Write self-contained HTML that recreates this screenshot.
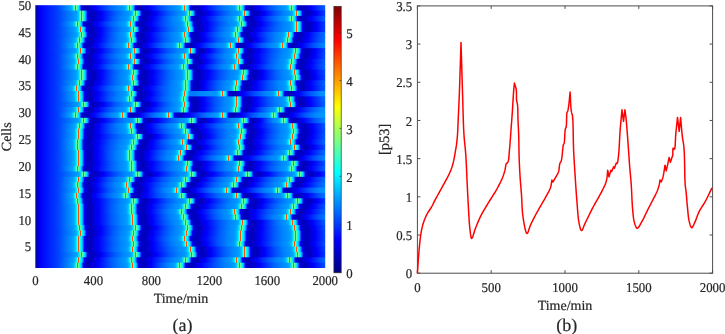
<!DOCTYPE html>
<html><head><meta charset="utf-8"><style>
html,body{margin:0;padding:0;background:#fff;width:725px;height:334px;overflow:hidden;}
svg{position:absolute;left:0;top:0;display:block;}
svg.b{filter:blur(0.3px);}
svg.h{filter:blur(0.25px);}
</style></head><body>
<svg class="h" width="725" height="334" viewBox="0 0 725 334"><defs><linearGradient id="g0"><stop offset="0.00000" stop-color="#00009b"/><stop offset="0.00345" stop-color="#0000ac"/><stop offset="0.01381" stop-color="#0000ef"/><stop offset="0.01726" stop-color="#0000fc"/><stop offset="0.03107" stop-color="#0010ff"/><stop offset="0.07594" stop-color="#003eff"/><stop offset="0.12081" stop-color="#00a4ff"/><stop offset="0.12427" stop-color="#00b4ff"/><stop offset="0.12772" stop-color="#00cdff"/><stop offset="0.13117" stop-color="#00f4ff"/><stop offset="0.13462" stop-color="#5cffa3"/><stop offset="0.13807" stop-color="#ff4e00"/><stop offset="0.14153" stop-color="#61ff9e"/><stop offset="0.14498" stop-color="#0afff5"/><stop offset="0.14843" stop-color="#00e7ff"/><stop offset="0.15188" stop-color="#00b0ff"/><stop offset="0.15533" stop-color="#0054ff"/><stop offset="0.15878" stop-color="#0001ff"/><stop offset="0.16224" stop-color="#0000da"/><stop offset="0.16569" stop-color="#0000ca"/><stop offset="0.17259" stop-color="#0000bf"/><stop offset="0.17950" stop-color="#0000bc"/><stop offset="0.20711" stop-color="#0000fc"/><stop offset="0.25544" stop-color="#005eff"/><stop offset="0.28650" stop-color="#008aff"/><stop offset="0.30031" stop-color="#0095ff"/><stop offset="0.30721" stop-color="#00a4ff"/><stop offset="0.31067" stop-color="#00b4ff"/><stop offset="0.31412" stop-color="#00cdff"/><stop offset="0.31757" stop-color="#00f4ff"/><stop offset="0.32102" stop-color="#5cffa3"/><stop offset="0.32447" stop-color="#ff4e00"/><stop offset="0.32793" stop-color="#61ff9e"/><stop offset="0.33138" stop-color="#0afff5"/><stop offset="0.33483" stop-color="#00e7ff"/><stop offset="0.33828" stop-color="#00b0ff"/><stop offset="0.34173" stop-color="#0054ff"/><stop offset="0.34518" stop-color="#0001ff"/><stop offset="0.34864" stop-color="#0000da"/><stop offset="0.35209" stop-color="#0000ca"/><stop offset="0.35899" stop-color="#0000bf"/><stop offset="0.36590" stop-color="#0000bc"/><stop offset="0.39351" stop-color="#0000fb"/><stop offset="0.40041" stop-color="#000bff"/><stop offset="0.44184" stop-color="#005aff"/><stop offset="0.47290" stop-color="#0086ff"/><stop offset="0.49016" stop-color="#0095ff"/><stop offset="0.49707" stop-color="#00a4ff"/><stop offset="0.50052" stop-color="#00b4ff"/><stop offset="0.50397" stop-color="#00cdff"/><stop offset="0.50742" stop-color="#00f4ff"/><stop offset="0.51087" stop-color="#5cffa3"/><stop offset="0.51433" stop-color="#ff4e00"/><stop offset="0.51778" stop-color="#61ff9e"/><stop offset="0.52123" stop-color="#0afff5"/><stop offset="0.52468" stop-color="#00e7ff"/><stop offset="0.52813" stop-color="#00b0ff"/><stop offset="0.53158" stop-color="#0054ff"/><stop offset="0.53504" stop-color="#0001ff"/><stop offset="0.53849" stop-color="#0000da"/><stop offset="0.54194" stop-color="#0000ca"/><stop offset="0.54884" stop-color="#0000bf"/><stop offset="0.55575" stop-color="#0000bc"/><stop offset="0.58336" stop-color="#0000fb"/><stop offset="0.59027" stop-color="#000bff"/><stop offset="0.63169" stop-color="#005aff"/><stop offset="0.66275" stop-color="#0086ff"/><stop offset="0.68001" stop-color="#0095ff"/><stop offset="0.68692" stop-color="#00a4ff"/><stop offset="0.69037" stop-color="#00b4ff"/><stop offset="0.69382" stop-color="#00cdff"/><stop offset="0.69727" stop-color="#00f4ff"/><stop offset="0.70072" stop-color="#5cffa3"/><stop offset="0.70418" stop-color="#ff4e00"/><stop offset="0.70763" stop-color="#61ff9e"/><stop offset="0.71108" stop-color="#0afff5"/><stop offset="0.71453" stop-color="#00e7ff"/><stop offset="0.71798" stop-color="#00b0ff"/><stop offset="0.72144" stop-color="#0054ff"/><stop offset="0.72489" stop-color="#0001ff"/><stop offset="0.72834" stop-color="#0000da"/><stop offset="0.73179" stop-color="#0000ca"/><stop offset="0.73870" stop-color="#0000bf"/><stop offset="0.74560" stop-color="#0000bc"/><stop offset="0.77321" stop-color="#0001ff"/><stop offset="0.81118" stop-color="#0053ff"/><stop offset="0.84225" stop-color="#0085ff"/><stop offset="0.85951" stop-color="#0095ff"/><stop offset="0.86641" stop-color="#00a4ff"/><stop offset="0.86987" stop-color="#00b4ff"/><stop offset="0.87332" stop-color="#00cdff"/><stop offset="0.87677" stop-color="#00f4ff"/><stop offset="0.88022" stop-color="#5cffa3"/><stop offset="0.88367" stop-color="#ff4e00"/><stop offset="0.88712" stop-color="#61ff9e"/><stop offset="0.89058" stop-color="#0afff5"/><stop offset="0.89403" stop-color="#00e7ff"/><stop offset="0.89748" stop-color="#00b0ff"/><stop offset="0.90093" stop-color="#0054ff"/><stop offset="0.90438" stop-color="#0001ff"/><stop offset="0.90784" stop-color="#0000da"/><stop offset="0.91129" stop-color="#0000ca"/><stop offset="0.91819" stop-color="#0000bf"/><stop offset="0.92509" stop-color="#0000bc"/><stop offset="0.95271" stop-color="#0000fe"/><stop offset="0.99413" stop-color="#0056ff"/><stop offset="1.00000" stop-color="#005fff"/></linearGradient><linearGradient id="g1"><stop offset="0.00000" stop-color="#00009b"/><stop offset="0.00345" stop-color="#0000ac"/><stop offset="0.01381" stop-color="#0000ef"/><stop offset="0.01726" stop-color="#0000fc"/><stop offset="0.03107" stop-color="#0010ff"/><stop offset="0.07939" stop-color="#0043ff"/><stop offset="0.13807" stop-color="#009cff"/><stop offset="0.14153" stop-color="#00a4ff"/><stop offset="0.14498" stop-color="#00b4ff"/><stop offset="0.14843" stop-color="#00cdff"/><stop offset="0.15188" stop-color="#00f4ff"/><stop offset="0.15533" stop-color="#5cffa3"/><stop offset="0.15878" stop-color="#ff4e00"/><stop offset="0.16224" stop-color="#61ff9e"/><stop offset="0.16569" stop-color="#0afff5"/><stop offset="0.16914" stop-color="#00e7ff"/><stop offset="0.17259" stop-color="#00b0ff"/><stop offset="0.17604" stop-color="#0054ff"/><stop offset="0.17950" stop-color="#0001ff"/><stop offset="0.18295" stop-color="#0000da"/><stop offset="0.18640" stop-color="#0000ca"/><stop offset="0.19330" stop-color="#0000bf"/><stop offset="0.20021" stop-color="#0000bc"/><stop offset="0.22782" stop-color="#0000fc"/><stop offset="0.27615" stop-color="#005eff"/><stop offset="0.30721" stop-color="#008aff"/><stop offset="0.32102" stop-color="#0095ff"/><stop offset="0.32793" stop-color="#00a4ff"/><stop offset="0.33138" stop-color="#00b4ff"/><stop offset="0.33483" stop-color="#00cdff"/><stop offset="0.33828" stop-color="#00f4ff"/><stop offset="0.34173" stop-color="#5cffa3"/><stop offset="0.34518" stop-color="#ff4e00"/><stop offset="0.34864" stop-color="#61ff9e"/><stop offset="0.35209" stop-color="#0afff5"/><stop offset="0.35554" stop-color="#00e7ff"/><stop offset="0.35899" stop-color="#00b0ff"/><stop offset="0.36244" stop-color="#0054ff"/><stop offset="0.36590" stop-color="#0001ff"/><stop offset="0.36935" stop-color="#0000da"/><stop offset="0.37280" stop-color="#0000ca"/><stop offset="0.37970" stop-color="#0000bf"/><stop offset="0.38661" stop-color="#0000bc"/><stop offset="0.41422" stop-color="#0000fc"/><stop offset="0.46255" stop-color="#005eff"/><stop offset="0.49361" stop-color="#008aff"/><stop offset="0.50742" stop-color="#0095ff"/><stop offset="0.51433" stop-color="#00a4ff"/><stop offset="0.51778" stop-color="#00b4ff"/><stop offset="0.52123" stop-color="#00cdff"/><stop offset="0.52468" stop-color="#00f4ff"/><stop offset="0.52813" stop-color="#5cffa3"/><stop offset="0.53158" stop-color="#ff4e00"/><stop offset="0.53504" stop-color="#61ff9e"/><stop offset="0.53849" stop-color="#0afff5"/><stop offset="0.54194" stop-color="#00e7ff"/><stop offset="0.54539" stop-color="#00b0ff"/><stop offset="0.54884" stop-color="#0054ff"/><stop offset="0.55230" stop-color="#0001ff"/><stop offset="0.55575" stop-color="#0000da"/><stop offset="0.55920" stop-color="#0000ca"/><stop offset="0.56610" stop-color="#0000bf"/><stop offset="0.57301" stop-color="#0000bc"/><stop offset="0.60062" stop-color="#0000fb"/><stop offset="0.60753" stop-color="#000bff"/><stop offset="0.64895" stop-color="#005aff"/><stop offset="0.68001" stop-color="#0086ff"/><stop offset="0.69727" stop-color="#0095ff"/><stop offset="0.70418" stop-color="#00a4ff"/><stop offset="0.70763" stop-color="#00b4ff"/><stop offset="0.71108" stop-color="#00cdff"/><stop offset="0.71453" stop-color="#00f4ff"/><stop offset="0.71798" stop-color="#5cffa3"/><stop offset="0.72144" stop-color="#ff4e00"/><stop offset="0.72489" stop-color="#61ff9e"/><stop offset="0.72834" stop-color="#0afff5"/><stop offset="0.73179" stop-color="#00e7ff"/><stop offset="0.73524" stop-color="#00b0ff"/><stop offset="0.73870" stop-color="#0054ff"/><stop offset="0.74215" stop-color="#0001ff"/><stop offset="0.74560" stop-color="#0000da"/><stop offset="0.74905" stop-color="#0000ca"/><stop offset="0.75595" stop-color="#0000bf"/><stop offset="0.76286" stop-color="#0000bc"/><stop offset="0.79047" stop-color="#0001ff"/><stop offset="0.82844" stop-color="#0053ff"/><stop offset="0.85951" stop-color="#0085ff"/><stop offset="0.87677" stop-color="#0095ff"/><stop offset="0.88367" stop-color="#00a4ff"/><stop offset="0.88712" stop-color="#00b4ff"/><stop offset="0.89058" stop-color="#00cdff"/><stop offset="0.89403" stop-color="#00f4ff"/><stop offset="0.89748" stop-color="#5cffa3"/><stop offset="0.90093" stop-color="#ff4e00"/><stop offset="0.90438" stop-color="#61ff9e"/><stop offset="0.90784" stop-color="#0afff5"/><stop offset="0.91129" stop-color="#00e7ff"/><stop offset="0.91474" stop-color="#00b0ff"/><stop offset="0.91819" stop-color="#0054ff"/><stop offset="0.92164" stop-color="#0001ff"/><stop offset="0.92509" stop-color="#0000da"/><stop offset="0.92855" stop-color="#0000ca"/><stop offset="0.93545" stop-color="#0000bf"/><stop offset="0.94235" stop-color="#0000bc"/><stop offset="0.96997" stop-color="#0000fe"/><stop offset="0.99758" stop-color="#003bff"/><stop offset="1.00000" stop-color="#003fff"/></linearGradient><linearGradient id="g2"><stop offset="0.00000" stop-color="#00009b"/><stop offset="0.00345" stop-color="#0000ac"/><stop offset="0.01381" stop-color="#0000ef"/><stop offset="0.01726" stop-color="#0000fc"/><stop offset="0.03107" stop-color="#0010ff"/><stop offset="0.07939" stop-color="#0043ff"/><stop offset="0.13807" stop-color="#009cff"/><stop offset="0.14153" stop-color="#00a4ff"/><stop offset="0.14498" stop-color="#00b4ff"/><stop offset="0.14843" stop-color="#00cdff"/><stop offset="0.15188" stop-color="#00f4ff"/><stop offset="0.15533" stop-color="#5cffa3"/><stop offset="0.15878" stop-color="#ff4e00"/><stop offset="0.16224" stop-color="#61ff9e"/><stop offset="0.16569" stop-color="#0afff5"/><stop offset="0.16914" stop-color="#00e7ff"/><stop offset="0.17259" stop-color="#00b0ff"/><stop offset="0.17604" stop-color="#0054ff"/><stop offset="0.17950" stop-color="#0001ff"/><stop offset="0.18295" stop-color="#0000da"/><stop offset="0.18640" stop-color="#0000ca"/><stop offset="0.19330" stop-color="#0000bf"/><stop offset="0.20021" stop-color="#0000bc"/><stop offset="0.22782" stop-color="#0001ff"/><stop offset="0.26579" stop-color="#0053ff"/><stop offset="0.29686" stop-color="#0085ff"/><stop offset="0.31412" stop-color="#0095ff"/><stop offset="0.32102" stop-color="#00a4ff"/><stop offset="0.32447" stop-color="#00b4ff"/><stop offset="0.32793" stop-color="#00cdff"/><stop offset="0.33138" stop-color="#00f4ff"/><stop offset="0.33483" stop-color="#5cffa3"/><stop offset="0.33828" stop-color="#ff4e00"/><stop offset="0.34173" stop-color="#61ff9e"/><stop offset="0.34518" stop-color="#0afff5"/><stop offset="0.34864" stop-color="#00e7ff"/><stop offset="0.35209" stop-color="#00b0ff"/><stop offset="0.35554" stop-color="#0054ff"/><stop offset="0.35899" stop-color="#0001ff"/><stop offset="0.36244" stop-color="#0000da"/><stop offset="0.36590" stop-color="#0000ca"/><stop offset="0.37280" stop-color="#0000bf"/><stop offset="0.37970" stop-color="#0000bc"/><stop offset="0.40732" stop-color="#0001ff"/><stop offset="0.44529" stop-color="#0053ff"/><stop offset="0.47635" stop-color="#0085ff"/><stop offset="0.49361" stop-color="#0095ff"/><stop offset="0.50052" stop-color="#00a4ff"/><stop offset="0.50397" stop-color="#00b4ff"/><stop offset="0.50742" stop-color="#00cdff"/><stop offset="0.51087" stop-color="#00f4ff"/><stop offset="0.51433" stop-color="#5cffa3"/><stop offset="0.51778" stop-color="#ff4e00"/><stop offset="0.52123" stop-color="#61ff9e"/><stop offset="0.52468" stop-color="#0afff5"/><stop offset="0.52813" stop-color="#00e7ff"/><stop offset="0.53158" stop-color="#00b0ff"/><stop offset="0.53504" stop-color="#0054ff"/><stop offset="0.53849" stop-color="#0001ff"/><stop offset="0.54194" stop-color="#0000da"/><stop offset="0.54539" stop-color="#0000ca"/><stop offset="0.55230" stop-color="#0000bf"/><stop offset="0.55920" stop-color="#0000bc"/><stop offset="0.58681" stop-color="#0000fc"/><stop offset="0.63514" stop-color="#005eff"/><stop offset="0.66621" stop-color="#008aff"/><stop offset="0.68001" stop-color="#0095ff"/><stop offset="0.68692" stop-color="#00a4ff"/><stop offset="0.69037" stop-color="#00b4ff"/><stop offset="0.69382" stop-color="#00cdff"/><stop offset="0.69727" stop-color="#00f4ff"/><stop offset="0.70072" stop-color="#5cffa3"/><stop offset="0.70418" stop-color="#ff4e00"/><stop offset="0.70763" stop-color="#61ff9e"/><stop offset="0.71108" stop-color="#0afff5"/><stop offset="0.71453" stop-color="#00e7ff"/><stop offset="0.71798" stop-color="#00b0ff"/><stop offset="0.72144" stop-color="#0054ff"/><stop offset="0.72489" stop-color="#0001ff"/><stop offset="0.72834" stop-color="#0000da"/><stop offset="0.73179" stop-color="#0000ca"/><stop offset="0.73870" stop-color="#0000bf"/><stop offset="0.74560" stop-color="#0000bc"/><stop offset="0.77321" stop-color="#0001ff"/><stop offset="0.81118" stop-color="#0053ff"/><stop offset="0.84225" stop-color="#0085ff"/><stop offset="0.85951" stop-color="#0095ff"/><stop offset="0.86641" stop-color="#00a4ff"/><stop offset="0.86987" stop-color="#00b4ff"/><stop offset="0.87332" stop-color="#00cdff"/><stop offset="0.87677" stop-color="#00f4ff"/><stop offset="0.88022" stop-color="#5cffa3"/><stop offset="0.88367" stop-color="#ff4e00"/><stop offset="0.88712" stop-color="#61ff9e"/><stop offset="0.89058" stop-color="#0afff5"/><stop offset="0.89403" stop-color="#00e7ff"/><stop offset="0.89748" stop-color="#00b0ff"/><stop offset="0.90093" stop-color="#0054ff"/><stop offset="0.90438" stop-color="#0001ff"/><stop offset="0.90784" stop-color="#0000da"/><stop offset="0.91129" stop-color="#0000ca"/><stop offset="0.91819" stop-color="#0000bf"/><stop offset="0.92509" stop-color="#0000bc"/><stop offset="0.95271" stop-color="#0000fe"/><stop offset="0.99413" stop-color="#0056ff"/><stop offset="1.00000" stop-color="#005fff"/></linearGradient><linearGradient id="g3"><stop offset="0.00000" stop-color="#00009b"/><stop offset="0.00345" stop-color="#0000ac"/><stop offset="0.01381" stop-color="#0000ef"/><stop offset="0.01726" stop-color="#0000fc"/><stop offset="0.03107" stop-color="#0010ff"/><stop offset="0.07594" stop-color="#003eff"/><stop offset="0.12772" stop-color="#00a4ff"/><stop offset="0.13117" stop-color="#00b4ff"/><stop offset="0.13462" stop-color="#00cdff"/><stop offset="0.13807" stop-color="#00f4ff"/><stop offset="0.14153" stop-color="#5cffa3"/><stop offset="0.14498" stop-color="#ff4e00"/><stop offset="0.14843" stop-color="#61ff9e"/><stop offset="0.15188" stop-color="#0afff5"/><stop offset="0.15533" stop-color="#00e7ff"/><stop offset="0.15878" stop-color="#00b0ff"/><stop offset="0.16224" stop-color="#0054ff"/><stop offset="0.16569" stop-color="#0001ff"/><stop offset="0.16914" stop-color="#0000da"/><stop offset="0.17259" stop-color="#0000ca"/><stop offset="0.17950" stop-color="#0000bf"/><stop offset="0.18640" stop-color="#0000bc"/><stop offset="0.21401" stop-color="#0000fe"/><stop offset="0.25544" stop-color="#0056ff"/><stop offset="0.28650" stop-color="#0085ff"/><stop offset="0.30376" stop-color="#0095ff"/><stop offset="0.31067" stop-color="#00a4ff"/><stop offset="0.31412" stop-color="#00b4ff"/><stop offset="0.31757" stop-color="#00cdff"/><stop offset="0.32102" stop-color="#00f4ff"/><stop offset="0.32447" stop-color="#5cffa3"/><stop offset="0.32793" stop-color="#ff4e00"/><stop offset="0.33138" stop-color="#61ff9e"/><stop offset="0.33483" stop-color="#0afff5"/><stop offset="0.33828" stop-color="#00e7ff"/><stop offset="0.34173" stop-color="#00b0ff"/><stop offset="0.34518" stop-color="#0054ff"/><stop offset="0.34864" stop-color="#0001ff"/><stop offset="0.35209" stop-color="#0000da"/><stop offset="0.35554" stop-color="#0000ca"/><stop offset="0.36244" stop-color="#0000bf"/><stop offset="0.36935" stop-color="#0000bc"/><stop offset="0.40041" stop-color="#0000ff"/><stop offset="0.44529" stop-color="#0054ff"/><stop offset="0.47981" stop-color="#0084ff"/><stop offset="0.50052" stop-color="#0095ff"/><stop offset="0.50742" stop-color="#00a4ff"/><stop offset="0.51087" stop-color="#00b4ff"/><stop offset="0.51433" stop-color="#00cdff"/><stop offset="0.51778" stop-color="#00f4ff"/><stop offset="0.52123" stop-color="#5cffa3"/><stop offset="0.52468" stop-color="#ff4e00"/><stop offset="0.52813" stop-color="#61ff9e"/><stop offset="0.53158" stop-color="#0afff5"/><stop offset="0.53504" stop-color="#00e7ff"/><stop offset="0.53849" stop-color="#00b0ff"/><stop offset="0.54194" stop-color="#0054ff"/><stop offset="0.54539" stop-color="#0001ff"/><stop offset="0.54884" stop-color="#0000da"/><stop offset="0.55230" stop-color="#0000ca"/><stop offset="0.55920" stop-color="#0000bf"/><stop offset="0.56610" stop-color="#0000bc"/><stop offset="0.59372" stop-color="#0000fc"/><stop offset="0.64204" stop-color="#005eff"/><stop offset="0.67311" stop-color="#008aff"/><stop offset="0.68692" stop-color="#0095ff"/><stop offset="0.69382" stop-color="#00a4ff"/><stop offset="0.69727" stop-color="#00b4ff"/><stop offset="0.70072" stop-color="#00cdff"/><stop offset="0.70418" stop-color="#00f4ff"/><stop offset="0.70763" stop-color="#5cffa3"/><stop offset="0.71108" stop-color="#ff4e00"/><stop offset="0.71453" stop-color="#61ff9e"/><stop offset="0.71798" stop-color="#0afff5"/><stop offset="0.72144" stop-color="#00e7ff"/><stop offset="0.72489" stop-color="#00b0ff"/><stop offset="0.72834" stop-color="#0054ff"/><stop offset="0.73179" stop-color="#0001ff"/><stop offset="0.73524" stop-color="#0000da"/><stop offset="0.73870" stop-color="#0000ca"/><stop offset="0.74560" stop-color="#0000bf"/><stop offset="0.75250" stop-color="#0000bc"/><stop offset="0.78012" stop-color="#0000fb"/><stop offset="0.78702" stop-color="#000bff"/><stop offset="0.82844" stop-color="#005aff"/><stop offset="0.85951" stop-color="#0086ff"/><stop offset="0.87677" stop-color="#0095ff"/><stop offset="0.88367" stop-color="#00a4ff"/><stop offset="0.88712" stop-color="#00b4ff"/><stop offset="0.89058" stop-color="#00cdff"/><stop offset="0.89403" stop-color="#00f4ff"/><stop offset="0.89748" stop-color="#5cffa3"/><stop offset="0.90093" stop-color="#ff4e00"/><stop offset="0.90438" stop-color="#61ff9e"/><stop offset="0.90784" stop-color="#0afff5"/><stop offset="0.91129" stop-color="#00e7ff"/><stop offset="0.91474" stop-color="#00b0ff"/><stop offset="0.91819" stop-color="#0054ff"/><stop offset="0.92164" stop-color="#0001ff"/><stop offset="0.92509" stop-color="#0000da"/><stop offset="0.92855" stop-color="#0000ca"/><stop offset="0.93545" stop-color="#0000bf"/><stop offset="0.94235" stop-color="#0000bc"/><stop offset="0.96997" stop-color="#0000fe"/><stop offset="0.99758" stop-color="#003bff"/><stop offset="1.00000" stop-color="#003fff"/></linearGradient><linearGradient id="g4"><stop offset="0.00000" stop-color="#00009b"/><stop offset="0.00345" stop-color="#0000ac"/><stop offset="0.01381" stop-color="#0000ef"/><stop offset="0.01726" stop-color="#0000fc"/><stop offset="0.03107" stop-color="#0010ff"/><stop offset="0.07939" stop-color="#0043ff"/><stop offset="0.13462" stop-color="#009cff"/><stop offset="0.13807" stop-color="#00a4ff"/><stop offset="0.14153" stop-color="#00b4ff"/><stop offset="0.14498" stop-color="#00cdff"/><stop offset="0.14843" stop-color="#00f4ff"/><stop offset="0.15188" stop-color="#5cffa3"/><stop offset="0.15533" stop-color="#ff4e00"/><stop offset="0.15878" stop-color="#61ff9e"/><stop offset="0.16224" stop-color="#0afff5"/><stop offset="0.16569" stop-color="#00e7ff"/><stop offset="0.16914" stop-color="#00b0ff"/><stop offset="0.17259" stop-color="#0054ff"/><stop offset="0.17604" stop-color="#0001ff"/><stop offset="0.17950" stop-color="#0000da"/><stop offset="0.18295" stop-color="#0000ca"/><stop offset="0.18985" stop-color="#0000bf"/><stop offset="0.19676" stop-color="#0000bc"/><stop offset="0.22437" stop-color="#0000fe"/><stop offset="0.26579" stop-color="#0056ff"/><stop offset="0.29686" stop-color="#0085ff"/><stop offset="0.31412" stop-color="#0095ff"/><stop offset="0.32102" stop-color="#00a4ff"/><stop offset="0.32447" stop-color="#00b4ff"/><stop offset="0.32793" stop-color="#00cdff"/><stop offset="0.33138" stop-color="#00f4ff"/><stop offset="0.33483" stop-color="#5cffa3"/><stop offset="0.33828" stop-color="#ff4e00"/><stop offset="0.34173" stop-color="#61ff9e"/><stop offset="0.34518" stop-color="#0afff5"/><stop offset="0.34864" stop-color="#00e7ff"/><stop offset="0.35209" stop-color="#00b0ff"/><stop offset="0.35554" stop-color="#0054ff"/><stop offset="0.35899" stop-color="#0001ff"/><stop offset="0.36244" stop-color="#0000da"/><stop offset="0.36590" stop-color="#0000ca"/><stop offset="0.37280" stop-color="#0000bf"/><stop offset="0.37970" stop-color="#0000bc"/><stop offset="0.40732" stop-color="#0000fb"/><stop offset="0.41422" stop-color="#000bff"/><stop offset="0.45564" stop-color="#005aff"/><stop offset="0.48671" stop-color="#0086ff"/><stop offset="0.50397" stop-color="#0095ff"/><stop offset="0.51087" stop-color="#00a4ff"/><stop offset="0.51433" stop-color="#00b4ff"/><stop offset="0.51778" stop-color="#00cdff"/><stop offset="0.52123" stop-color="#00f4ff"/><stop offset="0.52468" stop-color="#5cffa3"/><stop offset="0.52813" stop-color="#ff4e00"/><stop offset="0.53158" stop-color="#61ff9e"/><stop offset="0.53504" stop-color="#0afff5"/><stop offset="0.53849" stop-color="#00e7ff"/><stop offset="0.54194" stop-color="#00b0ff"/><stop offset="0.54539" stop-color="#0054ff"/><stop offset="0.54884" stop-color="#0001ff"/><stop offset="0.55230" stop-color="#0000da"/><stop offset="0.55575" stop-color="#0000ca"/><stop offset="0.56265" stop-color="#0000bf"/><stop offset="0.56955" stop-color="#0000bc"/><stop offset="0.59372" stop-color="#0000fe"/><stop offset="0.63169" stop-color="#0058ff"/><stop offset="0.65930" stop-color="#0087ff"/><stop offset="0.67311" stop-color="#0095ff"/><stop offset="0.68001" stop-color="#00a4ff"/><stop offset="0.68347" stop-color="#00b4ff"/><stop offset="0.68692" stop-color="#00cdff"/><stop offset="0.69037" stop-color="#00f4ff"/><stop offset="0.69382" stop-color="#5cffa3"/><stop offset="0.69727" stop-color="#ff4e00"/><stop offset="0.70072" stop-color="#61ff9e"/><stop offset="0.70418" stop-color="#0afff5"/><stop offset="0.70763" stop-color="#00e7ff"/><stop offset="0.71108" stop-color="#00b0ff"/><stop offset="0.71453" stop-color="#0054ff"/><stop offset="0.71798" stop-color="#0001ff"/><stop offset="0.72144" stop-color="#0000da"/><stop offset="0.72489" stop-color="#0000ca"/><stop offset="0.73179" stop-color="#0000bf"/><stop offset="0.73870" stop-color="#0000bc"/><stop offset="0.76976" stop-color="#0000fb"/><stop offset="0.78012" stop-color="#0011ff"/><stop offset="0.82499" stop-color="#005dff"/><stop offset="0.85951" stop-color="#0088ff"/><stop offset="0.87677" stop-color="#0095ff"/><stop offset="0.88367" stop-color="#00a4ff"/><stop offset="0.88712" stop-color="#00b4ff"/><stop offset="0.89058" stop-color="#00cdff"/><stop offset="0.89403" stop-color="#00f4ff"/><stop offset="0.89748" stop-color="#5cffa3"/><stop offset="0.90093" stop-color="#ff4e00"/><stop offset="0.90438" stop-color="#61ff9e"/><stop offset="0.90784" stop-color="#0afff5"/><stop offset="0.91129" stop-color="#00e7ff"/><stop offset="0.91474" stop-color="#00b0ff"/><stop offset="0.91819" stop-color="#0054ff"/><stop offset="0.92164" stop-color="#0001ff"/><stop offset="0.92509" stop-color="#0000da"/><stop offset="0.92855" stop-color="#0000ca"/><stop offset="0.93545" stop-color="#0000bf"/><stop offset="0.94235" stop-color="#0000bc"/><stop offset="0.96997" stop-color="#0000fe"/><stop offset="0.99758" stop-color="#003bff"/><stop offset="1.00000" stop-color="#003fff"/></linearGradient><linearGradient id="g5"><stop offset="0.00000" stop-color="#00009b"/><stop offset="0.00345" stop-color="#0000ac"/><stop offset="0.01381" stop-color="#0000ef"/><stop offset="0.01726" stop-color="#0000fc"/><stop offset="0.03107" stop-color="#0010ff"/><stop offset="0.07939" stop-color="#0043ff"/><stop offset="0.13807" stop-color="#009cff"/><stop offset="0.14153" stop-color="#00a4ff"/><stop offset="0.14498" stop-color="#00b4ff"/><stop offset="0.14843" stop-color="#00cdff"/><stop offset="0.15188" stop-color="#00f4ff"/><stop offset="0.15533" stop-color="#5cffa3"/><stop offset="0.15878" stop-color="#ff4e00"/><stop offset="0.16224" stop-color="#61ff9e"/><stop offset="0.16569" stop-color="#0afff5"/><stop offset="0.16914" stop-color="#00e7ff"/><stop offset="0.17259" stop-color="#00b0ff"/><stop offset="0.17604" stop-color="#0054ff"/><stop offset="0.17950" stop-color="#0001ff"/><stop offset="0.18295" stop-color="#0000da"/><stop offset="0.18640" stop-color="#0000ca"/><stop offset="0.19330" stop-color="#0000bf"/><stop offset="0.20021" stop-color="#0000bc"/><stop offset="0.22437" stop-color="#0000fe"/><stop offset="0.26234" stop-color="#0058ff"/><stop offset="0.28996" stop-color="#0087ff"/><stop offset="0.30376" stop-color="#0095ff"/><stop offset="0.31067" stop-color="#00a4ff"/><stop offset="0.31412" stop-color="#00b4ff"/><stop offset="0.31757" stop-color="#00cdff"/><stop offset="0.32102" stop-color="#00f4ff"/><stop offset="0.32447" stop-color="#5cffa3"/><stop offset="0.32793" stop-color="#ff4e00"/><stop offset="0.33138" stop-color="#61ff9e"/><stop offset="0.33483" stop-color="#0afff5"/><stop offset="0.33828" stop-color="#00e7ff"/><stop offset="0.34173" stop-color="#00b0ff"/><stop offset="0.34518" stop-color="#0054ff"/><stop offset="0.34864" stop-color="#0001ff"/><stop offset="0.35209" stop-color="#0000da"/><stop offset="0.35554" stop-color="#0000ca"/><stop offset="0.36244" stop-color="#0000bf"/><stop offset="0.36935" stop-color="#0000bc"/><stop offset="0.39696" stop-color="#0000fc"/><stop offset="0.44529" stop-color="#005eff"/><stop offset="0.47635" stop-color="#008aff"/><stop offset="0.49016" stop-color="#0095ff"/><stop offset="0.49707" stop-color="#00a4ff"/><stop offset="0.50052" stop-color="#00b4ff"/><stop offset="0.50397" stop-color="#00cdff"/><stop offset="0.50742" stop-color="#00f4ff"/><stop offset="0.51087" stop-color="#5cffa3"/><stop offset="0.51433" stop-color="#ff4e00"/><stop offset="0.51778" stop-color="#61ff9e"/><stop offset="0.52123" stop-color="#0afff5"/><stop offset="0.52468" stop-color="#00e7ff"/><stop offset="0.52813" stop-color="#00b0ff"/><stop offset="0.53158" stop-color="#0054ff"/><stop offset="0.53504" stop-color="#0001ff"/><stop offset="0.53849" stop-color="#0000da"/><stop offset="0.54194" stop-color="#0000ca"/><stop offset="0.54884" stop-color="#0000bf"/><stop offset="0.55575" stop-color="#0000bc"/><stop offset="0.57991" stop-color="#0000fa"/><stop offset="0.58336" stop-color="#0003ff"/><stop offset="0.61788" stop-color="#0050ff"/><stop offset="0.64550" stop-color="#007fff"/><stop offset="0.66621" stop-color="#0095ff"/><stop offset="0.67311" stop-color="#00a4ff"/><stop offset="0.67656" stop-color="#00b4ff"/><stop offset="0.68001" stop-color="#00cdff"/><stop offset="0.68347" stop-color="#00f4ff"/><stop offset="0.68692" stop-color="#5cffa3"/><stop offset="0.69037" stop-color="#ff4e00"/><stop offset="0.69382" stop-color="#61ff9e"/><stop offset="0.69727" stop-color="#0afff5"/><stop offset="0.70072" stop-color="#00e7ff"/><stop offset="0.70418" stop-color="#00b0ff"/><stop offset="0.70763" stop-color="#0054ff"/><stop offset="0.71108" stop-color="#0001ff"/><stop offset="0.71453" stop-color="#0000da"/><stop offset="0.71798" stop-color="#0000ca"/><stop offset="0.72489" stop-color="#0000bf"/><stop offset="0.73179" stop-color="#0000bc"/><stop offset="0.75941" stop-color="#0000fe"/><stop offset="0.80083" stop-color="#0056ff"/><stop offset="0.83190" stop-color="#0085ff"/><stop offset="0.84915" stop-color="#0095ff"/><stop offset="0.85606" stop-color="#00a4ff"/><stop offset="0.85951" stop-color="#00b4ff"/><stop offset="0.86296" stop-color="#00cdff"/><stop offset="0.86641" stop-color="#00f4ff"/><stop offset="0.86987" stop-color="#5cffa3"/><stop offset="0.87332" stop-color="#ff4e00"/><stop offset="0.87677" stop-color="#61ff9e"/><stop offset="0.88022" stop-color="#0afff5"/><stop offset="0.88367" stop-color="#00e7ff"/><stop offset="0.88712" stop-color="#00b0ff"/><stop offset="0.89058" stop-color="#0054ff"/><stop offset="0.89403" stop-color="#0001ff"/><stop offset="0.89748" stop-color="#0000da"/><stop offset="0.90093" stop-color="#0000ca"/><stop offset="0.90784" stop-color="#0000bf"/><stop offset="0.91474" stop-color="#0000bc"/><stop offset="0.94235" stop-color="#0000fe"/><stop offset="0.98378" stop-color="#0056ff"/><stop offset="1.00000" stop-color="#0070ff"/></linearGradient><linearGradient id="g6"><stop offset="0.00000" stop-color="#00009b"/><stop offset="0.00345" stop-color="#0000ac"/><stop offset="0.01381" stop-color="#0000ef"/><stop offset="0.01726" stop-color="#0000fc"/><stop offset="0.03107" stop-color="#0010ff"/><stop offset="0.07939" stop-color="#0044ff"/><stop offset="0.13117" stop-color="#009cff"/><stop offset="0.13462" stop-color="#00a4ff"/><stop offset="0.13807" stop-color="#00b4ff"/><stop offset="0.14153" stop-color="#00cdff"/><stop offset="0.14498" stop-color="#00f4ff"/><stop offset="0.14843" stop-color="#5cffa3"/><stop offset="0.15188" stop-color="#ff4e00"/><stop offset="0.15533" stop-color="#61ff9e"/><stop offset="0.15878" stop-color="#0afff5"/><stop offset="0.16224" stop-color="#00e7ff"/><stop offset="0.16569" stop-color="#00b0ff"/><stop offset="0.16914" stop-color="#0054ff"/><stop offset="0.17259" stop-color="#0001ff"/><stop offset="0.17604" stop-color="#0000da"/><stop offset="0.17950" stop-color="#0000ca"/><stop offset="0.18640" stop-color="#0000bf"/><stop offset="0.19330" stop-color="#0000bc"/><stop offset="0.22092" stop-color="#0001ff"/><stop offset="0.25889" stop-color="#0053ff"/><stop offset="0.28996" stop-color="#0085ff"/><stop offset="0.30721" stop-color="#0095ff"/><stop offset="0.31412" stop-color="#00a4ff"/><stop offset="0.31757" stop-color="#00b4ff"/><stop offset="0.32102" stop-color="#00cdff"/><stop offset="0.32447" stop-color="#00f4ff"/><stop offset="0.32793" stop-color="#5cffa3"/><stop offset="0.33138" stop-color="#ff4e00"/><stop offset="0.33483" stop-color="#61ff9e"/><stop offset="0.33828" stop-color="#0afff5"/><stop offset="0.34173" stop-color="#00e7ff"/><stop offset="0.34518" stop-color="#00b0ff"/><stop offset="0.34864" stop-color="#0054ff"/><stop offset="0.35209" stop-color="#0001ff"/><stop offset="0.35554" stop-color="#0000da"/><stop offset="0.35899" stop-color="#0000ca"/><stop offset="0.36590" stop-color="#0000bf"/><stop offset="0.37280" stop-color="#0000bc"/><stop offset="0.40041" stop-color="#0000fc"/><stop offset="0.44874" stop-color="#005eff"/><stop offset="0.47981" stop-color="#008aff"/><stop offset="0.49361" stop-color="#0095ff"/><stop offset="0.50052" stop-color="#00a4ff"/><stop offset="0.50397" stop-color="#00b4ff"/><stop offset="0.50742" stop-color="#00cdff"/><stop offset="0.51087" stop-color="#00f4ff"/><stop offset="0.51433" stop-color="#5cffa3"/><stop offset="0.51778" stop-color="#ff4e00"/><stop offset="0.52123" stop-color="#61ff9e"/><stop offset="0.52468" stop-color="#0afff5"/><stop offset="0.52813" stop-color="#00e7ff"/><stop offset="0.53158" stop-color="#00b0ff"/><stop offset="0.53504" stop-color="#0054ff"/><stop offset="0.53849" stop-color="#0001ff"/><stop offset="0.54194" stop-color="#0000da"/><stop offset="0.54539" stop-color="#0000ca"/><stop offset="0.55230" stop-color="#0000bf"/><stop offset="0.55920" stop-color="#0000bc"/><stop offset="0.58681" stop-color="#0000fe"/><stop offset="0.62824" stop-color="#0056ff"/><stop offset="0.65930" stop-color="#0085ff"/><stop offset="0.67656" stop-color="#0095ff"/><stop offset="0.68347" stop-color="#00a4ff"/><stop offset="0.68692" stop-color="#00b4ff"/><stop offset="0.69037" stop-color="#00cdff"/><stop offset="0.69382" stop-color="#00f4ff"/><stop offset="0.69727" stop-color="#5cffa3"/><stop offset="0.70072" stop-color="#ff4e00"/><stop offset="0.70418" stop-color="#61ff9e"/><stop offset="0.70763" stop-color="#0afff5"/><stop offset="0.71108" stop-color="#00e7ff"/><stop offset="0.71453" stop-color="#00b0ff"/><stop offset="0.71798" stop-color="#0054ff"/><stop offset="0.72144" stop-color="#0001ff"/><stop offset="0.72489" stop-color="#0000da"/><stop offset="0.72834" stop-color="#0000ca"/><stop offset="0.73524" stop-color="#0000bf"/><stop offset="0.74215" stop-color="#0000bc"/><stop offset="0.76631" stop-color="#0000fe"/><stop offset="0.80428" stop-color="#0058ff"/><stop offset="0.83190" stop-color="#0087ff"/><stop offset="0.84570" stop-color="#0095ff"/><stop offset="0.85261" stop-color="#00a4ff"/><stop offset="0.85606" stop-color="#00b4ff"/><stop offset="0.85951" stop-color="#00cdff"/><stop offset="0.86296" stop-color="#00f4ff"/><stop offset="0.86641" stop-color="#5cffa3"/><stop offset="0.86987" stop-color="#ff4e00"/><stop offset="0.87332" stop-color="#61ff9e"/><stop offset="0.87677" stop-color="#0afff5"/><stop offset="0.88022" stop-color="#00e7ff"/><stop offset="0.88367" stop-color="#00b0ff"/><stop offset="0.88712" stop-color="#0054ff"/><stop offset="0.89058" stop-color="#0001ff"/><stop offset="0.89403" stop-color="#0000da"/><stop offset="0.89748" stop-color="#0000ca"/><stop offset="0.90438" stop-color="#0000bf"/><stop offset="0.91129" stop-color="#0000bc"/><stop offset="0.93890" stop-color="#0000fe"/><stop offset="0.98032" stop-color="#0056ff"/><stop offset="1.00000" stop-color="#0076ff"/></linearGradient><linearGradient id="g7"><stop offset="0.00000" stop-color="#00009b"/><stop offset="0.00345" stop-color="#0000ac"/><stop offset="0.01381" stop-color="#0000ef"/><stop offset="0.01726" stop-color="#0000fc"/><stop offset="0.03107" stop-color="#0010ff"/><stop offset="0.07594" stop-color="#003eff"/><stop offset="0.12772" stop-color="#00a4ff"/><stop offset="0.13117" stop-color="#00b4ff"/><stop offset="0.13462" stop-color="#00cdff"/><stop offset="0.13807" stop-color="#00f4ff"/><stop offset="0.14153" stop-color="#5cffa3"/><stop offset="0.14498" stop-color="#ff4e00"/><stop offset="0.14843" stop-color="#61ff9e"/><stop offset="0.15188" stop-color="#0afff5"/><stop offset="0.15533" stop-color="#00e7ff"/><stop offset="0.15878" stop-color="#00b0ff"/><stop offset="0.16224" stop-color="#0054ff"/><stop offset="0.16569" stop-color="#0001ff"/><stop offset="0.16914" stop-color="#0000da"/><stop offset="0.17259" stop-color="#0000ca"/><stop offset="0.17950" stop-color="#0000bf"/><stop offset="0.18640" stop-color="#0000bc"/><stop offset="0.21056" stop-color="#0000fa"/><stop offset="0.21401" stop-color="#0003ff"/><stop offset="0.24853" stop-color="#0050ff"/><stop offset="0.27615" stop-color="#007fff"/><stop offset="0.29686" stop-color="#0095ff"/><stop offset="0.30376" stop-color="#00a4ff"/><stop offset="0.30721" stop-color="#00b4ff"/><stop offset="0.31067" stop-color="#00cdff"/><stop offset="0.31412" stop-color="#00f4ff"/><stop offset="0.31757" stop-color="#5cffa3"/><stop offset="0.32102" stop-color="#ff4e00"/><stop offset="0.32447" stop-color="#61ff9e"/><stop offset="0.32793" stop-color="#0afff5"/><stop offset="0.33138" stop-color="#00e7ff"/><stop offset="0.33483" stop-color="#00b0ff"/><stop offset="0.33828" stop-color="#0054ff"/><stop offset="0.34173" stop-color="#0001ff"/><stop offset="0.34518" stop-color="#0000da"/><stop offset="0.34864" stop-color="#0000ca"/><stop offset="0.35554" stop-color="#0000bf"/><stop offset="0.36244" stop-color="#0000bc"/><stop offset="0.38661" stop-color="#0000fa"/><stop offset="0.39006" stop-color="#0003ff"/><stop offset="0.42458" stop-color="#0050ff"/><stop offset="0.45219" stop-color="#007fff"/><stop offset="0.47290" stop-color="#0095ff"/><stop offset="0.47981" stop-color="#00a4ff"/><stop offset="0.48326" stop-color="#00b4ff"/><stop offset="0.48671" stop-color="#00cdff"/><stop offset="0.49016" stop-color="#00f4ff"/><stop offset="0.49361" stop-color="#5cffa3"/><stop offset="0.49707" stop-color="#ff4e00"/><stop offset="0.50052" stop-color="#61ff9e"/><stop offset="0.50397" stop-color="#0afff5"/><stop offset="0.50742" stop-color="#00e7ff"/><stop offset="0.51087" stop-color="#00b0ff"/><stop offset="0.51433" stop-color="#0054ff"/><stop offset="0.51778" stop-color="#0001ff"/><stop offset="0.52123" stop-color="#0000da"/><stop offset="0.52468" stop-color="#0000ca"/><stop offset="0.53158" stop-color="#0000bf"/><stop offset="0.53849" stop-color="#0000bc"/><stop offset="0.56265" stop-color="#0000fa"/><stop offset="0.56610" stop-color="#0003ff"/><stop offset="0.60062" stop-color="#0050ff"/><stop offset="0.62824" stop-color="#007fff"/><stop offset="0.64895" stop-color="#0095ff"/><stop offset="0.65585" stop-color="#00a4ff"/><stop offset="0.65930" stop-color="#00b4ff"/><stop offset="0.66275" stop-color="#00cdff"/><stop offset="0.66621" stop-color="#00f4ff"/><stop offset="0.66966" stop-color="#5cffa3"/><stop offset="0.67311" stop-color="#ff4e00"/><stop offset="0.67656" stop-color="#61ff9e"/><stop offset="0.68001" stop-color="#0afff5"/><stop offset="0.68347" stop-color="#00e7ff"/><stop offset="0.68692" stop-color="#00b0ff"/><stop offset="0.69037" stop-color="#0054ff"/><stop offset="0.69382" stop-color="#0001ff"/><stop offset="0.69727" stop-color="#0000da"/><stop offset="0.70072" stop-color="#0000ca"/><stop offset="0.70763" stop-color="#0000bf"/><stop offset="0.71453" stop-color="#0000bc"/><stop offset="0.74215" stop-color="#0001ff"/><stop offset="0.78012" stop-color="#0053ff"/><stop offset="0.81118" stop-color="#0085ff"/><stop offset="0.82844" stop-color="#0095ff"/><stop offset="0.83535" stop-color="#00a4ff"/><stop offset="0.83880" stop-color="#00b4ff"/><stop offset="0.84225" stop-color="#00cdff"/><stop offset="0.84570" stop-color="#00f4ff"/><stop offset="0.84915" stop-color="#5cffa3"/><stop offset="0.85261" stop-color="#ff4e00"/><stop offset="0.85606" stop-color="#61ff9e"/><stop offset="0.85951" stop-color="#0afff5"/><stop offset="0.86296" stop-color="#00e7ff"/><stop offset="0.86641" stop-color="#00b0ff"/><stop offset="0.86987" stop-color="#0054ff"/><stop offset="0.87332" stop-color="#0001ff"/><stop offset="0.87677" stop-color="#0000da"/><stop offset="0.88022" stop-color="#0000ca"/><stop offset="0.88712" stop-color="#0000bf"/><stop offset="0.89403" stop-color="#0000bc"/><stop offset="0.92164" stop-color="#0000fe"/><stop offset="0.96307" stop-color="#0056ff"/><stop offset="0.99413" stop-color="#0085ff"/><stop offset="1.00000" stop-color="#008cff"/></linearGradient><linearGradient id="g8"><stop offset="0.00000" stop-color="#00009b"/><stop offset="0.00345" stop-color="#0000ac"/><stop offset="0.01381" stop-color="#0000ef"/><stop offset="0.01726" stop-color="#0000fc"/><stop offset="0.03107" stop-color="#0010ff"/><stop offset="0.07939" stop-color="#0043ff"/><stop offset="0.13462" stop-color="#009cff"/><stop offset="0.13807" stop-color="#00a4ff"/><stop offset="0.14153" stop-color="#00b4ff"/><stop offset="0.14498" stop-color="#00cdff"/><stop offset="0.14843" stop-color="#00f4ff"/><stop offset="0.15188" stop-color="#5cffa3"/><stop offset="0.15533" stop-color="#ff4e00"/><stop offset="0.15878" stop-color="#61ff9e"/><stop offset="0.16224" stop-color="#0afff5"/><stop offset="0.16569" stop-color="#00e7ff"/><stop offset="0.16914" stop-color="#00b0ff"/><stop offset="0.17259" stop-color="#0054ff"/><stop offset="0.17604" stop-color="#0001ff"/><stop offset="0.17950" stop-color="#0000da"/><stop offset="0.18295" stop-color="#0000ca"/><stop offset="0.18985" stop-color="#0000bf"/><stop offset="0.19676" stop-color="#0000bc"/><stop offset="0.22437" stop-color="#0000fc"/><stop offset="0.27270" stop-color="#005eff"/><stop offset="0.30376" stop-color="#008aff"/><stop offset="0.31757" stop-color="#0095ff"/><stop offset="0.32447" stop-color="#00a4ff"/><stop offset="0.32793" stop-color="#00b4ff"/><stop offset="0.33138" stop-color="#00cdff"/><stop offset="0.33483" stop-color="#00f4ff"/><stop offset="0.33828" stop-color="#5cffa3"/><stop offset="0.34173" stop-color="#ff4e00"/><stop offset="0.34518" stop-color="#61ff9e"/><stop offset="0.34864" stop-color="#0afff5"/><stop offset="0.35209" stop-color="#00e7ff"/><stop offset="0.35554" stop-color="#00b0ff"/><stop offset="0.35899" stop-color="#0054ff"/><stop offset="0.36244" stop-color="#0001ff"/><stop offset="0.36590" stop-color="#0000da"/><stop offset="0.36935" stop-color="#0000ca"/><stop offset="0.37625" stop-color="#0000bf"/><stop offset="0.38315" stop-color="#0000bc"/><stop offset="0.41422" stop-color="#0001ff"/><stop offset="0.45564" stop-color="#0051ff"/><stop offset="0.49016" stop-color="#0083ff"/><stop offset="0.51087" stop-color="#0095ff"/><stop offset="0.51778" stop-color="#00a4ff"/><stop offset="0.52123" stop-color="#00b4ff"/><stop offset="0.52468" stop-color="#00cdff"/><stop offset="0.52813" stop-color="#00f4ff"/><stop offset="0.53158" stop-color="#5cffa3"/><stop offset="0.53504" stop-color="#ff4e00"/><stop offset="0.53849" stop-color="#61ff9e"/><stop offset="0.54194" stop-color="#0afff5"/><stop offset="0.54539" stop-color="#00e7ff"/><stop offset="0.54884" stop-color="#00b0ff"/><stop offset="0.55230" stop-color="#0054ff"/><stop offset="0.55575" stop-color="#0001ff"/><stop offset="0.55920" stop-color="#0000da"/><stop offset="0.56265" stop-color="#0000ca"/><stop offset="0.56955" stop-color="#0000bf"/><stop offset="0.57646" stop-color="#0000bc"/><stop offset="0.60062" stop-color="#0001ff"/><stop offset="0.63169" stop-color="#004eff"/><stop offset="0.65930" stop-color="#0082ff"/><stop offset="0.68001" stop-color="#009cff"/><stop offset="0.68347" stop-color="#00a4ff"/><stop offset="0.68692" stop-color="#00b4ff"/><stop offset="0.69037" stop-color="#00cdff"/><stop offset="0.69382" stop-color="#00f4ff"/><stop offset="0.69727" stop-color="#5cffa3"/><stop offset="0.70072" stop-color="#ff4e00"/><stop offset="0.70418" stop-color="#61ff9e"/><stop offset="0.70763" stop-color="#0afff5"/><stop offset="0.71108" stop-color="#00e7ff"/><stop offset="0.71453" stop-color="#00b0ff"/><stop offset="0.71798" stop-color="#0054ff"/><stop offset="0.72144" stop-color="#0001ff"/><stop offset="0.72489" stop-color="#0000da"/><stop offset="0.72834" stop-color="#0000ca"/><stop offset="0.73524" stop-color="#0000bf"/><stop offset="0.74215" stop-color="#0000bc"/><stop offset="0.77321" stop-color="#0000ff"/><stop offset="0.81809" stop-color="#0054ff"/><stop offset="0.85261" stop-color="#0084ff"/><stop offset="0.87332" stop-color="#0095ff"/><stop offset="0.88022" stop-color="#00a4ff"/><stop offset="0.88367" stop-color="#00b4ff"/><stop offset="0.88712" stop-color="#00cdff"/><stop offset="0.89058" stop-color="#00f4ff"/><stop offset="0.89403" stop-color="#5cffa3"/><stop offset="0.89748" stop-color="#ff4e00"/><stop offset="0.90093" stop-color="#61ff9e"/><stop offset="0.90438" stop-color="#0afff5"/><stop offset="0.90784" stop-color="#00e7ff"/><stop offset="0.91129" stop-color="#00b0ff"/><stop offset="0.91474" stop-color="#0054ff"/><stop offset="0.91819" stop-color="#0001ff"/><stop offset="0.92164" stop-color="#0000da"/><stop offset="0.92509" stop-color="#0000ca"/><stop offset="0.93200" stop-color="#0000bf"/><stop offset="0.93890" stop-color="#0000bc"/><stop offset="0.96652" stop-color="#0000fe"/><stop offset="0.99758" stop-color="#0042ff"/><stop offset="1.00000" stop-color="#0046ff"/></linearGradient><linearGradient id="g9"><stop offset="0.00000" stop-color="#00009b"/><stop offset="0.00345" stop-color="#0000ac"/><stop offset="0.01381" stop-color="#0000ef"/><stop offset="0.01726" stop-color="#0000fc"/><stop offset="0.03107" stop-color="#0010ff"/><stop offset="0.07594" stop-color="#003eff"/><stop offset="0.12772" stop-color="#00a4ff"/><stop offset="0.13117" stop-color="#00b4ff"/><stop offset="0.13462" stop-color="#00cdff"/><stop offset="0.13807" stop-color="#00f4ff"/><stop offset="0.14153" stop-color="#5cffa3"/><stop offset="0.14498" stop-color="#ff4e00"/><stop offset="0.14843" stop-color="#61ff9e"/><stop offset="0.15188" stop-color="#0afff5"/><stop offset="0.15533" stop-color="#00e7ff"/><stop offset="0.15878" stop-color="#00b0ff"/><stop offset="0.16224" stop-color="#0054ff"/><stop offset="0.16569" stop-color="#0001ff"/><stop offset="0.16914" stop-color="#0000da"/><stop offset="0.17259" stop-color="#0000ca"/><stop offset="0.17950" stop-color="#0000bf"/><stop offset="0.18640" stop-color="#0000bc"/><stop offset="0.21401" stop-color="#0000fe"/><stop offset="0.25544" stop-color="#0056ff"/><stop offset="0.28650" stop-color="#0085ff"/><stop offset="0.30376" stop-color="#0095ff"/><stop offset="0.31067" stop-color="#00a4ff"/><stop offset="0.31412" stop-color="#00b4ff"/><stop offset="0.31757" stop-color="#00cdff"/><stop offset="0.32102" stop-color="#00f4ff"/><stop offset="0.32447" stop-color="#5cffa3"/><stop offset="0.32793" stop-color="#ff4e00"/><stop offset="0.33138" stop-color="#61ff9e"/><stop offset="0.33483" stop-color="#0afff5"/><stop offset="0.33828" stop-color="#00e7ff"/><stop offset="0.34173" stop-color="#00b0ff"/><stop offset="0.34518" stop-color="#0054ff"/><stop offset="0.34864" stop-color="#0001ff"/><stop offset="0.35209" stop-color="#0000da"/><stop offset="0.35554" stop-color="#0000ca"/><stop offset="0.36244" stop-color="#0000bf"/><stop offset="0.36935" stop-color="#0000bc"/><stop offset="0.39696" stop-color="#0000fc"/><stop offset="0.44529" stop-color="#005eff"/><stop offset="0.47635" stop-color="#008aff"/><stop offset="0.49016" stop-color="#0095ff"/><stop offset="0.49707" stop-color="#00a4ff"/><stop offset="0.50052" stop-color="#00b4ff"/><stop offset="0.50397" stop-color="#00cdff"/><stop offset="0.50742" stop-color="#00f4ff"/><stop offset="0.51087" stop-color="#5cffa3"/><stop offset="0.51433" stop-color="#ff4e00"/><stop offset="0.51778" stop-color="#61ff9e"/><stop offset="0.52123" stop-color="#0afff5"/><stop offset="0.52468" stop-color="#00e7ff"/><stop offset="0.52813" stop-color="#00b0ff"/><stop offset="0.53158" stop-color="#0054ff"/><stop offset="0.53504" stop-color="#0001ff"/><stop offset="0.53849" stop-color="#0000da"/><stop offset="0.54194" stop-color="#0000ca"/><stop offset="0.54884" stop-color="#0000bf"/><stop offset="0.55575" stop-color="#0000bc"/><stop offset="0.58336" stop-color="#0001ff"/><stop offset="0.62133" stop-color="#0053ff"/><stop offset="0.65240" stop-color="#0085ff"/><stop offset="0.66966" stop-color="#0095ff"/><stop offset="0.67656" stop-color="#00a4ff"/><stop offset="0.68001" stop-color="#00b4ff"/><stop offset="0.68347" stop-color="#00cdff"/><stop offset="0.68692" stop-color="#00f4ff"/><stop offset="0.69037" stop-color="#5cffa3"/><stop offset="0.69382" stop-color="#ff4e00"/><stop offset="0.69727" stop-color="#61ff9e"/><stop offset="0.70072" stop-color="#0afff5"/><stop offset="0.70418" stop-color="#00e7ff"/><stop offset="0.70763" stop-color="#00b0ff"/><stop offset="0.71108" stop-color="#0054ff"/><stop offset="0.71453" stop-color="#0001ff"/><stop offset="0.71798" stop-color="#0000da"/><stop offset="0.72144" stop-color="#0000ca"/><stop offset="0.72834" stop-color="#0000bf"/><stop offset="0.73524" stop-color="#0000bc"/><stop offset="0.76631" stop-color="#0000fd"/><stop offset="0.81809" stop-color="#005bff"/><stop offset="0.85261" stop-color="#0088ff"/><stop offset="0.86987" stop-color="#0095ff"/><stop offset="0.87677" stop-color="#00a4ff"/><stop offset="0.88022" stop-color="#00b4ff"/><stop offset="0.88367" stop-color="#00cdff"/><stop offset="0.88712" stop-color="#00f4ff"/><stop offset="0.89058" stop-color="#5cffa3"/><stop offset="0.89403" stop-color="#ff4e00"/><stop offset="0.89748" stop-color="#61ff9e"/><stop offset="0.90093" stop-color="#0afff5"/><stop offset="0.90438" stop-color="#00e7ff"/><stop offset="0.90784" stop-color="#00b0ff"/><stop offset="0.91129" stop-color="#0054ff"/><stop offset="0.91474" stop-color="#0001ff"/><stop offset="0.91819" stop-color="#0000da"/><stop offset="0.92164" stop-color="#0000ca"/><stop offset="0.92855" stop-color="#0000bf"/><stop offset="0.93545" stop-color="#0000bc"/><stop offset="0.96307" stop-color="#0000fe"/><stop offset="0.99758" stop-color="#0049ff"/><stop offset="1.00000" stop-color="#004dff"/></linearGradient><linearGradient id="g10"><stop offset="0.00000" stop-color="#00009b"/><stop offset="0.00345" stop-color="#0000ac"/><stop offset="0.01381" stop-color="#0000ef"/><stop offset="0.01726" stop-color="#0000fc"/><stop offset="0.03107" stop-color="#0010ff"/><stop offset="0.07939" stop-color="#0044ff"/><stop offset="0.12772" stop-color="#009cff"/><stop offset="0.13117" stop-color="#00a4ff"/><stop offset="0.13462" stop-color="#00b4ff"/><stop offset="0.13807" stop-color="#00cdff"/><stop offset="0.14153" stop-color="#00f4ff"/><stop offset="0.14498" stop-color="#5cffa3"/><stop offset="0.14843" stop-color="#ff4e00"/><stop offset="0.15188" stop-color="#61ff9e"/><stop offset="0.15533" stop-color="#0afff5"/><stop offset="0.15878" stop-color="#00e7ff"/><stop offset="0.16224" stop-color="#00b0ff"/><stop offset="0.16569" stop-color="#0054ff"/><stop offset="0.16914" stop-color="#0001ff"/><stop offset="0.17259" stop-color="#0000da"/><stop offset="0.17604" stop-color="#0000ca"/><stop offset="0.18295" stop-color="#0000bf"/><stop offset="0.18985" stop-color="#0000bc"/><stop offset="0.22092" stop-color="#0001ff"/><stop offset="0.26234" stop-color="#0051ff"/><stop offset="0.29686" stop-color="#0083ff"/><stop offset="0.31757" stop-color="#0095ff"/><stop offset="0.32447" stop-color="#00a4ff"/><stop offset="0.32793" stop-color="#00b4ff"/><stop offset="0.33138" stop-color="#00cdff"/><stop offset="0.33483" stop-color="#00f4ff"/><stop offset="0.33828" stop-color="#5cffa3"/><stop offset="0.34173" stop-color="#ff4e00"/><stop offset="0.34518" stop-color="#61ff9e"/><stop offset="0.34864" stop-color="#0afff5"/><stop offset="0.35209" stop-color="#00e7ff"/><stop offset="0.35554" stop-color="#00b0ff"/><stop offset="0.35899" stop-color="#0054ff"/><stop offset="0.36244" stop-color="#0001ff"/><stop offset="0.36590" stop-color="#0000da"/><stop offset="0.36935" stop-color="#0000ca"/><stop offset="0.37625" stop-color="#0000bf"/><stop offset="0.38315" stop-color="#0000bc"/><stop offset="0.41077" stop-color="#0000fe"/><stop offset="0.45219" stop-color="#0056ff"/><stop offset="0.48326" stop-color="#0085ff"/><stop offset="0.50052" stop-color="#0095ff"/><stop offset="0.50742" stop-color="#00a4ff"/><stop offset="0.51087" stop-color="#00b4ff"/><stop offset="0.51433" stop-color="#00cdff"/><stop offset="0.51778" stop-color="#00f4ff"/><stop offset="0.52123" stop-color="#5cffa3"/><stop offset="0.52468" stop-color="#ff4e00"/><stop offset="0.52813" stop-color="#61ff9e"/><stop offset="0.53158" stop-color="#0afff5"/><stop offset="0.53504" stop-color="#00e7ff"/><stop offset="0.53849" stop-color="#00b0ff"/><stop offset="0.54194" stop-color="#0054ff"/><stop offset="0.54539" stop-color="#0001ff"/><stop offset="0.54884" stop-color="#0000da"/><stop offset="0.55230" stop-color="#0000ca"/><stop offset="0.55920" stop-color="#0000bf"/><stop offset="0.56610" stop-color="#0000bc"/><stop offset="0.59027" stop-color="#0000fa"/><stop offset="0.59372" stop-color="#0003ff"/><stop offset="0.62824" stop-color="#0050ff"/><stop offset="0.65585" stop-color="#007fff"/><stop offset="0.67656" stop-color="#0095ff"/><stop offset="0.68347" stop-color="#00a4ff"/><stop offset="0.68692" stop-color="#00b4ff"/><stop offset="0.69037" stop-color="#00cdff"/><stop offset="0.69382" stop-color="#00f4ff"/><stop offset="0.69727" stop-color="#5cffa3"/><stop offset="0.70072" stop-color="#ff4e00"/><stop offset="0.70418" stop-color="#61ff9e"/><stop offset="0.70763" stop-color="#0afff5"/><stop offset="0.71108" stop-color="#00e7ff"/><stop offset="0.71453" stop-color="#00b0ff"/><stop offset="0.71798" stop-color="#0054ff"/><stop offset="0.72144" stop-color="#0001ff"/><stop offset="0.72489" stop-color="#0000da"/><stop offset="0.72834" stop-color="#0000ca"/><stop offset="0.73524" stop-color="#0000bf"/><stop offset="0.74215" stop-color="#0000bc"/><stop offset="0.76976" stop-color="#0000fe"/><stop offset="0.81118" stop-color="#0056ff"/><stop offset="0.84225" stop-color="#0085ff"/><stop offset="0.85951" stop-color="#0095ff"/><stop offset="0.86641" stop-color="#00a4ff"/><stop offset="0.86987" stop-color="#00b4ff"/><stop offset="0.87332" stop-color="#00cdff"/><stop offset="0.87677" stop-color="#00f4ff"/><stop offset="0.88022" stop-color="#5cffa3"/><stop offset="0.88367" stop-color="#ff4e00"/><stop offset="0.88712" stop-color="#61ff9e"/><stop offset="0.89058" stop-color="#0afff5"/><stop offset="0.89403" stop-color="#00e7ff"/><stop offset="0.89748" stop-color="#00b0ff"/><stop offset="0.90093" stop-color="#0054ff"/><stop offset="0.90438" stop-color="#0001ff"/><stop offset="0.90784" stop-color="#0000da"/><stop offset="0.91129" stop-color="#0000ca"/><stop offset="0.91819" stop-color="#0000bf"/><stop offset="0.92509" stop-color="#0000bc"/><stop offset="0.95271" stop-color="#0000fe"/><stop offset="0.99413" stop-color="#0056ff"/><stop offset="1.00000" stop-color="#005fff"/></linearGradient><linearGradient id="g11"><stop offset="0.00000" stop-color="#00009b"/><stop offset="0.00345" stop-color="#0000ac"/><stop offset="0.01381" stop-color="#0000ef"/><stop offset="0.01726" stop-color="#0000fc"/><stop offset="0.03107" stop-color="#0010ff"/><stop offset="0.07594" stop-color="#003eff"/><stop offset="0.12772" stop-color="#00a4ff"/><stop offset="0.13117" stop-color="#00b4ff"/><stop offset="0.13462" stop-color="#00cdff"/><stop offset="0.13807" stop-color="#00f4ff"/><stop offset="0.14153" stop-color="#5cffa3"/><stop offset="0.14498" stop-color="#ff4e00"/><stop offset="0.14843" stop-color="#61ff9e"/><stop offset="0.15188" stop-color="#0afff5"/><stop offset="0.15533" stop-color="#00e7ff"/><stop offset="0.15878" stop-color="#00b0ff"/><stop offset="0.16224" stop-color="#0054ff"/><stop offset="0.16569" stop-color="#0001ff"/><stop offset="0.16914" stop-color="#0000da"/><stop offset="0.17259" stop-color="#0000ca"/><stop offset="0.17950" stop-color="#0000bf"/><stop offset="0.18640" stop-color="#0000bc"/><stop offset="0.21056" stop-color="#0000fa"/><stop offset="0.21401" stop-color="#0003ff"/><stop offset="0.24853" stop-color="#0050ff"/><stop offset="0.27615" stop-color="#007fff"/><stop offset="0.29686" stop-color="#0095ff"/><stop offset="0.30376" stop-color="#00a4ff"/><stop offset="0.30721" stop-color="#00b4ff"/><stop offset="0.31067" stop-color="#00cdff"/><stop offset="0.31412" stop-color="#00f4ff"/><stop offset="0.31757" stop-color="#5cffa3"/><stop offset="0.32102" stop-color="#ff4e00"/><stop offset="0.32447" stop-color="#61ff9e"/><stop offset="0.32793" stop-color="#0afff5"/><stop offset="0.33138" stop-color="#00e7ff"/><stop offset="0.33483" stop-color="#00b0ff"/><stop offset="0.33828" stop-color="#0054ff"/><stop offset="0.34173" stop-color="#0001ff"/><stop offset="0.34518" stop-color="#0000da"/><stop offset="0.34864" stop-color="#0000ca"/><stop offset="0.35554" stop-color="#0000bf"/><stop offset="0.36244" stop-color="#0000bc"/><stop offset="0.39006" stop-color="#0000fb"/><stop offset="0.39696" stop-color="#000bff"/><stop offset="0.43838" stop-color="#005aff"/><stop offset="0.46945" stop-color="#0086ff"/><stop offset="0.48671" stop-color="#0095ff"/><stop offset="0.49361" stop-color="#00a4ff"/><stop offset="0.49707" stop-color="#00b4ff"/><stop offset="0.50052" stop-color="#00cdff"/><stop offset="0.50397" stop-color="#00f4ff"/><stop offset="0.50742" stop-color="#5cffa3"/><stop offset="0.51087" stop-color="#ff4e00"/><stop offset="0.51433" stop-color="#61ff9e"/><stop offset="0.51778" stop-color="#0afff5"/><stop offset="0.52123" stop-color="#00e7ff"/><stop offset="0.52468" stop-color="#00b0ff"/><stop offset="0.52813" stop-color="#0054ff"/><stop offset="0.53158" stop-color="#0001ff"/><stop offset="0.53504" stop-color="#0000da"/><stop offset="0.53849" stop-color="#0000ca"/><stop offset="0.54539" stop-color="#0000bf"/><stop offset="0.55230" stop-color="#0000bc"/><stop offset="0.57646" stop-color="#0000fa"/><stop offset="0.57991" stop-color="#0003ff"/><stop offset="0.61443" stop-color="#0050ff"/><stop offset="0.64204" stop-color="#007fff"/><stop offset="0.66275" stop-color="#0095ff"/><stop offset="0.66966" stop-color="#00a4ff"/><stop offset="0.67311" stop-color="#00b4ff"/><stop offset="0.67656" stop-color="#00cdff"/><stop offset="0.68001" stop-color="#00f4ff"/><stop offset="0.68347" stop-color="#5cffa3"/><stop offset="0.68692" stop-color="#ff4e00"/><stop offset="0.69037" stop-color="#61ff9e"/><stop offset="0.69382" stop-color="#0afff5"/><stop offset="0.69727" stop-color="#00e7ff"/><stop offset="0.70072" stop-color="#00b0ff"/><stop offset="0.70418" stop-color="#0054ff"/><stop offset="0.70763" stop-color="#0001ff"/><stop offset="0.71108" stop-color="#0000da"/><stop offset="0.71453" stop-color="#0000ca"/><stop offset="0.72144" stop-color="#0000bf"/><stop offset="0.72834" stop-color="#0000bc"/><stop offset="0.75941" stop-color="#0001ff"/><stop offset="0.80083" stop-color="#0051ff"/><stop offset="0.83535" stop-color="#0083ff"/><stop offset="0.85606" stop-color="#0095ff"/><stop offset="0.86296" stop-color="#00a4ff"/><stop offset="0.86641" stop-color="#00b4ff"/><stop offset="0.86987" stop-color="#00cdff"/><stop offset="0.87332" stop-color="#00f4ff"/><stop offset="0.87677" stop-color="#5cffa3"/><stop offset="0.88022" stop-color="#ff4e00"/><stop offset="0.88367" stop-color="#61ff9e"/><stop offset="0.88712" stop-color="#0afff5"/><stop offset="0.89058" stop-color="#00e7ff"/><stop offset="0.89403" stop-color="#00b0ff"/><stop offset="0.89748" stop-color="#0054ff"/><stop offset="0.90093" stop-color="#0001ff"/><stop offset="0.90438" stop-color="#0000da"/><stop offset="0.90784" stop-color="#0000ca"/><stop offset="0.91474" stop-color="#0000bf"/><stop offset="0.92164" stop-color="#0000bc"/><stop offset="0.94926" stop-color="#0000fe"/><stop offset="0.99068" stop-color="#0056ff"/><stop offset="1.00000" stop-color="#0065ff"/></linearGradient><linearGradient id="g12"><stop offset="0.00000" stop-color="#00009b"/><stop offset="0.00345" stop-color="#0000ac"/><stop offset="0.01381" stop-color="#0000ef"/><stop offset="0.01726" stop-color="#0000fc"/><stop offset="0.03107" stop-color="#0010ff"/><stop offset="0.07939" stop-color="#0043ff"/><stop offset="0.13807" stop-color="#009cff"/><stop offset="0.14153" stop-color="#00a4ff"/><stop offset="0.14498" stop-color="#00b4ff"/><stop offset="0.14843" stop-color="#00cdff"/><stop offset="0.15188" stop-color="#00f4ff"/><stop offset="0.15533" stop-color="#5cffa3"/><stop offset="0.15878" stop-color="#ff4e00"/><stop offset="0.16224" stop-color="#61ff9e"/><stop offset="0.16569" stop-color="#0afff5"/><stop offset="0.16914" stop-color="#00e7ff"/><stop offset="0.17259" stop-color="#00b0ff"/><stop offset="0.17604" stop-color="#0054ff"/><stop offset="0.17950" stop-color="#0001ff"/><stop offset="0.18295" stop-color="#0000da"/><stop offset="0.18640" stop-color="#0000ca"/><stop offset="0.19330" stop-color="#0000bf"/><stop offset="0.20021" stop-color="#0000bc"/><stop offset="0.22782" stop-color="#0001ff"/><stop offset="0.26579" stop-color="#0053ff"/><stop offset="0.29686" stop-color="#0085ff"/><stop offset="0.31412" stop-color="#0095ff"/><stop offset="0.32102" stop-color="#00a4ff"/><stop offset="0.32447" stop-color="#00b4ff"/><stop offset="0.32793" stop-color="#00cdff"/><stop offset="0.33138" stop-color="#00f4ff"/><stop offset="0.33483" stop-color="#5cffa3"/><stop offset="0.33828" stop-color="#ff4e00"/><stop offset="0.34173" stop-color="#61ff9e"/><stop offset="0.34518" stop-color="#0afff5"/><stop offset="0.34864" stop-color="#00e7ff"/><stop offset="0.35209" stop-color="#00b0ff"/><stop offset="0.35554" stop-color="#0054ff"/><stop offset="0.35899" stop-color="#0001ff"/><stop offset="0.36244" stop-color="#0000da"/><stop offset="0.36590" stop-color="#0000ca"/><stop offset="0.37280" stop-color="#0000bf"/><stop offset="0.37970" stop-color="#0000bc"/><stop offset="0.40732" stop-color="#0000fc"/><stop offset="0.45564" stop-color="#005eff"/><stop offset="0.48671" stop-color="#008aff"/><stop offset="0.50052" stop-color="#0095ff"/><stop offset="0.50742" stop-color="#00a4ff"/><stop offset="0.51087" stop-color="#00b4ff"/><stop offset="0.51433" stop-color="#00cdff"/><stop offset="0.51778" stop-color="#00f4ff"/><stop offset="0.52123" stop-color="#5cffa3"/><stop offset="0.52468" stop-color="#ff4e00"/><stop offset="0.52813" stop-color="#61ff9e"/><stop offset="0.53158" stop-color="#0afff5"/><stop offset="0.53504" stop-color="#00e7ff"/><stop offset="0.53849" stop-color="#00b0ff"/><stop offset="0.54194" stop-color="#0054ff"/><stop offset="0.54539" stop-color="#0001ff"/><stop offset="0.54884" stop-color="#0000da"/><stop offset="0.55230" stop-color="#0000ca"/><stop offset="0.55920" stop-color="#0000bf"/><stop offset="0.56610" stop-color="#0000bc"/><stop offset="0.59717" stop-color="#0001ff"/><stop offset="0.63859" stop-color="#0051ff"/><stop offset="0.67311" stop-color="#0083ff"/><stop offset="0.69382" stop-color="#0095ff"/><stop offset="0.70072" stop-color="#00a4ff"/><stop offset="0.70418" stop-color="#00b4ff"/><stop offset="0.70763" stop-color="#00cdff"/><stop offset="0.71108" stop-color="#00f4ff"/><stop offset="0.71453" stop-color="#5cffa3"/><stop offset="0.71798" stop-color="#ff4e00"/><stop offset="0.72144" stop-color="#61ff9e"/><stop offset="0.72489" stop-color="#0afff5"/><stop offset="0.72834" stop-color="#00e7ff"/><stop offset="0.73179" stop-color="#00b0ff"/><stop offset="0.73524" stop-color="#0054ff"/><stop offset="0.73870" stop-color="#0001ff"/><stop offset="0.74215" stop-color="#0000da"/><stop offset="0.74560" stop-color="#0000ca"/><stop offset="0.75250" stop-color="#0000bf"/><stop offset="0.75941" stop-color="#0000bc"/><stop offset="0.78357" stop-color="#0000fa"/><stop offset="0.78702" stop-color="#0003ff"/><stop offset="0.82154" stop-color="#0050ff"/><stop offset="0.84915" stop-color="#007fff"/><stop offset="0.86987" stop-color="#0095ff"/><stop offset="0.87677" stop-color="#00a4ff"/><stop offset="0.88022" stop-color="#00b4ff"/><stop offset="0.88367" stop-color="#00cdff"/><stop offset="0.88712" stop-color="#00f4ff"/><stop offset="0.89058" stop-color="#5cffa3"/><stop offset="0.89403" stop-color="#ff4e00"/><stop offset="0.89748" stop-color="#61ff9e"/><stop offset="0.90093" stop-color="#0afff5"/><stop offset="0.90438" stop-color="#00e7ff"/><stop offset="0.90784" stop-color="#00b0ff"/><stop offset="0.91129" stop-color="#0054ff"/><stop offset="0.91474" stop-color="#0001ff"/><stop offset="0.91819" stop-color="#0000da"/><stop offset="0.92164" stop-color="#0000ca"/><stop offset="0.92855" stop-color="#0000bf"/><stop offset="0.93545" stop-color="#0000bc"/><stop offset="0.96307" stop-color="#0000fe"/><stop offset="0.99758" stop-color="#0049ff"/><stop offset="1.00000" stop-color="#004dff"/></linearGradient><linearGradient id="g13"><stop offset="0.00000" stop-color="#00009b"/><stop offset="0.00345" stop-color="#0000ac"/><stop offset="0.01381" stop-color="#0000ef"/><stop offset="0.01726" stop-color="#0000fc"/><stop offset="0.03107" stop-color="#0010ff"/><stop offset="0.07939" stop-color="#0043ff"/><stop offset="0.13807" stop-color="#009cff"/><stop offset="0.14153" stop-color="#00a4ff"/><stop offset="0.14498" stop-color="#00b4ff"/><stop offset="0.14843" stop-color="#00cdff"/><stop offset="0.15188" stop-color="#00f4ff"/><stop offset="0.15533" stop-color="#5cffa3"/><stop offset="0.15878" stop-color="#ff4e00"/><stop offset="0.16224" stop-color="#61ff9e"/><stop offset="0.16569" stop-color="#0afff5"/><stop offset="0.16914" stop-color="#00e7ff"/><stop offset="0.17259" stop-color="#00b0ff"/><stop offset="0.17604" stop-color="#0054ff"/><stop offset="0.17950" stop-color="#0001ff"/><stop offset="0.18295" stop-color="#0000da"/><stop offset="0.18640" stop-color="#0000ca"/><stop offset="0.19330" stop-color="#0000bf"/><stop offset="0.20021" stop-color="#0000bc"/><stop offset="0.22437" stop-color="#0000fa"/><stop offset="0.22782" stop-color="#0003ff"/><stop offset="0.26234" stop-color="#0050ff"/><stop offset="0.28996" stop-color="#007fff"/><stop offset="0.31067" stop-color="#0095ff"/><stop offset="0.31757" stop-color="#00a4ff"/><stop offset="0.32102" stop-color="#00b4ff"/><stop offset="0.32447" stop-color="#00cdff"/><stop offset="0.32793" stop-color="#00f4ff"/><stop offset="0.33138" stop-color="#5cffa3"/><stop offset="0.33483" stop-color="#ff4e00"/><stop offset="0.33828" stop-color="#61ff9e"/><stop offset="0.34173" stop-color="#0afff5"/><stop offset="0.34518" stop-color="#00e7ff"/><stop offset="0.34864" stop-color="#00b0ff"/><stop offset="0.35209" stop-color="#0054ff"/><stop offset="0.35554" stop-color="#0001ff"/><stop offset="0.35899" stop-color="#0000da"/><stop offset="0.36244" stop-color="#0000ca"/><stop offset="0.36935" stop-color="#0000bf"/><stop offset="0.37625" stop-color="#0000bc"/><stop offset="0.40387" stop-color="#0000fb"/><stop offset="0.41077" stop-color="#000bff"/><stop offset="0.45219" stop-color="#005aff"/><stop offset="0.48326" stop-color="#0086ff"/><stop offset="0.50052" stop-color="#0095ff"/><stop offset="0.50742" stop-color="#00a4ff"/><stop offset="0.51087" stop-color="#00b4ff"/><stop offset="0.51433" stop-color="#00cdff"/><stop offset="0.51778" stop-color="#00f4ff"/><stop offset="0.52123" stop-color="#5cffa3"/><stop offset="0.52468" stop-color="#ff4e00"/><stop offset="0.52813" stop-color="#61ff9e"/><stop offset="0.53158" stop-color="#0afff5"/><stop offset="0.53504" stop-color="#00e7ff"/><stop offset="0.53849" stop-color="#00b0ff"/><stop offset="0.54194" stop-color="#0054ff"/><stop offset="0.54539" stop-color="#0001ff"/><stop offset="0.54884" stop-color="#0000da"/><stop offset="0.55230" stop-color="#0000ca"/><stop offset="0.55920" stop-color="#0000bf"/><stop offset="0.56610" stop-color="#0000bc"/><stop offset="0.59372" stop-color="#0000fb"/><stop offset="0.60062" stop-color="#000bff"/><stop offset="0.64204" stop-color="#005aff"/><stop offset="0.67311" stop-color="#0086ff"/><stop offset="0.69037" stop-color="#0095ff"/><stop offset="0.69727" stop-color="#00a4ff"/><stop offset="0.70072" stop-color="#00b4ff"/><stop offset="0.70418" stop-color="#00cdff"/><stop offset="0.70763" stop-color="#00f4ff"/><stop offset="0.71108" stop-color="#5cffa3"/><stop offset="0.71453" stop-color="#ff4e00"/><stop offset="0.71798" stop-color="#61ff9e"/><stop offset="0.72144" stop-color="#0afff5"/><stop offset="0.72489" stop-color="#00e7ff"/><stop offset="0.72834" stop-color="#00b0ff"/><stop offset="0.73179" stop-color="#0054ff"/><stop offset="0.73524" stop-color="#0001ff"/><stop offset="0.73870" stop-color="#0000da"/><stop offset="0.74215" stop-color="#0000ca"/><stop offset="0.74905" stop-color="#0000bf"/><stop offset="0.75595" stop-color="#0000bc"/><stop offset="0.78357" stop-color="#0000fe"/><stop offset="0.82499" stop-color="#0056ff"/><stop offset="0.85606" stop-color="#0085ff"/><stop offset="0.87332" stop-color="#0095ff"/><stop offset="0.88022" stop-color="#00a4ff"/><stop offset="0.88367" stop-color="#00b4ff"/><stop offset="0.88712" stop-color="#00cdff"/><stop offset="0.89058" stop-color="#00f4ff"/><stop offset="0.89403" stop-color="#5cffa3"/><stop offset="0.89748" stop-color="#ff4e00"/><stop offset="0.90093" stop-color="#61ff9e"/><stop offset="0.90438" stop-color="#0afff5"/><stop offset="0.90784" stop-color="#00e7ff"/><stop offset="0.91129" stop-color="#00b0ff"/><stop offset="0.91474" stop-color="#0054ff"/><stop offset="0.91819" stop-color="#0001ff"/><stop offset="0.92164" stop-color="#0000da"/><stop offset="0.92509" stop-color="#0000ca"/><stop offset="0.93200" stop-color="#0000bf"/><stop offset="0.93890" stop-color="#0000bc"/><stop offset="0.96652" stop-color="#0000fe"/><stop offset="0.99758" stop-color="#0042ff"/><stop offset="1.00000" stop-color="#0046ff"/></linearGradient><linearGradient id="g14"><stop offset="0.00000" stop-color="#00009b"/><stop offset="0.00345" stop-color="#0000ac"/><stop offset="0.01381" stop-color="#0000ef"/><stop offset="0.01726" stop-color="#0000fc"/><stop offset="0.03107" stop-color="#0010ff"/><stop offset="0.07939" stop-color="#0044ff"/><stop offset="0.13117" stop-color="#009cff"/><stop offset="0.13462" stop-color="#00a4ff"/><stop offset="0.13807" stop-color="#00b4ff"/><stop offset="0.14153" stop-color="#00cdff"/><stop offset="0.14498" stop-color="#00f4ff"/><stop offset="0.14843" stop-color="#5cffa3"/><stop offset="0.15188" stop-color="#ff4e00"/><stop offset="0.15533" stop-color="#61ff9e"/><stop offset="0.15878" stop-color="#0afff5"/><stop offset="0.16224" stop-color="#00e7ff"/><stop offset="0.16569" stop-color="#00b0ff"/><stop offset="0.16914" stop-color="#0054ff"/><stop offset="0.17259" stop-color="#0001ff"/><stop offset="0.17604" stop-color="#0000da"/><stop offset="0.17950" stop-color="#0000ca"/><stop offset="0.18640" stop-color="#0000bf"/><stop offset="0.19330" stop-color="#0000bc"/><stop offset="0.22092" stop-color="#0000fc"/><stop offset="0.26924" stop-color="#005eff"/><stop offset="0.30031" stop-color="#008aff"/><stop offset="0.31412" stop-color="#0095ff"/><stop offset="0.32102" stop-color="#00a4ff"/><stop offset="0.32447" stop-color="#00b4ff"/><stop offset="0.32793" stop-color="#00cdff"/><stop offset="0.33138" stop-color="#00f4ff"/><stop offset="0.33483" stop-color="#5cffa3"/><stop offset="0.33828" stop-color="#ff4e00"/><stop offset="0.34173" stop-color="#61ff9e"/><stop offset="0.34518" stop-color="#0afff5"/><stop offset="0.34864" stop-color="#00e7ff"/><stop offset="0.35209" stop-color="#00b0ff"/><stop offset="0.35554" stop-color="#0054ff"/><stop offset="0.35899" stop-color="#0001ff"/><stop offset="0.36244" stop-color="#0000da"/><stop offset="0.36590" stop-color="#0000ca"/><stop offset="0.37280" stop-color="#0000bf"/><stop offset="0.37970" stop-color="#0000bc"/><stop offset="0.40732" stop-color="#0001ff"/><stop offset="0.44529" stop-color="#0053ff"/><stop offset="0.47635" stop-color="#0085ff"/><stop offset="0.49361" stop-color="#0095ff"/><stop offset="0.50052" stop-color="#00a4ff"/><stop offset="0.50397" stop-color="#00b4ff"/><stop offset="0.50742" stop-color="#00cdff"/><stop offset="0.51087" stop-color="#00f4ff"/><stop offset="0.51433" stop-color="#5cffa3"/><stop offset="0.51778" stop-color="#ff4e00"/><stop offset="0.52123" stop-color="#61ff9e"/><stop offset="0.52468" stop-color="#0afff5"/><stop offset="0.52813" stop-color="#00e7ff"/><stop offset="0.53158" stop-color="#00b0ff"/><stop offset="0.53504" stop-color="#0054ff"/><stop offset="0.53849" stop-color="#0001ff"/><stop offset="0.54194" stop-color="#0000da"/><stop offset="0.54539" stop-color="#0000ca"/><stop offset="0.55230" stop-color="#0000bf"/><stop offset="0.55920" stop-color="#0000bc"/><stop offset="0.58336" stop-color="#0000fa"/><stop offset="0.58681" stop-color="#0003ff"/><stop offset="0.62133" stop-color="#0050ff"/><stop offset="0.64895" stop-color="#007fff"/><stop offset="0.66966" stop-color="#0095ff"/><stop offset="0.67656" stop-color="#00a4ff"/><stop offset="0.68001" stop-color="#00b4ff"/><stop offset="0.68347" stop-color="#00cdff"/><stop offset="0.68692" stop-color="#00f4ff"/><stop offset="0.69037" stop-color="#5cffa3"/><stop offset="0.69382" stop-color="#ff4e00"/><stop offset="0.69727" stop-color="#61ff9e"/><stop offset="0.70072" stop-color="#0afff5"/><stop offset="0.70418" stop-color="#00e7ff"/><stop offset="0.70763" stop-color="#00b0ff"/><stop offset="0.71108" stop-color="#0054ff"/><stop offset="0.71453" stop-color="#0001ff"/><stop offset="0.71798" stop-color="#0000da"/><stop offset="0.72144" stop-color="#0000ca"/><stop offset="0.72834" stop-color="#0000bf"/><stop offset="0.73524" stop-color="#0000bc"/><stop offset="0.76286" stop-color="#0000fc"/><stop offset="0.81118" stop-color="#005eff"/><stop offset="0.84225" stop-color="#008aff"/><stop offset="0.85606" stop-color="#0095ff"/><stop offset="0.86296" stop-color="#00a4ff"/><stop offset="0.86641" stop-color="#00b4ff"/><stop offset="0.86987" stop-color="#00cdff"/><stop offset="0.87332" stop-color="#00f4ff"/><stop offset="0.87677" stop-color="#5cffa3"/><stop offset="0.88022" stop-color="#ff4e00"/><stop offset="0.88367" stop-color="#61ff9e"/><stop offset="0.88712" stop-color="#0afff5"/><stop offset="0.89058" stop-color="#00e7ff"/><stop offset="0.89403" stop-color="#00b0ff"/><stop offset="0.89748" stop-color="#0054ff"/><stop offset="0.90093" stop-color="#0001ff"/><stop offset="0.90438" stop-color="#0000da"/><stop offset="0.90784" stop-color="#0000ca"/><stop offset="0.91474" stop-color="#0000bf"/><stop offset="0.92164" stop-color="#0000bc"/><stop offset="0.94926" stop-color="#0000fe"/><stop offset="0.99068" stop-color="#0056ff"/><stop offset="1.00000" stop-color="#0065ff"/></linearGradient><linearGradient id="g15"><stop offset="0.00000" stop-color="#00009b"/><stop offset="0.00345" stop-color="#0000ac"/><stop offset="0.01381" stop-color="#0000ef"/><stop offset="0.01726" stop-color="#0000fc"/><stop offset="0.03107" stop-color="#0010ff"/><stop offset="0.07594" stop-color="#003eff"/><stop offset="0.12427" stop-color="#00a4ff"/><stop offset="0.12772" stop-color="#00b4ff"/><stop offset="0.13117" stop-color="#00cdff"/><stop offset="0.13462" stop-color="#00f4ff"/><stop offset="0.13807" stop-color="#5cffa3"/><stop offset="0.14153" stop-color="#ff4e00"/><stop offset="0.14498" stop-color="#61ff9e"/><stop offset="0.14843" stop-color="#0afff5"/><stop offset="0.15188" stop-color="#00e7ff"/><stop offset="0.15533" stop-color="#00b0ff"/><stop offset="0.15878" stop-color="#0054ff"/><stop offset="0.16224" stop-color="#0001ff"/><stop offset="0.16569" stop-color="#0000da"/><stop offset="0.16914" stop-color="#0000ca"/><stop offset="0.17604" stop-color="#0000bf"/><stop offset="0.18295" stop-color="#0000bc"/><stop offset="0.21056" stop-color="#0001ff"/><stop offset="0.24853" stop-color="#0053ff"/><stop offset="0.27960" stop-color="#0085ff"/><stop offset="0.29686" stop-color="#0095ff"/><stop offset="0.30376" stop-color="#00a4ff"/><stop offset="0.30721" stop-color="#00b4ff"/><stop offset="0.31067" stop-color="#00cdff"/><stop offset="0.31412" stop-color="#00f4ff"/><stop offset="0.31757" stop-color="#5cffa3"/><stop offset="0.32102" stop-color="#ff4e00"/><stop offset="0.32447" stop-color="#61ff9e"/><stop offset="0.32793" stop-color="#0afff5"/><stop offset="0.33138" stop-color="#00e7ff"/><stop offset="0.33483" stop-color="#00b0ff"/><stop offset="0.33828" stop-color="#0054ff"/><stop offset="0.34173" stop-color="#0001ff"/><stop offset="0.34518" stop-color="#0000da"/><stop offset="0.34864" stop-color="#0000ca"/><stop offset="0.35554" stop-color="#0000bf"/><stop offset="0.36244" stop-color="#0000bc"/><stop offset="0.39351" stop-color="#0000ff"/><stop offset="0.43838" stop-color="#0054ff"/><stop offset="0.47290" stop-color="#0084ff"/><stop offset="0.49361" stop-color="#0095ff"/><stop offset="0.50052" stop-color="#00a4ff"/><stop offset="0.50397" stop-color="#00b4ff"/><stop offset="0.50742" stop-color="#00cdff"/><stop offset="0.51087" stop-color="#00f4ff"/><stop offset="0.51433" stop-color="#5cffa3"/><stop offset="0.51778" stop-color="#ff4e00"/><stop offset="0.52123" stop-color="#61ff9e"/><stop offset="0.52468" stop-color="#0afff5"/><stop offset="0.52813" stop-color="#00e7ff"/><stop offset="0.53158" stop-color="#00b0ff"/><stop offset="0.53504" stop-color="#0054ff"/><stop offset="0.53849" stop-color="#0001ff"/><stop offset="0.54194" stop-color="#0000da"/><stop offset="0.54539" stop-color="#0000ca"/><stop offset="0.55230" stop-color="#0000bf"/><stop offset="0.55920" stop-color="#0000bc"/><stop offset="0.58336" stop-color="#0000fc"/><stop offset="0.59372" stop-color="#0016ff"/><stop offset="0.62824" stop-color="#0061ff"/><stop offset="0.65240" stop-color="#0088ff"/><stop offset="0.66621" stop-color="#0095ff"/><stop offset="0.67311" stop-color="#00a4ff"/><stop offset="0.67656" stop-color="#00b4ff"/><stop offset="0.68001" stop-color="#00cdff"/><stop offset="0.68347" stop-color="#00f4ff"/><stop offset="0.68692" stop-color="#5cffa3"/><stop offset="0.69037" stop-color="#ff4e00"/><stop offset="0.69382" stop-color="#61ff9e"/><stop offset="0.69727" stop-color="#0afff5"/><stop offset="0.70072" stop-color="#00e7ff"/><stop offset="0.70418" stop-color="#00b0ff"/><stop offset="0.70763" stop-color="#0054ff"/><stop offset="0.71108" stop-color="#0001ff"/><stop offset="0.71453" stop-color="#0000da"/><stop offset="0.71798" stop-color="#0000ca"/><stop offset="0.72489" stop-color="#0000bf"/><stop offset="0.73179" stop-color="#0000bc"/><stop offset="0.76286" stop-color="#0001ff"/><stop offset="0.80428" stop-color="#0051ff"/><stop offset="0.83880" stop-color="#0083ff"/><stop offset="0.85951" stop-color="#0095ff"/><stop offset="0.86641" stop-color="#00a4ff"/><stop offset="0.86987" stop-color="#00b4ff"/><stop offset="0.87332" stop-color="#00cdff"/><stop offset="0.87677" stop-color="#00f4ff"/><stop offset="0.88022" stop-color="#5cffa3"/><stop offset="0.88367" stop-color="#ff4e00"/><stop offset="0.88712" stop-color="#61ff9e"/><stop offset="0.89058" stop-color="#0afff5"/><stop offset="0.89403" stop-color="#00e7ff"/><stop offset="0.89748" stop-color="#00b0ff"/><stop offset="0.90093" stop-color="#0054ff"/><stop offset="0.90438" stop-color="#0001ff"/><stop offset="0.90784" stop-color="#0000da"/><stop offset="0.91129" stop-color="#0000ca"/><stop offset="0.91819" stop-color="#0000bf"/><stop offset="0.92509" stop-color="#0000bc"/><stop offset="0.95271" stop-color="#0000fe"/><stop offset="0.99413" stop-color="#0056ff"/><stop offset="1.00000" stop-color="#005fff"/></linearGradient><linearGradient id="g16"><stop offset="0.00000" stop-color="#00009b"/><stop offset="0.00345" stop-color="#0000ac"/><stop offset="0.01381" stop-color="#0000ef"/><stop offset="0.01726" stop-color="#0000fc"/><stop offset="0.03107" stop-color="#0010ff"/><stop offset="0.07939" stop-color="#0044ff"/><stop offset="0.12772" stop-color="#009cff"/><stop offset="0.13117" stop-color="#00a4ff"/><stop offset="0.13462" stop-color="#00b4ff"/><stop offset="0.13807" stop-color="#00cdff"/><stop offset="0.14153" stop-color="#00f4ff"/><stop offset="0.14498" stop-color="#5cffa3"/><stop offset="0.14843" stop-color="#ff4e00"/><stop offset="0.15188" stop-color="#61ff9e"/><stop offset="0.15533" stop-color="#0afff5"/><stop offset="0.15878" stop-color="#00e7ff"/><stop offset="0.16224" stop-color="#00b0ff"/><stop offset="0.16569" stop-color="#0054ff"/><stop offset="0.16914" stop-color="#0001ff"/><stop offset="0.17259" stop-color="#0000da"/><stop offset="0.17604" stop-color="#0000ca"/><stop offset="0.18295" stop-color="#0000bf"/><stop offset="0.18985" stop-color="#0000bc"/><stop offset="0.21747" stop-color="#0000fe"/><stop offset="0.25889" stop-color="#0056ff"/><stop offset="0.28996" stop-color="#0085ff"/><stop offset="0.30721" stop-color="#0095ff"/><stop offset="0.31412" stop-color="#00a4ff"/><stop offset="0.31757" stop-color="#00b4ff"/><stop offset="0.32102" stop-color="#00cdff"/><stop offset="0.32447" stop-color="#00f4ff"/><stop offset="0.32793" stop-color="#5cffa3"/><stop offset="0.33138" stop-color="#ff4e00"/><stop offset="0.33483" stop-color="#61ff9e"/><stop offset="0.33828" stop-color="#0afff5"/><stop offset="0.34173" stop-color="#00e7ff"/><stop offset="0.34518" stop-color="#00b0ff"/><stop offset="0.34864" stop-color="#0054ff"/><stop offset="0.35209" stop-color="#0001ff"/><stop offset="0.35554" stop-color="#0000da"/><stop offset="0.35899" stop-color="#0000ca"/><stop offset="0.36590" stop-color="#0000bf"/><stop offset="0.37280" stop-color="#0000bc"/><stop offset="0.40041" stop-color="#0000fe"/><stop offset="0.44184" stop-color="#0056ff"/><stop offset="0.47290" stop-color="#0085ff"/><stop offset="0.49016" stop-color="#0095ff"/><stop offset="0.49707" stop-color="#00a4ff"/><stop offset="0.50052" stop-color="#00b4ff"/><stop offset="0.50397" stop-color="#00cdff"/><stop offset="0.50742" stop-color="#00f4ff"/><stop offset="0.51087" stop-color="#5cffa3"/><stop offset="0.51433" stop-color="#ff4e00"/><stop offset="0.51778" stop-color="#61ff9e"/><stop offset="0.52123" stop-color="#0afff5"/><stop offset="0.52468" stop-color="#00e7ff"/><stop offset="0.53158" stop-color="#007aff"/><stop offset="0.55230" stop-color="#0079ff"/><stop offset="0.55920" stop-color="#0083ff"/><stop offset="0.62133" stop-color="#0095ff"/><stop offset="0.62824" stop-color="#00a4ff"/><stop offset="0.63169" stop-color="#00b4ff"/><stop offset="0.63514" stop-color="#00cdff"/><stop offset="0.63859" stop-color="#00f4ff"/><stop offset="0.64204" stop-color="#5cffa3"/><stop offset="0.64550" stop-color="#ff4e00"/><stop offset="0.64895" stop-color="#61ff9e"/><stop offset="0.65240" stop-color="#0afff5"/><stop offset="0.65585" stop-color="#00e7ff"/><stop offset="0.65930" stop-color="#00b0ff"/><stop offset="0.66275" stop-color="#0054ff"/><stop offset="0.66621" stop-color="#0001ff"/><stop offset="0.66966" stop-color="#0000da"/><stop offset="0.67311" stop-color="#0000ca"/><stop offset="0.68001" stop-color="#0000bf"/><stop offset="0.68692" stop-color="#0000bc"/><stop offset="0.71798" stop-color="#0001ff"/><stop offset="0.75941" stop-color="#0051ff"/><stop offset="0.79392" stop-color="#0083ff"/><stop offset="0.81464" stop-color="#0095ff"/><stop offset="0.82154" stop-color="#00a4ff"/><stop offset="0.82499" stop-color="#00b4ff"/><stop offset="0.82844" stop-color="#00cdff"/><stop offset="0.83190" stop-color="#00f4ff"/><stop offset="0.83535" stop-color="#5cffa3"/><stop offset="0.83880" stop-color="#ff4e00"/><stop offset="0.84225" stop-color="#61ff9e"/><stop offset="0.84570" stop-color="#0afff5"/><stop offset="0.84915" stop-color="#00e7ff"/><stop offset="0.85261" stop-color="#00b0ff"/><stop offset="0.85606" stop-color="#0054ff"/><stop offset="0.85951" stop-color="#0001ff"/><stop offset="0.86296" stop-color="#0000da"/><stop offset="0.86641" stop-color="#0000ca"/><stop offset="0.87332" stop-color="#0000bf"/><stop offset="0.88022" stop-color="#0000bc"/><stop offset="0.90784" stop-color="#0000fe"/><stop offset="0.94926" stop-color="#0056ff"/><stop offset="0.98032" stop-color="#0085ff"/><stop offset="0.99758" stop-color="#0094ff"/><stop offset="1.00000" stop-color="#0094ff"/></linearGradient><linearGradient id="g17"><stop offset="0.00000" stop-color="#00009b"/><stop offset="0.00345" stop-color="#0000ac"/><stop offset="0.01381" stop-color="#0000ef"/><stop offset="0.01726" stop-color="#0000fc"/><stop offset="0.03107" stop-color="#0010ff"/><stop offset="0.07939" stop-color="#0044ff"/><stop offset="0.12772" stop-color="#009cff"/><stop offset="0.13117" stop-color="#00a4ff"/><stop offset="0.13462" stop-color="#00b4ff"/><stop offset="0.13807" stop-color="#00cdff"/><stop offset="0.14153" stop-color="#00f4ff"/><stop offset="0.14498" stop-color="#5cffa3"/><stop offset="0.14843" stop-color="#ff4e00"/><stop offset="0.15188" stop-color="#61ff9e"/><stop offset="0.15533" stop-color="#0afff5"/><stop offset="0.15878" stop-color="#00e7ff"/><stop offset="0.16224" stop-color="#00b0ff"/><stop offset="0.16569" stop-color="#0054ff"/><stop offset="0.16914" stop-color="#0001ff"/><stop offset="0.17259" stop-color="#0000da"/><stop offset="0.17604" stop-color="#0000ca"/><stop offset="0.18295" stop-color="#0000bf"/><stop offset="0.18985" stop-color="#0000bc"/><stop offset="0.21401" stop-color="#0000fa"/><stop offset="0.21747" stop-color="#0003ff"/><stop offset="0.25198" stop-color="#0050ff"/><stop offset="0.27960" stop-color="#007fff"/><stop offset="0.30031" stop-color="#0095ff"/><stop offset="0.30721" stop-color="#00a4ff"/><stop offset="0.31067" stop-color="#00b4ff"/><stop offset="0.31412" stop-color="#00cdff"/><stop offset="0.31757" stop-color="#00f4ff"/><stop offset="0.32102" stop-color="#5cffa3"/><stop offset="0.32447" stop-color="#ff4e00"/><stop offset="0.32793" stop-color="#61ff9e"/><stop offset="0.33138" stop-color="#0afff5"/><stop offset="0.33483" stop-color="#00e7ff"/><stop offset="0.33828" stop-color="#00b0ff"/><stop offset="0.34173" stop-color="#0054ff"/><stop offset="0.34518" stop-color="#0001ff"/><stop offset="0.34864" stop-color="#0000da"/><stop offset="0.35209" stop-color="#0000ca"/><stop offset="0.35899" stop-color="#0000bf"/><stop offset="0.36590" stop-color="#0000bc"/><stop offset="0.39351" stop-color="#0000fc"/><stop offset="0.44184" stop-color="#005eff"/><stop offset="0.47290" stop-color="#008aff"/><stop offset="0.48671" stop-color="#0095ff"/><stop offset="0.49361" stop-color="#00a4ff"/><stop offset="0.49707" stop-color="#00b4ff"/><stop offset="0.50052" stop-color="#00cdff"/><stop offset="0.50397" stop-color="#00f4ff"/><stop offset="0.50742" stop-color="#5cffa3"/><stop offset="0.51087" stop-color="#ff4e00"/><stop offset="0.51433" stop-color="#61ff9e"/><stop offset="0.51778" stop-color="#0afff5"/><stop offset="0.52123" stop-color="#00e7ff"/><stop offset="0.52468" stop-color="#00b0ff"/><stop offset="0.52813" stop-color="#0054ff"/><stop offset="0.53158" stop-color="#0001ff"/><stop offset="0.53504" stop-color="#0000da"/><stop offset="0.53849" stop-color="#0000ca"/><stop offset="0.54539" stop-color="#0000bf"/><stop offset="0.55230" stop-color="#0000bc"/><stop offset="0.57991" stop-color="#0000fe"/><stop offset="0.62133" stop-color="#0056ff"/><stop offset="0.65240" stop-color="#0085ff"/><stop offset="0.66966" stop-color="#0095ff"/><stop offset="0.67656" stop-color="#00a4ff"/><stop offset="0.68001" stop-color="#00b4ff"/><stop offset="0.68347" stop-color="#00cdff"/><stop offset="0.68692" stop-color="#00f4ff"/><stop offset="0.69037" stop-color="#5cffa3"/><stop offset="0.69382" stop-color="#ff4e00"/><stop offset="0.69727" stop-color="#61ff9e"/><stop offset="0.70072" stop-color="#0afff5"/><stop offset="0.70418" stop-color="#00e7ff"/><stop offset="0.70763" stop-color="#00b0ff"/><stop offset="0.71108" stop-color="#0054ff"/><stop offset="0.71453" stop-color="#0001ff"/><stop offset="0.71798" stop-color="#0000da"/><stop offset="0.72144" stop-color="#0000ca"/><stop offset="0.72834" stop-color="#0000bf"/><stop offset="0.73524" stop-color="#0000bc"/><stop offset="0.76286" stop-color="#0000fe"/><stop offset="0.80428" stop-color="#0056ff"/><stop offset="0.83535" stop-color="#0085ff"/><stop offset="0.85261" stop-color="#0095ff"/><stop offset="0.85951" stop-color="#00a4ff"/><stop offset="0.86296" stop-color="#00b4ff"/><stop offset="0.86641" stop-color="#00cdff"/><stop offset="0.86987" stop-color="#00f4ff"/><stop offset="0.87332" stop-color="#5cffa3"/><stop offset="0.87677" stop-color="#ff4e00"/><stop offset="0.88022" stop-color="#61ff9e"/><stop offset="0.88367" stop-color="#0afff5"/><stop offset="0.88712" stop-color="#00e7ff"/><stop offset="0.89058" stop-color="#00b0ff"/><stop offset="0.89403" stop-color="#0054ff"/><stop offset="0.89748" stop-color="#0001ff"/><stop offset="0.90093" stop-color="#0000da"/><stop offset="0.90438" stop-color="#0000ca"/><stop offset="0.91129" stop-color="#0000bf"/><stop offset="0.91819" stop-color="#0000bc"/><stop offset="0.94581" stop-color="#0000fe"/><stop offset="0.98723" stop-color="#0056ff"/><stop offset="1.00000" stop-color="#006bff"/></linearGradient><linearGradient id="g18"><stop offset="0.00000" stop-color="#00009b"/><stop offset="0.00345" stop-color="#0000ac"/><stop offset="0.01381" stop-color="#0000ef"/><stop offset="0.01726" stop-color="#0000fc"/><stop offset="0.03107" stop-color="#0010ff"/><stop offset="0.08630" stop-color="#004bff"/><stop offset="0.14498" stop-color="#009cff"/><stop offset="0.14843" stop-color="#00a4ff"/><stop offset="0.15188" stop-color="#00b4ff"/><stop offset="0.15533" stop-color="#00cdff"/><stop offset="0.15878" stop-color="#00f4ff"/><stop offset="0.16224" stop-color="#5cffa3"/><stop offset="0.16569" stop-color="#ff4e00"/><stop offset="0.16914" stop-color="#61ff9e"/><stop offset="0.17259" stop-color="#0afff5"/><stop offset="0.17604" stop-color="#00e7ff"/><stop offset="0.17950" stop-color="#00b0ff"/><stop offset="0.18295" stop-color="#0054ff"/><stop offset="0.18640" stop-color="#0001ff"/><stop offset="0.18985" stop-color="#0000da"/><stop offset="0.19330" stop-color="#0000ca"/><stop offset="0.20021" stop-color="#0000bf"/><stop offset="0.20711" stop-color="#0000bc"/><stop offset="0.23473" stop-color="#0001ff"/><stop offset="0.27270" stop-color="#0053ff"/><stop offset="0.30376" stop-color="#0085ff"/><stop offset="0.32102" stop-color="#0095ff"/><stop offset="0.32793" stop-color="#00a4ff"/><stop offset="0.33138" stop-color="#00b4ff"/><stop offset="0.33483" stop-color="#00cdff"/><stop offset="0.33828" stop-color="#00f4ff"/><stop offset="0.34173" stop-color="#5cffa3"/><stop offset="0.34518" stop-color="#ff4e00"/><stop offset="0.34864" stop-color="#61ff9e"/><stop offset="0.35209" stop-color="#0afff5"/><stop offset="0.35554" stop-color="#00e7ff"/><stop offset="0.35899" stop-color="#00b0ff"/><stop offset="0.36244" stop-color="#0054ff"/><stop offset="0.36590" stop-color="#0001ff"/><stop offset="0.36935" stop-color="#0000da"/><stop offset="0.37280" stop-color="#0000ca"/><stop offset="0.37970" stop-color="#0000bf"/><stop offset="0.38661" stop-color="#0000bc"/><stop offset="0.41077" stop-color="#0000fe"/><stop offset="0.44874" stop-color="#0058ff"/><stop offset="0.47635" stop-color="#0087ff"/><stop offset="0.49016" stop-color="#0095ff"/><stop offset="0.49707" stop-color="#00a4ff"/><stop offset="0.50052" stop-color="#00b4ff"/><stop offset="0.50397" stop-color="#00cdff"/><stop offset="0.50742" stop-color="#00f4ff"/><stop offset="0.51087" stop-color="#5cffa3"/><stop offset="0.51433" stop-color="#ff4e00"/><stop offset="0.51778" stop-color="#61ff9e"/><stop offset="0.52123" stop-color="#0afff5"/><stop offset="0.52468" stop-color="#00e7ff"/><stop offset="0.52813" stop-color="#00b0ff"/><stop offset="0.53158" stop-color="#0054ff"/><stop offset="0.53504" stop-color="#0001ff"/><stop offset="0.53849" stop-color="#0000da"/><stop offset="0.54194" stop-color="#0000ca"/><stop offset="0.54884" stop-color="#0000bf"/><stop offset="0.55575" stop-color="#0000bc"/><stop offset="0.58336" stop-color="#0001ff"/><stop offset="0.62133" stop-color="#0053ff"/><stop offset="0.65240" stop-color="#0085ff"/><stop offset="0.66966" stop-color="#0095ff"/><stop offset="0.67656" stop-color="#00a4ff"/><stop offset="0.68001" stop-color="#00b4ff"/><stop offset="0.68347" stop-color="#00cdff"/><stop offset="0.68692" stop-color="#00f4ff"/><stop offset="0.69037" stop-color="#5cffa3"/><stop offset="0.69382" stop-color="#ff4e00"/><stop offset="0.69727" stop-color="#61ff9e"/><stop offset="0.70072" stop-color="#0afff5"/><stop offset="0.70418" stop-color="#00e7ff"/><stop offset="0.70763" stop-color="#00b0ff"/><stop offset="0.71108" stop-color="#0054ff"/><stop offset="0.71453" stop-color="#0001ff"/><stop offset="0.71798" stop-color="#0000da"/><stop offset="0.72144" stop-color="#0000ca"/><stop offset="0.72834" stop-color="#0000bf"/><stop offset="0.73524" stop-color="#0000bc"/><stop offset="0.76286" stop-color="#0000fc"/><stop offset="0.81118" stop-color="#005eff"/><stop offset="0.84225" stop-color="#008aff"/><stop offset="0.85606" stop-color="#0095ff"/><stop offset="0.86296" stop-color="#00a4ff"/><stop offset="0.86641" stop-color="#00b4ff"/><stop offset="0.86987" stop-color="#00cdff"/><stop offset="0.87332" stop-color="#00f4ff"/><stop offset="0.87677" stop-color="#5cffa3"/><stop offset="0.88022" stop-color="#ff4e00"/><stop offset="0.88367" stop-color="#61ff9e"/><stop offset="0.88712" stop-color="#0afff5"/><stop offset="0.89058" stop-color="#00e7ff"/><stop offset="0.89403" stop-color="#00b0ff"/><stop offset="0.89748" stop-color="#0054ff"/><stop offset="0.90093" stop-color="#0001ff"/><stop offset="0.90438" stop-color="#0000da"/><stop offset="0.90784" stop-color="#0000ca"/><stop offset="0.91474" stop-color="#0000bf"/><stop offset="0.92164" stop-color="#0000bc"/><stop offset="0.94926" stop-color="#0000fe"/><stop offset="0.99068" stop-color="#0056ff"/><stop offset="1.00000" stop-color="#0065ff"/></linearGradient><linearGradient id="g19"><stop offset="0.00000" stop-color="#00009b"/><stop offset="0.00345" stop-color="#0000ac"/><stop offset="0.01381" stop-color="#0000ef"/><stop offset="0.01726" stop-color="#0000fc"/><stop offset="0.03107" stop-color="#0010ff"/><stop offset="0.07939" stop-color="#0044ff"/><stop offset="0.12772" stop-color="#009cff"/><stop offset="0.13117" stop-color="#00a4ff"/><stop offset="0.13462" stop-color="#00b4ff"/><stop offset="0.13807" stop-color="#00cdff"/><stop offset="0.14153" stop-color="#00f4ff"/><stop offset="0.14498" stop-color="#5cffa3"/><stop offset="0.14843" stop-color="#ff4e00"/><stop offset="0.15188" stop-color="#61ff9e"/><stop offset="0.15533" stop-color="#0afff5"/><stop offset="0.15878" stop-color="#00e7ff"/><stop offset="0.16224" stop-color="#00b0ff"/><stop offset="0.16569" stop-color="#0054ff"/><stop offset="0.16914" stop-color="#0001ff"/><stop offset="0.17259" stop-color="#0000da"/><stop offset="0.17604" stop-color="#0000ca"/><stop offset="0.18295" stop-color="#0000bf"/><stop offset="0.18985" stop-color="#0000bc"/><stop offset="0.21747" stop-color="#0001ff"/><stop offset="0.25544" stop-color="#0053ff"/><stop offset="0.28650" stop-color="#0085ff"/><stop offset="0.30376" stop-color="#0095ff"/><stop offset="0.31067" stop-color="#00a4ff"/><stop offset="0.31412" stop-color="#00b4ff"/><stop offset="0.31757" stop-color="#00cdff"/><stop offset="0.32102" stop-color="#00f4ff"/><stop offset="0.32447" stop-color="#5cffa3"/><stop offset="0.32793" stop-color="#ff4e00"/><stop offset="0.33138" stop-color="#61ff9e"/><stop offset="0.33483" stop-color="#0afff5"/><stop offset="0.33828" stop-color="#00e7ff"/><stop offset="0.34173" stop-color="#00b0ff"/><stop offset="0.34518" stop-color="#0054ff"/><stop offset="0.34864" stop-color="#0001ff"/><stop offset="0.35209" stop-color="#0000da"/><stop offset="0.35554" stop-color="#0000ca"/><stop offset="0.36244" stop-color="#0000bf"/><stop offset="0.36935" stop-color="#0000bc"/><stop offset="0.39696" stop-color="#0000fe"/><stop offset="0.43838" stop-color="#0056ff"/><stop offset="0.46945" stop-color="#0085ff"/><stop offset="0.48671" stop-color="#0095ff"/><stop offset="0.49361" stop-color="#00a4ff"/><stop offset="0.49707" stop-color="#00b4ff"/><stop offset="0.50052" stop-color="#00cdff"/><stop offset="0.50397" stop-color="#00f4ff"/><stop offset="0.50742" stop-color="#5cffa3"/><stop offset="0.51087" stop-color="#ff4e00"/><stop offset="0.51433" stop-color="#61ff9e"/><stop offset="0.51778" stop-color="#0afff5"/><stop offset="0.52123" stop-color="#00e7ff"/><stop offset="0.52468" stop-color="#00b0ff"/><stop offset="0.52813" stop-color="#0054ff"/><stop offset="0.53158" stop-color="#0001ff"/><stop offset="0.53504" stop-color="#0000da"/><stop offset="0.53849" stop-color="#0000ca"/><stop offset="0.54539" stop-color="#0000bf"/><stop offset="0.55230" stop-color="#0000bc"/><stop offset="0.57991" stop-color="#0001ff"/><stop offset="0.61788" stop-color="#0053ff"/><stop offset="0.64895" stop-color="#0085ff"/><stop offset="0.66621" stop-color="#0095ff"/><stop offset="0.67311" stop-color="#00a4ff"/><stop offset="0.67656" stop-color="#00b4ff"/><stop offset="0.68001" stop-color="#00cdff"/><stop offset="0.68347" stop-color="#00f4ff"/><stop offset="0.68692" stop-color="#5cffa3"/><stop offset="0.69037" stop-color="#ff4e00"/><stop offset="0.69382" stop-color="#61ff9e"/><stop offset="0.69727" stop-color="#0afff5"/><stop offset="0.70072" stop-color="#00e7ff"/><stop offset="0.70418" stop-color="#00b0ff"/><stop offset="0.70763" stop-color="#0054ff"/><stop offset="0.71108" stop-color="#0001ff"/><stop offset="0.71453" stop-color="#0000da"/><stop offset="0.71798" stop-color="#0000ca"/><stop offset="0.72489" stop-color="#0000bf"/><stop offset="0.73179" stop-color="#0000bc"/><stop offset="0.75250" stop-color="#0000ff"/><stop offset="0.78012" stop-color="#004fff"/><stop offset="0.80428" stop-color="#0083ff"/><stop offset="0.82154" stop-color="#009cff"/><stop offset="0.82499" stop-color="#00a4ff"/><stop offset="0.82844" stop-color="#00b4ff"/><stop offset="0.83190" stop-color="#00cdff"/><stop offset="0.83535" stop-color="#00f4ff"/><stop offset="0.83880" stop-color="#5cffa3"/><stop offset="0.84225" stop-color="#ff4e00"/><stop offset="0.84570" stop-color="#61ff9e"/><stop offset="0.84915" stop-color="#0afff5"/><stop offset="0.85261" stop-color="#00e7ff"/><stop offset="0.85606" stop-color="#00b0ff"/><stop offset="0.85951" stop-color="#0054ff"/><stop offset="0.86296" stop-color="#0001ff"/><stop offset="0.86641" stop-color="#0000da"/><stop offset="0.86987" stop-color="#0000ca"/><stop offset="0.87677" stop-color="#0000bf"/><stop offset="0.88367" stop-color="#0000bc"/><stop offset="0.91129" stop-color="#0000fe"/><stop offset="0.95271" stop-color="#0056ff"/><stop offset="0.98378" stop-color="#0085ff"/><stop offset="1.00000" stop-color="#0094ff"/></linearGradient><linearGradient id="g20"><stop offset="0.00000" stop-color="#00009b"/><stop offset="0.00345" stop-color="#0000ac"/><stop offset="0.01381" stop-color="#0000ef"/><stop offset="0.01726" stop-color="#0000fc"/><stop offset="0.03107" stop-color="#0010ff"/><stop offset="0.07594" stop-color="#003eff"/><stop offset="0.12081" stop-color="#00a4ff"/><stop offset="0.12427" stop-color="#00b4ff"/><stop offset="0.12772" stop-color="#00cdff"/><stop offset="0.13117" stop-color="#00f4ff"/><stop offset="0.13462" stop-color="#5cffa3"/><stop offset="0.13807" stop-color="#ff4e00"/><stop offset="0.14153" stop-color="#61ff9e"/><stop offset="0.14498" stop-color="#0afff5"/><stop offset="0.14843" stop-color="#00e7ff"/><stop offset="0.15188" stop-color="#00b0ff"/><stop offset="0.15533" stop-color="#0054ff"/><stop offset="0.15878" stop-color="#0001ff"/><stop offset="0.16224" stop-color="#0000da"/><stop offset="0.16569" stop-color="#0000ca"/><stop offset="0.17259" stop-color="#0000bf"/><stop offset="0.17950" stop-color="#0000bc"/><stop offset="0.20021" stop-color="#0000f8"/><stop offset="0.20366" stop-color="#0003ff"/><stop offset="0.23473" stop-color="#0052ff"/><stop offset="0.25889" stop-color="#0081ff"/><stop offset="0.27960" stop-color="#009cff"/><stop offset="0.28305" stop-color="#00a4ff"/><stop offset="0.28650" stop-color="#00b4ff"/><stop offset="0.28996" stop-color="#00cdff"/><stop offset="0.29341" stop-color="#00f4ff"/><stop offset="0.29686" stop-color="#5cffa3"/><stop offset="0.30031" stop-color="#ff4e00"/><stop offset="0.30376" stop-color="#61ff9e"/><stop offset="0.30721" stop-color="#0afff5"/><stop offset="0.31067" stop-color="#00e7ff"/><stop offset="0.31412" stop-color="#00b0ff"/><stop offset="0.31757" stop-color="#0054ff"/><stop offset="0.32102" stop-color="#0001ff"/><stop offset="0.32447" stop-color="#0000da"/><stop offset="0.32793" stop-color="#0000ca"/><stop offset="0.33483" stop-color="#0000bf"/><stop offset="0.34173" stop-color="#0000bc"/><stop offset="0.36244" stop-color="#0000fb"/><stop offset="0.36935" stop-color="#0010ff"/><stop offset="0.40041" stop-color="#005eff"/><stop offset="0.42458" stop-color="#008aff"/><stop offset="0.43838" stop-color="#009cff"/><stop offset="0.44184" stop-color="#00a4ff"/><stop offset="0.44529" stop-color="#00b4ff"/><stop offset="0.44874" stop-color="#00cdff"/><stop offset="0.45219" stop-color="#00f4ff"/><stop offset="0.45564" stop-color="#5cffa3"/><stop offset="0.45910" stop-color="#ff4e00"/><stop offset="0.46255" stop-color="#61ff9e"/><stop offset="0.46600" stop-color="#0afff5"/><stop offset="0.46945" stop-color="#00e7ff"/><stop offset="0.47290" stop-color="#00b0ff"/><stop offset="0.47635" stop-color="#0054ff"/><stop offset="0.47981" stop-color="#0001ff"/><stop offset="0.48326" stop-color="#0000da"/><stop offset="0.48671" stop-color="#0000ca"/><stop offset="0.49361" stop-color="#0000bf"/><stop offset="0.50052" stop-color="#0000bc"/><stop offset="0.52813" stop-color="#0000fc"/><stop offset="0.57646" stop-color="#005eff"/><stop offset="0.60753" stop-color="#008aff"/><stop offset="0.62133" stop-color="#0095ff"/><stop offset="0.62824" stop-color="#00a4ff"/><stop offset="0.63169" stop-color="#00b4ff"/><stop offset="0.63514" stop-color="#00cdff"/><stop offset="0.63859" stop-color="#00f4ff"/><stop offset="0.64204" stop-color="#5cffa3"/><stop offset="0.64550" stop-color="#ff4e00"/><stop offset="0.64895" stop-color="#61ff9e"/><stop offset="0.65240" stop-color="#0afff5"/><stop offset="0.65585" stop-color="#00e7ff"/><stop offset="0.65930" stop-color="#00b0ff"/><stop offset="0.66275" stop-color="#0054ff"/><stop offset="0.66621" stop-color="#0001ff"/><stop offset="0.66966" stop-color="#0000da"/><stop offset="0.67311" stop-color="#0000ca"/><stop offset="0.68001" stop-color="#0000bf"/><stop offset="0.68692" stop-color="#0000bc"/><stop offset="0.71108" stop-color="#0000fa"/><stop offset="0.71453" stop-color="#0003ff"/><stop offset="0.74905" stop-color="#0050ff"/><stop offset="0.77667" stop-color="#007fff"/><stop offset="0.79738" stop-color="#0095ff"/><stop offset="0.80428" stop-color="#00a4ff"/><stop offset="0.80773" stop-color="#00b4ff"/><stop offset="0.81118" stop-color="#00cdff"/><stop offset="0.81464" stop-color="#00f4ff"/><stop offset="0.81809" stop-color="#5cffa3"/><stop offset="0.82154" stop-color="#ff4e00"/><stop offset="0.82499" stop-color="#61ff9e"/><stop offset="0.82844" stop-color="#0afff5"/><stop offset="0.83190" stop-color="#00e7ff"/><stop offset="0.83535" stop-color="#00b0ff"/><stop offset="0.83880" stop-color="#0054ff"/><stop offset="0.84225" stop-color="#0001ff"/><stop offset="0.84570" stop-color="#0000da"/><stop offset="0.84915" stop-color="#0000ca"/><stop offset="0.85606" stop-color="#0000bf"/><stop offset="0.86296" stop-color="#0000bc"/><stop offset="0.89058" stop-color="#0000fe"/><stop offset="0.93200" stop-color="#0056ff"/><stop offset="0.96307" stop-color="#0085ff"/><stop offset="0.98032" stop-color="#0094ff"/><stop offset="1.00000" stop-color="#0094ff"/></linearGradient><linearGradient id="g21"><stop offset="0.00000" stop-color="#00009b"/><stop offset="0.00345" stop-color="#0000ac"/><stop offset="0.01381" stop-color="#0000ef"/><stop offset="0.01726" stop-color="#0000fc"/><stop offset="0.03107" stop-color="#0010ff"/><stop offset="0.08630" stop-color="#004bff"/><stop offset="0.14498" stop-color="#009cff"/><stop offset="0.14843" stop-color="#00a4ff"/><stop offset="0.15188" stop-color="#00b4ff"/><stop offset="0.15533" stop-color="#00cdff"/><stop offset="0.15878" stop-color="#00f4ff"/><stop offset="0.16224" stop-color="#5cffa3"/><stop offset="0.16569" stop-color="#ff4e00"/><stop offset="0.16914" stop-color="#61ff9e"/><stop offset="0.17259" stop-color="#0afff5"/><stop offset="0.17604" stop-color="#00e7ff"/><stop offset="0.17950" stop-color="#00b0ff"/><stop offset="0.18295" stop-color="#0054ff"/><stop offset="0.18640" stop-color="#0001ff"/><stop offset="0.18985" stop-color="#0000da"/><stop offset="0.19330" stop-color="#0000ca"/><stop offset="0.20021" stop-color="#0000bf"/><stop offset="0.20711" stop-color="#0000bc"/><stop offset="0.23473" stop-color="#0000fc"/><stop offset="0.28305" stop-color="#005eff"/><stop offset="0.31412" stop-color="#008aff"/><stop offset="0.32793" stop-color="#0095ff"/><stop offset="0.33483" stop-color="#00a4ff"/><stop offset="0.33828" stop-color="#00b4ff"/><stop offset="0.34173" stop-color="#00cdff"/><stop offset="0.34518" stop-color="#00f4ff"/><stop offset="0.34864" stop-color="#5cffa3"/><stop offset="0.35209" stop-color="#ff4e00"/><stop offset="0.35554" stop-color="#61ff9e"/><stop offset="0.35899" stop-color="#0afff5"/><stop offset="0.36244" stop-color="#00e7ff"/><stop offset="0.36590" stop-color="#00b0ff"/><stop offset="0.36935" stop-color="#0054ff"/><stop offset="0.37280" stop-color="#0001ff"/><stop offset="0.37625" stop-color="#0000da"/><stop offset="0.37970" stop-color="#0000ca"/><stop offset="0.38661" stop-color="#0000bf"/><stop offset="0.39351" stop-color="#0000bc"/><stop offset="0.42113" stop-color="#0000fc"/><stop offset="0.46945" stop-color="#005eff"/><stop offset="0.50052" stop-color="#008aff"/><stop offset="0.51433" stop-color="#0095ff"/><stop offset="0.52123" stop-color="#00a4ff"/><stop offset="0.52468" stop-color="#00b4ff"/><stop offset="0.52813" stop-color="#00cdff"/><stop offset="0.53158" stop-color="#00f4ff"/><stop offset="0.53504" stop-color="#5cffa3"/><stop offset="0.53849" stop-color="#ff4e00"/><stop offset="0.54194" stop-color="#61ff9e"/><stop offset="0.54539" stop-color="#0afff5"/><stop offset="0.54884" stop-color="#00e7ff"/><stop offset="0.55230" stop-color="#00b0ff"/><stop offset="0.55575" stop-color="#0054ff"/><stop offset="0.55920" stop-color="#0001ff"/><stop offset="0.56265" stop-color="#0000da"/><stop offset="0.56610" stop-color="#0000ca"/><stop offset="0.57301" stop-color="#0000bf"/><stop offset="0.57991" stop-color="#0000bc"/><stop offset="0.60753" stop-color="#0001ff"/><stop offset="0.64550" stop-color="#0053ff"/><stop offset="0.67656" stop-color="#0085ff"/><stop offset="0.69382" stop-color="#0095ff"/><stop offset="0.70072" stop-color="#00a4ff"/><stop offset="0.70418" stop-color="#00b4ff"/><stop offset="0.70763" stop-color="#00cdff"/><stop offset="0.71108" stop-color="#00f4ff"/><stop offset="0.71453" stop-color="#5cffa3"/><stop offset="0.71798" stop-color="#ff4e00"/><stop offset="0.72144" stop-color="#61ff9e"/><stop offset="0.72489" stop-color="#0afff5"/><stop offset="0.72834" stop-color="#00e7ff"/><stop offset="0.73179" stop-color="#00b0ff"/><stop offset="0.73524" stop-color="#0054ff"/><stop offset="0.73870" stop-color="#0001ff"/><stop offset="0.74215" stop-color="#0000da"/><stop offset="0.74560" stop-color="#0000ca"/><stop offset="0.75250" stop-color="#0000bf"/><stop offset="0.75941" stop-color="#0000bc"/><stop offset="0.77667" stop-color="#0000ff"/><stop offset="0.80083" stop-color="#0052ff"/><stop offset="0.81809" stop-color="#007fff"/><stop offset="0.83535" stop-color="#009cff"/><stop offset="0.83880" stop-color="#00a4ff"/><stop offset="0.84225" stop-color="#00b4ff"/><stop offset="0.84570" stop-color="#00cdff"/><stop offset="0.84915" stop-color="#00f4ff"/><stop offset="0.85261" stop-color="#5cffa3"/><stop offset="0.85606" stop-color="#ff4e00"/><stop offset="0.85951" stop-color="#61ff9e"/><stop offset="0.86296" stop-color="#0afff5"/><stop offset="0.86641" stop-color="#00e7ff"/><stop offset="0.86987" stop-color="#00b0ff"/><stop offset="0.87332" stop-color="#0054ff"/><stop offset="0.87677" stop-color="#0001ff"/><stop offset="0.88022" stop-color="#0000da"/><stop offset="0.88367" stop-color="#0000ca"/><stop offset="0.89058" stop-color="#0000bf"/><stop offset="0.89748" stop-color="#0000bc"/><stop offset="0.92509" stop-color="#0000fe"/><stop offset="0.96652" stop-color="#0056ff"/><stop offset="0.99758" stop-color="#0085ff"/><stop offset="1.00000" stop-color="#0088ff"/></linearGradient><linearGradient id="g22"><stop offset="0.00000" stop-color="#00009b"/><stop offset="0.00345" stop-color="#0000ac"/><stop offset="0.01381" stop-color="#0000ef"/><stop offset="0.01726" stop-color="#0000fc"/><stop offset="0.03107" stop-color="#0010ff"/><stop offset="0.07939" stop-color="#0044ff"/><stop offset="0.13117" stop-color="#009cff"/><stop offset="0.13462" stop-color="#00a4ff"/><stop offset="0.13807" stop-color="#00b4ff"/><stop offset="0.14153" stop-color="#00cdff"/><stop offset="0.14498" stop-color="#00f4ff"/><stop offset="0.14843" stop-color="#5cffa3"/><stop offset="0.15188" stop-color="#ff4e00"/><stop offset="0.15533" stop-color="#61ff9e"/><stop offset="0.15878" stop-color="#0afff5"/><stop offset="0.16224" stop-color="#00e7ff"/><stop offset="0.16569" stop-color="#00b0ff"/><stop offset="0.16914" stop-color="#0054ff"/><stop offset="0.17259" stop-color="#0001ff"/><stop offset="0.17604" stop-color="#0000da"/><stop offset="0.17950" stop-color="#0000ca"/><stop offset="0.18640" stop-color="#0000bf"/><stop offset="0.19330" stop-color="#0000bc"/><stop offset="0.21747" stop-color="#0000fa"/><stop offset="0.22092" stop-color="#0003ff"/><stop offset="0.25544" stop-color="#0050ff"/><stop offset="0.28305" stop-color="#007fff"/><stop offset="0.30376" stop-color="#0095ff"/><stop offset="0.31067" stop-color="#00a4ff"/><stop offset="0.31412" stop-color="#00b4ff"/><stop offset="0.31757" stop-color="#00cdff"/><stop offset="0.32102" stop-color="#00f4ff"/><stop offset="0.32447" stop-color="#5cffa3"/><stop offset="0.32793" stop-color="#ff4e00"/><stop offset="0.33138" stop-color="#61ff9e"/><stop offset="0.33483" stop-color="#0afff5"/><stop offset="0.33828" stop-color="#00e7ff"/><stop offset="0.34173" stop-color="#00b0ff"/><stop offset="0.34518" stop-color="#0054ff"/><stop offset="0.34864" stop-color="#0001ff"/><stop offset="0.35209" stop-color="#0000da"/><stop offset="0.35554" stop-color="#0000ca"/><stop offset="0.36244" stop-color="#0000bf"/><stop offset="0.36935" stop-color="#0000bc"/><stop offset="0.39351" stop-color="#0000fa"/><stop offset="0.39696" stop-color="#0003ff"/><stop offset="0.43148" stop-color="#0050ff"/><stop offset="0.45910" stop-color="#007fff"/><stop offset="0.47981" stop-color="#0095ff"/><stop offset="0.48671" stop-color="#00a4ff"/><stop offset="0.49016" stop-color="#00b4ff"/><stop offset="0.49361" stop-color="#00cdff"/><stop offset="0.49707" stop-color="#00f4ff"/><stop offset="0.50052" stop-color="#5cffa3"/><stop offset="0.50397" stop-color="#ff4e00"/><stop offset="0.50742" stop-color="#61ff9e"/><stop offset="0.51087" stop-color="#0afff5"/><stop offset="0.51433" stop-color="#00e7ff"/><stop offset="0.51778" stop-color="#00b0ff"/><stop offset="0.52123" stop-color="#0054ff"/><stop offset="0.52468" stop-color="#0001ff"/><stop offset="0.52813" stop-color="#0000da"/><stop offset="0.53158" stop-color="#0000ca"/><stop offset="0.53849" stop-color="#0000bf"/><stop offset="0.54539" stop-color="#0000bc"/><stop offset="0.57646" stop-color="#0000ff"/><stop offset="0.62133" stop-color="#0054ff"/><stop offset="0.65585" stop-color="#0084ff"/><stop offset="0.67656" stop-color="#0095ff"/><stop offset="0.68347" stop-color="#00a4ff"/><stop offset="0.68692" stop-color="#00b4ff"/><stop offset="0.69037" stop-color="#00cdff"/><stop offset="0.69382" stop-color="#00f4ff"/><stop offset="0.69727" stop-color="#5cffa3"/><stop offset="0.70072" stop-color="#ff4e00"/><stop offset="0.70418" stop-color="#61ff9e"/><stop offset="0.70763" stop-color="#0afff5"/><stop offset="0.71108" stop-color="#00e7ff"/><stop offset="0.71453" stop-color="#00b0ff"/><stop offset="0.71798" stop-color="#0054ff"/><stop offset="0.72144" stop-color="#0001ff"/><stop offset="0.72489" stop-color="#0000da"/><stop offset="0.72834" stop-color="#0000ca"/><stop offset="0.73524" stop-color="#0000bf"/><stop offset="0.74215" stop-color="#0000bc"/><stop offset="0.76976" stop-color="#0000fc"/><stop offset="0.81809" stop-color="#005eff"/><stop offset="0.84915" stop-color="#008aff"/><stop offset="0.86296" stop-color="#0095ff"/><stop offset="0.86987" stop-color="#00a4ff"/><stop offset="0.87332" stop-color="#00b4ff"/><stop offset="0.87677" stop-color="#00cdff"/><stop offset="0.88022" stop-color="#00f4ff"/><stop offset="0.88367" stop-color="#5cffa3"/><stop offset="0.88712" stop-color="#ff4e00"/><stop offset="0.89058" stop-color="#61ff9e"/><stop offset="0.89403" stop-color="#0afff5"/><stop offset="0.89748" stop-color="#00e7ff"/><stop offset="0.90093" stop-color="#00b0ff"/><stop offset="0.90438" stop-color="#0054ff"/><stop offset="0.90784" stop-color="#0001ff"/><stop offset="0.91129" stop-color="#0000da"/><stop offset="0.91474" stop-color="#0000ca"/><stop offset="0.92164" stop-color="#0000bf"/><stop offset="0.92855" stop-color="#0000bc"/><stop offset="0.95616" stop-color="#0000fe"/><stop offset="0.99758" stop-color="#0056ff"/><stop offset="1.00000" stop-color="#0059ff"/></linearGradient><linearGradient id="g23"><stop offset="0.00000" stop-color="#00009b"/><stop offset="0.00345" stop-color="#0000ac"/><stop offset="0.01381" stop-color="#0000ef"/><stop offset="0.01726" stop-color="#0000fc"/><stop offset="0.03107" stop-color="#0010ff"/><stop offset="0.07939" stop-color="#0044ff"/><stop offset="0.12772" stop-color="#009cff"/><stop offset="0.13117" stop-color="#00a4ff"/><stop offset="0.13462" stop-color="#00b4ff"/><stop offset="0.13807" stop-color="#00cdff"/><stop offset="0.14153" stop-color="#00f4ff"/><stop offset="0.14498" stop-color="#5cffa3"/><stop offset="0.14843" stop-color="#ff4e00"/><stop offset="0.15188" stop-color="#61ff9e"/><stop offset="0.15533" stop-color="#0afff5"/><stop offset="0.15878" stop-color="#00e7ff"/><stop offset="0.16224" stop-color="#00b0ff"/><stop offset="0.16569" stop-color="#0054ff"/><stop offset="0.16914" stop-color="#0001ff"/><stop offset="0.17259" stop-color="#0000da"/><stop offset="0.17604" stop-color="#0000ca"/><stop offset="0.18295" stop-color="#0000bf"/><stop offset="0.18985" stop-color="#0000bc"/><stop offset="0.21747" stop-color="#0000fe"/><stop offset="0.25889" stop-color="#0056ff"/><stop offset="0.28996" stop-color="#0085ff"/><stop offset="0.30721" stop-color="#0095ff"/><stop offset="0.31412" stop-color="#00a4ff"/><stop offset="0.31757" stop-color="#00b4ff"/><stop offset="0.32102" stop-color="#00cdff"/><stop offset="0.32447" stop-color="#00f4ff"/><stop offset="0.32793" stop-color="#5cffa3"/><stop offset="0.33138" stop-color="#ff4e00"/><stop offset="0.33483" stop-color="#61ff9e"/><stop offset="0.33828" stop-color="#0afff5"/><stop offset="0.34173" stop-color="#00e7ff"/><stop offset="0.34518" stop-color="#00b0ff"/><stop offset="0.34864" stop-color="#0054ff"/><stop offset="0.35209" stop-color="#0001ff"/><stop offset="0.35554" stop-color="#0000da"/><stop offset="0.35899" stop-color="#0000ca"/><stop offset="0.36590" stop-color="#0000bf"/><stop offset="0.37280" stop-color="#0000bc"/><stop offset="0.40041" stop-color="#0000fc"/><stop offset="0.44874" stop-color="#005eff"/><stop offset="0.47981" stop-color="#008aff"/><stop offset="0.49361" stop-color="#0095ff"/><stop offset="0.50052" stop-color="#00a4ff"/><stop offset="0.50397" stop-color="#00b4ff"/><stop offset="0.50742" stop-color="#00cdff"/><stop offset="0.51087" stop-color="#00f4ff"/><stop offset="0.51433" stop-color="#5cffa3"/><stop offset="0.51778" stop-color="#ff4e00"/><stop offset="0.52123" stop-color="#61ff9e"/><stop offset="0.52468" stop-color="#0afff5"/><stop offset="0.52813" stop-color="#00e7ff"/><stop offset="0.53158" stop-color="#00b0ff"/><stop offset="0.53504" stop-color="#0054ff"/><stop offset="0.53849" stop-color="#0001ff"/><stop offset="0.54194" stop-color="#0000da"/><stop offset="0.54539" stop-color="#0000ca"/><stop offset="0.55230" stop-color="#0000bf"/><stop offset="0.55920" stop-color="#0000bc"/><stop offset="0.59027" stop-color="#0001ff"/><stop offset="0.63169" stop-color="#0051ff"/><stop offset="0.66621" stop-color="#0083ff"/><stop offset="0.68692" stop-color="#0095ff"/><stop offset="0.69382" stop-color="#00a4ff"/><stop offset="0.69727" stop-color="#00b4ff"/><stop offset="0.70072" stop-color="#00cdff"/><stop offset="0.70418" stop-color="#00f4ff"/><stop offset="0.70763" stop-color="#5cffa3"/><stop offset="0.71108" stop-color="#ff4e00"/><stop offset="0.71453" stop-color="#61ff9e"/><stop offset="0.71798" stop-color="#0afff5"/><stop offset="0.72144" stop-color="#00e7ff"/><stop offset="0.72489" stop-color="#00b0ff"/><stop offset="0.72834" stop-color="#0054ff"/><stop offset="0.73179" stop-color="#0001ff"/><stop offset="0.73524" stop-color="#0000da"/><stop offset="0.73870" stop-color="#0000ca"/><stop offset="0.74560" stop-color="#0000bf"/><stop offset="0.75250" stop-color="#0000bc"/><stop offset="0.78012" stop-color="#0001ff"/><stop offset="0.81809" stop-color="#0053ff"/><stop offset="0.84915" stop-color="#0085ff"/><stop offset="0.86641" stop-color="#0095ff"/><stop offset="0.87332" stop-color="#00a4ff"/><stop offset="0.87677" stop-color="#00b4ff"/><stop offset="0.88022" stop-color="#00cdff"/><stop offset="0.88367" stop-color="#00f4ff"/><stop offset="0.88712" stop-color="#5cffa3"/><stop offset="0.89058" stop-color="#ff4e00"/><stop offset="0.89403" stop-color="#61ff9e"/><stop offset="0.89748" stop-color="#0afff5"/><stop offset="0.90093" stop-color="#00e7ff"/><stop offset="0.90438" stop-color="#00b0ff"/><stop offset="0.90784" stop-color="#0054ff"/><stop offset="0.91129" stop-color="#0001ff"/><stop offset="0.91474" stop-color="#0000da"/><stop offset="0.91819" stop-color="#0000ca"/><stop offset="0.92509" stop-color="#0000bf"/><stop offset="0.93200" stop-color="#0000bc"/><stop offset="0.95961" stop-color="#0000fe"/><stop offset="0.99758" stop-color="#004fff"/><stop offset="1.00000" stop-color="#0053ff"/></linearGradient><linearGradient id="g24"><stop offset="0.00000" stop-color="#00009b"/><stop offset="0.00345" stop-color="#0000ac"/><stop offset="0.01381" stop-color="#0000ef"/><stop offset="0.01726" stop-color="#0000fc"/><stop offset="0.03107" stop-color="#0010ff"/><stop offset="0.07939" stop-color="#0044ff"/><stop offset="0.12772" stop-color="#009cff"/><stop offset="0.13117" stop-color="#00a4ff"/><stop offset="0.13462" stop-color="#00b4ff"/><stop offset="0.13807" stop-color="#00cdff"/><stop offset="0.14153" stop-color="#00f4ff"/><stop offset="0.14498" stop-color="#5cffa3"/><stop offset="0.14843" stop-color="#ff4e00"/><stop offset="0.15188" stop-color="#61ff9e"/><stop offset="0.15533" stop-color="#0afff5"/><stop offset="0.15878" stop-color="#00e7ff"/><stop offset="0.16224" stop-color="#00b0ff"/><stop offset="0.16569" stop-color="#0054ff"/><stop offset="0.16914" stop-color="#0001ff"/><stop offset="0.17259" stop-color="#0000da"/><stop offset="0.17604" stop-color="#0000ca"/><stop offset="0.18295" stop-color="#0000bf"/><stop offset="0.18985" stop-color="#0000bc"/><stop offset="0.22092" stop-color="#0000fb"/><stop offset="0.23127" stop-color="#0011ff"/><stop offset="0.27615" stop-color="#005dff"/><stop offset="0.31067" stop-color="#0088ff"/><stop offset="0.32793" stop-color="#0095ff"/><stop offset="0.33483" stop-color="#00a4ff"/><stop offset="0.33828" stop-color="#00b4ff"/><stop offset="0.34173" stop-color="#00cdff"/><stop offset="0.34518" stop-color="#00f4ff"/><stop offset="0.34864" stop-color="#5cffa3"/><stop offset="0.35209" stop-color="#ff4e00"/><stop offset="0.35554" stop-color="#61ff9e"/><stop offset="0.35899" stop-color="#0afff5"/><stop offset="0.36244" stop-color="#00e7ff"/><stop offset="0.36590" stop-color="#00b0ff"/><stop offset="0.36935" stop-color="#0054ff"/><stop offset="0.37280" stop-color="#0001ff"/><stop offset="0.37625" stop-color="#0000da"/><stop offset="0.37970" stop-color="#0000ca"/><stop offset="0.38661" stop-color="#0000bf"/><stop offset="0.39351" stop-color="#0000bc"/><stop offset="0.41767" stop-color="#0000fa"/><stop offset="0.42113" stop-color="#0003ff"/><stop offset="0.45564" stop-color="#0050ff"/><stop offset="0.48326" stop-color="#007fff"/><stop offset="0.50397" stop-color="#0095ff"/><stop offset="0.51087" stop-color="#00a4ff"/><stop offset="0.51433" stop-color="#00b4ff"/><stop offset="0.51778" stop-color="#00cdff"/><stop offset="0.52123" stop-color="#00f4ff"/><stop offset="0.52468" stop-color="#5cffa3"/><stop offset="0.52813" stop-color="#ff4e00"/><stop offset="0.53158" stop-color="#61ff9e"/><stop offset="0.53504" stop-color="#0afff5"/><stop offset="0.53849" stop-color="#00e7ff"/><stop offset="0.54194" stop-color="#00b0ff"/><stop offset="0.54539" stop-color="#0054ff"/><stop offset="0.54884" stop-color="#0001ff"/><stop offset="0.55230" stop-color="#0000da"/><stop offset="0.55575" stop-color="#0000ca"/><stop offset="0.56265" stop-color="#0000bf"/><stop offset="0.56955" stop-color="#0000bc"/><stop offset="0.59717" stop-color="#0001ff"/><stop offset="0.63514" stop-color="#0053ff"/><stop offset="0.66621" stop-color="#0085ff"/><stop offset="0.68347" stop-color="#0095ff"/><stop offset="0.69037" stop-color="#00a4ff"/><stop offset="0.69382" stop-color="#00b4ff"/><stop offset="0.69727" stop-color="#00cdff"/><stop offset="0.70072" stop-color="#00f4ff"/><stop offset="0.70418" stop-color="#5cffa3"/><stop offset="0.70763" stop-color="#ff4e00"/><stop offset="0.71108" stop-color="#61ff9e"/><stop offset="0.71453" stop-color="#0afff5"/><stop offset="0.71798" stop-color="#00e7ff"/><stop offset="0.72144" stop-color="#00b0ff"/><stop offset="0.72489" stop-color="#0054ff"/><stop offset="0.72834" stop-color="#0001ff"/><stop offset="0.73179" stop-color="#0000da"/><stop offset="0.73524" stop-color="#0000ca"/><stop offset="0.74215" stop-color="#0000bf"/><stop offset="0.74905" stop-color="#0000bc"/><stop offset="0.77667" stop-color="#0001ff"/><stop offset="0.81464" stop-color="#0053ff"/><stop offset="0.84570" stop-color="#0085ff"/><stop offset="0.86296" stop-color="#0095ff"/><stop offset="0.86987" stop-color="#00a4ff"/><stop offset="0.87332" stop-color="#00b4ff"/><stop offset="0.87677" stop-color="#00cdff"/><stop offset="0.88022" stop-color="#00f4ff"/><stop offset="0.88367" stop-color="#5cffa3"/><stop offset="0.88712" stop-color="#ff4e00"/><stop offset="0.89058" stop-color="#61ff9e"/><stop offset="0.89403" stop-color="#0afff5"/><stop offset="0.89748" stop-color="#00e7ff"/><stop offset="0.90093" stop-color="#00b0ff"/><stop offset="0.90438" stop-color="#0054ff"/><stop offset="0.90784" stop-color="#0001ff"/><stop offset="0.91129" stop-color="#0000da"/><stop offset="0.91474" stop-color="#0000ca"/><stop offset="0.92164" stop-color="#0000bf"/><stop offset="0.92855" stop-color="#0000bc"/><stop offset="0.95616" stop-color="#0000fe"/><stop offset="0.99758" stop-color="#0056ff"/><stop offset="1.00000" stop-color="#0059ff"/></linearGradient><linearGradient id="g25"><stop offset="0.00000" stop-color="#00009b"/><stop offset="0.00345" stop-color="#0000ac"/><stop offset="0.01381" stop-color="#0000ef"/><stop offset="0.01726" stop-color="#0000fc"/><stop offset="0.03107" stop-color="#0010ff"/><stop offset="0.07594" stop-color="#003eff"/><stop offset="0.12772" stop-color="#00a4ff"/><stop offset="0.13117" stop-color="#00b4ff"/><stop offset="0.13462" stop-color="#00cdff"/><stop offset="0.13807" stop-color="#00f4ff"/><stop offset="0.14153" stop-color="#5cffa3"/><stop offset="0.14498" stop-color="#ff4e00"/><stop offset="0.14843" stop-color="#61ff9e"/><stop offset="0.15188" stop-color="#0afff5"/><stop offset="0.15533" stop-color="#00e7ff"/><stop offset="0.15878" stop-color="#00b0ff"/><stop offset="0.16224" stop-color="#0054ff"/><stop offset="0.16569" stop-color="#0001ff"/><stop offset="0.16914" stop-color="#0000da"/><stop offset="0.17259" stop-color="#0000ca"/><stop offset="0.17950" stop-color="#0000bf"/><stop offset="0.18640" stop-color="#0000bc"/><stop offset="0.21747" stop-color="#0001ff"/><stop offset="0.25889" stop-color="#0051ff"/><stop offset="0.29341" stop-color="#0083ff"/><stop offset="0.31412" stop-color="#0095ff"/><stop offset="0.32102" stop-color="#00a4ff"/><stop offset="0.32447" stop-color="#00b4ff"/><stop offset="0.32793" stop-color="#00cdff"/><stop offset="0.33138" stop-color="#00f4ff"/><stop offset="0.33483" stop-color="#5cffa3"/><stop offset="0.33828" stop-color="#ff4e00"/><stop offset="0.34173" stop-color="#61ff9e"/><stop offset="0.34518" stop-color="#0afff5"/><stop offset="0.34864" stop-color="#00e7ff"/><stop offset="0.35209" stop-color="#00b0ff"/><stop offset="0.35554" stop-color="#0054ff"/><stop offset="0.35899" stop-color="#0001ff"/><stop offset="0.36244" stop-color="#0000da"/><stop offset="0.36590" stop-color="#0000ca"/><stop offset="0.37280" stop-color="#0000bf"/><stop offset="0.37970" stop-color="#0000bc"/><stop offset="0.40387" stop-color="#0000fe"/><stop offset="0.44184" stop-color="#0058ff"/><stop offset="0.46945" stop-color="#0087ff"/><stop offset="0.48326" stop-color="#0095ff"/><stop offset="0.49016" stop-color="#00a4ff"/><stop offset="0.49361" stop-color="#00b4ff"/><stop offset="0.49707" stop-color="#00cdff"/><stop offset="0.50052" stop-color="#00f4ff"/><stop offset="0.50397" stop-color="#5cffa3"/><stop offset="0.50742" stop-color="#ff4e00"/><stop offset="0.51087" stop-color="#61ff9e"/><stop offset="0.51433" stop-color="#0afff5"/><stop offset="0.51778" stop-color="#00e7ff"/><stop offset="0.52123" stop-color="#00b0ff"/><stop offset="0.52468" stop-color="#0054ff"/><stop offset="0.52813" stop-color="#0001ff"/><stop offset="0.53158" stop-color="#0000da"/><stop offset="0.53504" stop-color="#0000ca"/><stop offset="0.54194" stop-color="#0000bf"/><stop offset="0.54884" stop-color="#0000bc"/><stop offset="0.57991" stop-color="#0001ff"/><stop offset="0.62133" stop-color="#0051ff"/><stop offset="0.65585" stop-color="#0083ff"/><stop offset="0.67656" stop-color="#0095ff"/><stop offset="0.68347" stop-color="#00a4ff"/><stop offset="0.68692" stop-color="#00b4ff"/><stop offset="0.69037" stop-color="#00cdff"/><stop offset="0.69382" stop-color="#00f4ff"/><stop offset="0.69727" stop-color="#5cffa3"/><stop offset="0.70072" stop-color="#ff4e00"/><stop offset="0.70418" stop-color="#61ff9e"/><stop offset="0.70763" stop-color="#0afff5"/><stop offset="0.71108" stop-color="#00e7ff"/><stop offset="0.71453" stop-color="#00b0ff"/><stop offset="0.71798" stop-color="#0054ff"/><stop offset="0.72144" stop-color="#0001ff"/><stop offset="0.72489" stop-color="#0000da"/><stop offset="0.72834" stop-color="#0000ca"/><stop offset="0.73524" stop-color="#0000bf"/><stop offset="0.74215" stop-color="#0000bc"/><stop offset="0.76976" stop-color="#0001ff"/><stop offset="0.80773" stop-color="#0053ff"/><stop offset="0.83880" stop-color="#0085ff"/><stop offset="0.85606" stop-color="#0095ff"/><stop offset="0.86296" stop-color="#00a4ff"/><stop offset="0.86641" stop-color="#00b4ff"/><stop offset="0.86987" stop-color="#00cdff"/><stop offset="0.87332" stop-color="#00f4ff"/><stop offset="0.87677" stop-color="#5cffa3"/><stop offset="0.88022" stop-color="#ff4e00"/><stop offset="0.88367" stop-color="#61ff9e"/><stop offset="0.88712" stop-color="#0afff5"/><stop offset="0.89058" stop-color="#00e7ff"/><stop offset="0.89403" stop-color="#00b0ff"/><stop offset="0.89748" stop-color="#0054ff"/><stop offset="0.90093" stop-color="#0001ff"/><stop offset="0.90438" stop-color="#0000da"/><stop offset="0.90784" stop-color="#0000ca"/><stop offset="0.91474" stop-color="#0000bf"/><stop offset="0.92164" stop-color="#0000bc"/><stop offset="0.94926" stop-color="#0000fe"/><stop offset="0.99068" stop-color="#0056ff"/><stop offset="1.00000" stop-color="#0065ff"/></linearGradient><linearGradient id="g26"><stop offset="0.00000" stop-color="#00009b"/><stop offset="0.00345" stop-color="#0000ac"/><stop offset="0.01381" stop-color="#0000ef"/><stop offset="0.01726" stop-color="#0000fc"/><stop offset="0.03107" stop-color="#0010ff"/><stop offset="0.07594" stop-color="#003eff"/><stop offset="0.12772" stop-color="#00a4ff"/><stop offset="0.13117" stop-color="#00b4ff"/><stop offset="0.13462" stop-color="#00cdff"/><stop offset="0.13807" stop-color="#00f4ff"/><stop offset="0.14153" stop-color="#5cffa3"/><stop offset="0.14498" stop-color="#ff4e00"/><stop offset="0.14843" stop-color="#61ff9e"/><stop offset="0.15188" stop-color="#0afff5"/><stop offset="0.15533" stop-color="#00e7ff"/><stop offset="0.15878" stop-color="#00b0ff"/><stop offset="0.16224" stop-color="#0054ff"/><stop offset="0.16569" stop-color="#0001ff"/><stop offset="0.16914" stop-color="#0000da"/><stop offset="0.17259" stop-color="#0000ca"/><stop offset="0.17950" stop-color="#0000bf"/><stop offset="0.18640" stop-color="#0000bc"/><stop offset="0.21401" stop-color="#0000fc"/><stop offset="0.26234" stop-color="#005eff"/><stop offset="0.29341" stop-color="#008aff"/><stop offset="0.30721" stop-color="#0095ff"/><stop offset="0.31412" stop-color="#00a4ff"/><stop offset="0.31757" stop-color="#00b4ff"/><stop offset="0.32102" stop-color="#00cdff"/><stop offset="0.32447" stop-color="#00f4ff"/><stop offset="0.32793" stop-color="#5cffa3"/><stop offset="0.33138" stop-color="#ff4e00"/><stop offset="0.33483" stop-color="#61ff9e"/><stop offset="0.33828" stop-color="#0afff5"/><stop offset="0.34173" stop-color="#00e7ff"/><stop offset="0.34518" stop-color="#00b0ff"/><stop offset="0.34864" stop-color="#0054ff"/><stop offset="0.35209" stop-color="#0001ff"/><stop offset="0.35554" stop-color="#0000da"/><stop offset="0.35899" stop-color="#0000ca"/><stop offset="0.36590" stop-color="#0000bf"/><stop offset="0.37280" stop-color="#0000bc"/><stop offset="0.40041" stop-color="#0000fb"/><stop offset="0.40732" stop-color="#000bff"/><stop offset="0.44874" stop-color="#005aff"/><stop offset="0.47981" stop-color="#0086ff"/><stop offset="0.49707" stop-color="#0095ff"/><stop offset="0.50397" stop-color="#00a4ff"/><stop offset="0.50742" stop-color="#00b4ff"/><stop offset="0.51087" stop-color="#00cdff"/><stop offset="0.51433" stop-color="#00f4ff"/><stop offset="0.51778" stop-color="#5cffa3"/><stop offset="0.52123" stop-color="#ff4e00"/><stop offset="0.52468" stop-color="#61ff9e"/><stop offset="0.52813" stop-color="#0afff5"/><stop offset="0.53158" stop-color="#00e7ff"/><stop offset="0.53504" stop-color="#00b0ff"/><stop offset="0.53849" stop-color="#0054ff"/><stop offset="0.54194" stop-color="#0001ff"/><stop offset="0.54539" stop-color="#0000da"/><stop offset="0.54884" stop-color="#0000ca"/><stop offset="0.55575" stop-color="#0000bf"/><stop offset="0.56265" stop-color="#0000bc"/><stop offset="0.59027" stop-color="#0000fe"/><stop offset="0.63169" stop-color="#0056ff"/><stop offset="0.66275" stop-color="#0085ff"/><stop offset="0.68001" stop-color="#0095ff"/><stop offset="0.68692" stop-color="#00a4ff"/><stop offset="0.69037" stop-color="#00b4ff"/><stop offset="0.69382" stop-color="#00cdff"/><stop offset="0.69727" stop-color="#00f4ff"/><stop offset="0.70072" stop-color="#5cffa3"/><stop offset="0.70418" stop-color="#ff4e00"/><stop offset="0.70763" stop-color="#61ff9e"/><stop offset="0.71108" stop-color="#0afff5"/><stop offset="0.71453" stop-color="#00e7ff"/><stop offset="0.71798" stop-color="#00b0ff"/><stop offset="0.72144" stop-color="#0054ff"/><stop offset="0.72489" stop-color="#0001ff"/><stop offset="0.72834" stop-color="#0000da"/><stop offset="0.73179" stop-color="#0000ca"/><stop offset="0.73870" stop-color="#0000bf"/><stop offset="0.74560" stop-color="#0000bc"/><stop offset="0.77321" stop-color="#0000fb"/><stop offset="0.78012" stop-color="#000bff"/><stop offset="0.82154" stop-color="#005aff"/><stop offset="0.85261" stop-color="#0086ff"/><stop offset="0.86987" stop-color="#0095ff"/><stop offset="0.87677" stop-color="#00a4ff"/><stop offset="0.88022" stop-color="#00b4ff"/><stop offset="0.88367" stop-color="#00cdff"/><stop offset="0.88712" stop-color="#00f4ff"/><stop offset="0.89058" stop-color="#5cffa3"/><stop offset="0.89403" stop-color="#ff4e00"/><stop offset="0.89748" stop-color="#61ff9e"/><stop offset="0.90093" stop-color="#0afff5"/><stop offset="0.90438" stop-color="#00e7ff"/><stop offset="0.90784" stop-color="#00b0ff"/><stop offset="0.91129" stop-color="#0054ff"/><stop offset="0.91474" stop-color="#0001ff"/><stop offset="0.91819" stop-color="#0000da"/><stop offset="0.92164" stop-color="#0000ca"/><stop offset="0.92855" stop-color="#0000bf"/><stop offset="0.93545" stop-color="#0000bc"/><stop offset="0.96307" stop-color="#0000fe"/><stop offset="0.99758" stop-color="#0049ff"/><stop offset="1.00000" stop-color="#004dff"/></linearGradient><linearGradient id="g27"><stop offset="0.00000" stop-color="#00009b"/><stop offset="0.00345" stop-color="#0000ac"/><stop offset="0.01381" stop-color="#0000ef"/><stop offset="0.01726" stop-color="#0000fc"/><stop offset="0.03107" stop-color="#0010ff"/><stop offset="0.07939" stop-color="#0044ff"/><stop offset="0.12772" stop-color="#009cff"/><stop offset="0.13117" stop-color="#00a4ff"/><stop offset="0.13462" stop-color="#00b4ff"/><stop offset="0.13807" stop-color="#00cdff"/><stop offset="0.14153" stop-color="#00f4ff"/><stop offset="0.14498" stop-color="#5cffa3"/><stop offset="0.14843" stop-color="#ff4e00"/><stop offset="0.15188" stop-color="#61ff9e"/><stop offset="0.15533" stop-color="#0afff5"/><stop offset="0.15878" stop-color="#00e7ff"/><stop offset="0.16224" stop-color="#00b0ff"/><stop offset="0.16569" stop-color="#0054ff"/><stop offset="0.16914" stop-color="#0001ff"/><stop offset="0.17259" stop-color="#0000da"/><stop offset="0.17604" stop-color="#0000ca"/><stop offset="0.18295" stop-color="#0000bf"/><stop offset="0.18985" stop-color="#0000bc"/><stop offset="0.21401" stop-color="#0000fa"/><stop offset="0.21747" stop-color="#0003ff"/><stop offset="0.25198" stop-color="#0050ff"/><stop offset="0.27960" stop-color="#007fff"/><stop offset="0.30031" stop-color="#0095ff"/><stop offset="0.30721" stop-color="#00a4ff"/><stop offset="0.31067" stop-color="#00b4ff"/><stop offset="0.31412" stop-color="#00cdff"/><stop offset="0.31757" stop-color="#00f4ff"/><stop offset="0.32102" stop-color="#5cffa3"/><stop offset="0.32447" stop-color="#ff4e00"/><stop offset="0.32793" stop-color="#61ff9e"/><stop offset="0.33138" stop-color="#0afff5"/><stop offset="0.33483" stop-color="#00e7ff"/><stop offset="0.33828" stop-color="#00b0ff"/><stop offset="0.34173" stop-color="#0054ff"/><stop offset="0.34518" stop-color="#0001ff"/><stop offset="0.34864" stop-color="#0000da"/><stop offset="0.35209" stop-color="#0000ca"/><stop offset="0.35899" stop-color="#0000bf"/><stop offset="0.36590" stop-color="#0000bc"/><stop offset="0.39006" stop-color="#0000fa"/><stop offset="0.39351" stop-color="#0003ff"/><stop offset="0.42803" stop-color="#0050ff"/><stop offset="0.45564" stop-color="#007fff"/><stop offset="0.47635" stop-color="#0095ff"/><stop offset="0.48326" stop-color="#00a4ff"/><stop offset="0.48671" stop-color="#00b4ff"/><stop offset="0.49016" stop-color="#00cdff"/><stop offset="0.49361" stop-color="#00f4ff"/><stop offset="0.49707" stop-color="#5cffa3"/><stop offset="0.50052" stop-color="#ff4e00"/><stop offset="0.50397" stop-color="#61ff9e"/><stop offset="0.50742" stop-color="#0afff5"/><stop offset="0.51087" stop-color="#00e7ff"/><stop offset="0.51433" stop-color="#00b0ff"/><stop offset="0.51778" stop-color="#0054ff"/><stop offset="0.52123" stop-color="#0001ff"/><stop offset="0.52468" stop-color="#0000da"/><stop offset="0.52813" stop-color="#0000ca"/><stop offset="0.53504" stop-color="#0000bf"/><stop offset="0.54194" stop-color="#0000bc"/><stop offset="0.57301" stop-color="#0000ff"/><stop offset="0.61788" stop-color="#0054ff"/><stop offset="0.65240" stop-color="#0084ff"/><stop offset="0.67311" stop-color="#0095ff"/><stop offset="0.68001" stop-color="#00a4ff"/><stop offset="0.68347" stop-color="#00b4ff"/><stop offset="0.68692" stop-color="#00cdff"/><stop offset="0.69037" stop-color="#00f4ff"/><stop offset="0.69382" stop-color="#5cffa3"/><stop offset="0.69727" stop-color="#ff4e00"/><stop offset="0.70072" stop-color="#61ff9e"/><stop offset="0.70418" stop-color="#0afff5"/><stop offset="0.70763" stop-color="#00e7ff"/><stop offset="0.71108" stop-color="#00b0ff"/><stop offset="0.71453" stop-color="#0054ff"/><stop offset="0.71798" stop-color="#0001ff"/><stop offset="0.72144" stop-color="#0000da"/><stop offset="0.72489" stop-color="#0000ca"/><stop offset="0.73179" stop-color="#0000bf"/><stop offset="0.73870" stop-color="#0000bc"/><stop offset="0.76631" stop-color="#0001ff"/><stop offset="0.80428" stop-color="#0053ff"/><stop offset="0.83535" stop-color="#0085ff"/><stop offset="0.85261" stop-color="#0095ff"/><stop offset="0.85951" stop-color="#00a4ff"/><stop offset="0.86296" stop-color="#00b4ff"/><stop offset="0.86641" stop-color="#00cdff"/><stop offset="0.86987" stop-color="#00f4ff"/><stop offset="0.87332" stop-color="#5cffa3"/><stop offset="0.87677" stop-color="#ff4e00"/><stop offset="0.88022" stop-color="#61ff9e"/><stop offset="0.88367" stop-color="#0afff5"/><stop offset="0.88712" stop-color="#00e7ff"/><stop offset="0.89058" stop-color="#00b0ff"/><stop offset="0.89403" stop-color="#0054ff"/><stop offset="0.89748" stop-color="#0001ff"/><stop offset="0.90093" stop-color="#0000da"/><stop offset="0.90438" stop-color="#0000ca"/><stop offset="0.91129" stop-color="#0000bf"/><stop offset="0.91819" stop-color="#0000bc"/><stop offset="0.94581" stop-color="#0000fe"/><stop offset="0.98723" stop-color="#0056ff"/><stop offset="1.00000" stop-color="#006bff"/></linearGradient><linearGradient id="g28"><stop offset="0.00000" stop-color="#00009b"/><stop offset="0.00345" stop-color="#0000ac"/><stop offset="0.01381" stop-color="#0000ef"/><stop offset="0.01726" stop-color="#0000fc"/><stop offset="0.03107" stop-color="#0010ff"/><stop offset="0.07939" stop-color="#0044ff"/><stop offset="0.12772" stop-color="#009cff"/><stop offset="0.13117" stop-color="#00a4ff"/><stop offset="0.13462" stop-color="#00b4ff"/><stop offset="0.13807" stop-color="#00cdff"/><stop offset="0.14153" stop-color="#00f4ff"/><stop offset="0.14498" stop-color="#5cffa3"/><stop offset="0.14843" stop-color="#ff4e00"/><stop offset="0.15188" stop-color="#61ff9e"/><stop offset="0.15533" stop-color="#0afff5"/><stop offset="0.15878" stop-color="#00e7ff"/><stop offset="0.16224" stop-color="#00b0ff"/><stop offset="0.16569" stop-color="#0054ff"/><stop offset="0.16914" stop-color="#0001ff"/><stop offset="0.17259" stop-color="#0000da"/><stop offset="0.17604" stop-color="#0000ca"/><stop offset="0.18295" stop-color="#0000bf"/><stop offset="0.18985" stop-color="#0000bc"/><stop offset="0.21401" stop-color="#0000fa"/><stop offset="0.21747" stop-color="#0003ff"/><stop offset="0.25198" stop-color="#0050ff"/><stop offset="0.27960" stop-color="#007fff"/><stop offset="0.30031" stop-color="#0095ff"/><stop offset="0.30721" stop-color="#00a4ff"/><stop offset="0.31067" stop-color="#00b4ff"/><stop offset="0.31412" stop-color="#00cdff"/><stop offset="0.31757" stop-color="#00f4ff"/><stop offset="0.32102" stop-color="#5cffa3"/><stop offset="0.32447" stop-color="#ff4e00"/><stop offset="0.32793" stop-color="#61ff9e"/><stop offset="0.33138" stop-color="#0afff5"/><stop offset="0.33483" stop-color="#00e7ff"/><stop offset="0.33828" stop-color="#00b0ff"/><stop offset="0.34173" stop-color="#0054ff"/><stop offset="0.34518" stop-color="#0001ff"/><stop offset="0.34864" stop-color="#0000da"/><stop offset="0.35209" stop-color="#0000ca"/><stop offset="0.35899" stop-color="#0000bf"/><stop offset="0.36590" stop-color="#0000bc"/><stop offset="0.39006" stop-color="#0000fe"/><stop offset="0.42803" stop-color="#0058ff"/><stop offset="0.45564" stop-color="#0087ff"/><stop offset="0.46945" stop-color="#0095ff"/><stop offset="0.47635" stop-color="#00a4ff"/><stop offset="0.47981" stop-color="#00b4ff"/><stop offset="0.48326" stop-color="#00cdff"/><stop offset="0.48671" stop-color="#00f4ff"/><stop offset="0.49016" stop-color="#5cffa3"/><stop offset="0.49361" stop-color="#ff4e00"/><stop offset="0.49707" stop-color="#61ff9e"/><stop offset="0.50052" stop-color="#0afff5"/><stop offset="0.50397" stop-color="#00e7ff"/><stop offset="0.50742" stop-color="#00b0ff"/><stop offset="0.51087" stop-color="#0054ff"/><stop offset="0.51433" stop-color="#0001ff"/><stop offset="0.51778" stop-color="#0000da"/><stop offset="0.52123" stop-color="#0000ca"/><stop offset="0.52813" stop-color="#0000bf"/><stop offset="0.53504" stop-color="#0000bc"/><stop offset="0.55920" stop-color="#0000fc"/><stop offset="0.56955" stop-color="#0016ff"/><stop offset="0.60407" stop-color="#0061ff"/><stop offset="0.62824" stop-color="#0088ff"/><stop offset="0.64204" stop-color="#0095ff"/><stop offset="0.64895" stop-color="#00a4ff"/><stop offset="0.65240" stop-color="#00b4ff"/><stop offset="0.65585" stop-color="#00cdff"/><stop offset="0.65930" stop-color="#00f4ff"/><stop offset="0.66275" stop-color="#5cffa3"/><stop offset="0.66621" stop-color="#ff4e00"/><stop offset="0.66966" stop-color="#61ff9e"/><stop offset="0.67311" stop-color="#0afff5"/><stop offset="0.67656" stop-color="#00e7ff"/><stop offset="0.68001" stop-color="#00b0ff"/><stop offset="0.68347" stop-color="#0054ff"/><stop offset="0.68692" stop-color="#0001ff"/><stop offset="0.69037" stop-color="#0000da"/><stop offset="0.69382" stop-color="#0000ca"/><stop offset="0.70072" stop-color="#0000bf"/><stop offset="0.70763" stop-color="#0000bc"/><stop offset="0.73524" stop-color="#0000fb"/><stop offset="0.74215" stop-color="#000bff"/><stop offset="0.78357" stop-color="#005aff"/><stop offset="0.81464" stop-color="#0086ff"/><stop offset="0.83190" stop-color="#0095ff"/><stop offset="0.83880" stop-color="#00a4ff"/><stop offset="0.84225" stop-color="#00b4ff"/><stop offset="0.84570" stop-color="#00cdff"/><stop offset="0.84915" stop-color="#00f4ff"/><stop offset="0.85261" stop-color="#5cffa3"/><stop offset="0.85606" stop-color="#ff4e00"/><stop offset="0.85951" stop-color="#61ff9e"/><stop offset="0.86296" stop-color="#0afff5"/><stop offset="0.86641" stop-color="#00e7ff"/><stop offset="0.86987" stop-color="#00b0ff"/><stop offset="0.87332" stop-color="#0054ff"/><stop offset="0.87677" stop-color="#0001ff"/><stop offset="0.88022" stop-color="#0000da"/><stop offset="0.88367" stop-color="#0000ca"/><stop offset="0.89058" stop-color="#0000bf"/><stop offset="0.89748" stop-color="#0000bc"/><stop offset="0.92509" stop-color="#0000fe"/><stop offset="0.96652" stop-color="#0056ff"/><stop offset="0.99758" stop-color="#0085ff"/><stop offset="1.00000" stop-color="#0088ff"/></linearGradient><linearGradient id="g29"><stop offset="0.00000" stop-color="#00009b"/><stop offset="0.00345" stop-color="#0000ac"/><stop offset="0.01381" stop-color="#0000ef"/><stop offset="0.01726" stop-color="#0000fc"/><stop offset="0.03107" stop-color="#0010ff"/><stop offset="0.07939" stop-color="#0044ff"/><stop offset="0.12772" stop-color="#009cff"/><stop offset="0.13117" stop-color="#00a4ff"/><stop offset="0.13462" stop-color="#00b4ff"/><stop offset="0.13807" stop-color="#00cdff"/><stop offset="0.14153" stop-color="#00f4ff"/><stop offset="0.14498" stop-color="#5cffa3"/><stop offset="0.14843" stop-color="#ff4e00"/><stop offset="0.15188" stop-color="#61ff9e"/><stop offset="0.15533" stop-color="#0afff5"/><stop offset="0.15878" stop-color="#00e7ff"/><stop offset="0.16224" stop-color="#00b0ff"/><stop offset="0.16569" stop-color="#0054ff"/><stop offset="0.16914" stop-color="#0001ff"/><stop offset="0.17259" stop-color="#0000da"/><stop offset="0.17604" stop-color="#0000ca"/><stop offset="0.18295" stop-color="#0000bf"/><stop offset="0.18985" stop-color="#0000bc"/><stop offset="0.21747" stop-color="#0000fe"/><stop offset="0.25889" stop-color="#0056ff"/><stop offset="0.28996" stop-color="#0085ff"/><stop offset="0.30721" stop-color="#0095ff"/><stop offset="0.31412" stop-color="#00a4ff"/><stop offset="0.31757" stop-color="#00b4ff"/><stop offset="0.32102" stop-color="#00cdff"/><stop offset="0.32447" stop-color="#00f4ff"/><stop offset="0.32793" stop-color="#5cffa3"/><stop offset="0.33138" stop-color="#ff4e00"/><stop offset="0.33483" stop-color="#61ff9e"/><stop offset="0.33828" stop-color="#0afff5"/><stop offset="0.34173" stop-color="#00e7ff"/><stop offset="0.34518" stop-color="#00b0ff"/><stop offset="0.34864" stop-color="#0054ff"/><stop offset="0.35209" stop-color="#0001ff"/><stop offset="0.35554" stop-color="#0000da"/><stop offset="0.35899" stop-color="#0000ca"/><stop offset="0.36590" stop-color="#0000bf"/><stop offset="0.37280" stop-color="#0000bc"/><stop offset="0.40387" stop-color="#0001ff"/><stop offset="0.44529" stop-color="#0051ff"/><stop offset="0.47981" stop-color="#0083ff"/><stop offset="0.50052" stop-color="#0095ff"/><stop offset="0.50742" stop-color="#00a4ff"/><stop offset="0.51087" stop-color="#00b4ff"/><stop offset="0.51433" stop-color="#00cdff"/><stop offset="0.51778" stop-color="#00f4ff"/><stop offset="0.52123" stop-color="#5cffa3"/><stop offset="0.52468" stop-color="#ff4e00"/><stop offset="0.52813" stop-color="#61ff9e"/><stop offset="0.53158" stop-color="#0afff5"/><stop offset="0.53504" stop-color="#00e7ff"/><stop offset="0.53849" stop-color="#00b0ff"/><stop offset="0.54194" stop-color="#0054ff"/><stop offset="0.54539" stop-color="#0001ff"/><stop offset="0.54884" stop-color="#0000da"/><stop offset="0.55230" stop-color="#0000ca"/><stop offset="0.55920" stop-color="#0000bf"/><stop offset="0.56610" stop-color="#0000bc"/><stop offset="0.59372" stop-color="#0001ff"/><stop offset="0.63169" stop-color="#0053ff"/><stop offset="0.66275" stop-color="#0085ff"/><stop offset="0.68001" stop-color="#0095ff"/><stop offset="0.68692" stop-color="#00a4ff"/><stop offset="0.69037" stop-color="#00b4ff"/><stop offset="0.69382" stop-color="#00cdff"/><stop offset="0.69727" stop-color="#00f4ff"/><stop offset="0.70072" stop-color="#5cffa3"/><stop offset="0.70418" stop-color="#ff4e00"/><stop offset="0.70763" stop-color="#61ff9e"/><stop offset="0.71108" stop-color="#0afff5"/><stop offset="0.71453" stop-color="#00e7ff"/><stop offset="0.71798" stop-color="#00b0ff"/><stop offset="0.72144" stop-color="#0054ff"/><stop offset="0.72489" stop-color="#0001ff"/><stop offset="0.72834" stop-color="#0000da"/><stop offset="0.73179" stop-color="#0000ca"/><stop offset="0.73870" stop-color="#0000bf"/><stop offset="0.74560" stop-color="#0000bc"/><stop offset="0.77321" stop-color="#0000fc"/><stop offset="0.82154" stop-color="#005eff"/><stop offset="0.85261" stop-color="#008aff"/><stop offset="0.86641" stop-color="#0095ff"/><stop offset="0.87332" stop-color="#00a4ff"/><stop offset="0.87677" stop-color="#00b4ff"/><stop offset="0.88022" stop-color="#00cdff"/><stop offset="0.88367" stop-color="#00f4ff"/><stop offset="0.88712" stop-color="#5cffa3"/><stop offset="0.89058" stop-color="#ff4e00"/><stop offset="0.89403" stop-color="#61ff9e"/><stop offset="0.89748" stop-color="#0afff5"/><stop offset="0.90093" stop-color="#00e7ff"/><stop offset="0.90438" stop-color="#00b0ff"/><stop offset="0.90784" stop-color="#0054ff"/><stop offset="0.91129" stop-color="#0001ff"/><stop offset="0.91474" stop-color="#0000da"/><stop offset="0.91819" stop-color="#0000ca"/><stop offset="0.92509" stop-color="#0000bf"/><stop offset="0.93200" stop-color="#0000bc"/><stop offset="0.95961" stop-color="#0000fe"/><stop offset="0.99758" stop-color="#004fff"/><stop offset="1.00000" stop-color="#0053ff"/></linearGradient><linearGradient id="g30"><stop offset="0.00000" stop-color="#00009b"/><stop offset="0.00345" stop-color="#0000ac"/><stop offset="0.01381" stop-color="#0000ef"/><stop offset="0.01726" stop-color="#0000fc"/><stop offset="0.03107" stop-color="#0010ff"/><stop offset="0.07594" stop-color="#003eff"/><stop offset="0.12772" stop-color="#00a4ff"/><stop offset="0.13117" stop-color="#00b4ff"/><stop offset="0.13462" stop-color="#00cdff"/><stop offset="0.13807" stop-color="#00f4ff"/><stop offset="0.14153" stop-color="#5cffa3"/><stop offset="0.14498" stop-color="#ff4e00"/><stop offset="0.14843" stop-color="#61ff9e"/><stop offset="0.15188" stop-color="#0afff5"/><stop offset="0.15533" stop-color="#00e7ff"/><stop offset="0.15878" stop-color="#00b0ff"/><stop offset="0.16224" stop-color="#0054ff"/><stop offset="0.16569" stop-color="#0001ff"/><stop offset="0.16914" stop-color="#0000da"/><stop offset="0.17259" stop-color="#0000ca"/><stop offset="0.17950" stop-color="#0000bf"/><stop offset="0.18640" stop-color="#0000bc"/><stop offset="0.21401" stop-color="#0000fc"/><stop offset="0.26234" stop-color="#005eff"/><stop offset="0.29341" stop-color="#008aff"/><stop offset="0.30721" stop-color="#0095ff"/><stop offset="0.31412" stop-color="#00a4ff"/><stop offset="0.31757" stop-color="#00b4ff"/><stop offset="0.32102" stop-color="#00cdff"/><stop offset="0.32447" stop-color="#00f4ff"/><stop offset="0.32793" stop-color="#5cffa3"/><stop offset="0.33138" stop-color="#ff4e00"/><stop offset="0.33483" stop-color="#61ff9e"/><stop offset="0.33828" stop-color="#0afff5"/><stop offset="0.34173" stop-color="#00e7ff"/><stop offset="0.34518" stop-color="#00b0ff"/><stop offset="0.34864" stop-color="#0054ff"/><stop offset="0.35209" stop-color="#0001ff"/><stop offset="0.35554" stop-color="#0000da"/><stop offset="0.35899" stop-color="#0000ca"/><stop offset="0.36590" stop-color="#0000bf"/><stop offset="0.37280" stop-color="#0000bc"/><stop offset="0.40041" stop-color="#0000fb"/><stop offset="0.40732" stop-color="#000bff"/><stop offset="0.44874" stop-color="#005aff"/><stop offset="0.47981" stop-color="#0086ff"/><stop offset="0.49707" stop-color="#0095ff"/><stop offset="0.50397" stop-color="#00a4ff"/><stop offset="0.50742" stop-color="#00b4ff"/><stop offset="0.51087" stop-color="#00cdff"/><stop offset="0.51433" stop-color="#00f4ff"/><stop offset="0.51778" stop-color="#5cffa3"/><stop offset="0.52123" stop-color="#ff4e00"/><stop offset="0.52468" stop-color="#61ff9e"/><stop offset="0.52813" stop-color="#0afff5"/><stop offset="0.53158" stop-color="#00e7ff"/><stop offset="0.53504" stop-color="#00b0ff"/><stop offset="0.53849" stop-color="#0054ff"/><stop offset="0.54194" stop-color="#0001ff"/><stop offset="0.54539" stop-color="#0000da"/><stop offset="0.54884" stop-color="#0000ca"/><stop offset="0.55575" stop-color="#0000bf"/><stop offset="0.56265" stop-color="#0000bc"/><stop offset="0.59027" stop-color="#0001ff"/><stop offset="0.62824" stop-color="#0053ff"/><stop offset="0.65930" stop-color="#0085ff"/><stop offset="0.67656" stop-color="#0095ff"/><stop offset="0.68347" stop-color="#00a4ff"/><stop offset="0.68692" stop-color="#00b4ff"/><stop offset="0.69037" stop-color="#00cdff"/><stop offset="0.69382" stop-color="#00f4ff"/><stop offset="0.69727" stop-color="#5cffa3"/><stop offset="0.70072" stop-color="#ff4e00"/><stop offset="0.70418" stop-color="#61ff9e"/><stop offset="0.70763" stop-color="#0afff5"/><stop offset="0.71108" stop-color="#00e7ff"/><stop offset="0.71453" stop-color="#00b0ff"/><stop offset="0.71798" stop-color="#0054ff"/><stop offset="0.72144" stop-color="#0001ff"/><stop offset="0.72489" stop-color="#0000da"/><stop offset="0.72834" stop-color="#0000ca"/><stop offset="0.73524" stop-color="#0000bf"/><stop offset="0.74215" stop-color="#0000bc"/><stop offset="0.76976" stop-color="#0000fe"/><stop offset="0.81118" stop-color="#0056ff"/><stop offset="0.84225" stop-color="#0085ff"/><stop offset="0.85951" stop-color="#0095ff"/><stop offset="0.86641" stop-color="#00a4ff"/><stop offset="0.86987" stop-color="#00b4ff"/><stop offset="0.87332" stop-color="#00cdff"/><stop offset="0.87677" stop-color="#00f4ff"/><stop offset="0.88022" stop-color="#5cffa3"/><stop offset="0.88367" stop-color="#ff4e00"/><stop offset="0.88712" stop-color="#61ff9e"/><stop offset="0.89058" stop-color="#0afff5"/><stop offset="0.89403" stop-color="#00e7ff"/><stop offset="0.89748" stop-color="#00b0ff"/><stop offset="0.90093" stop-color="#0054ff"/><stop offset="0.90438" stop-color="#0001ff"/><stop offset="0.90784" stop-color="#0000da"/><stop offset="0.91129" stop-color="#0000ca"/><stop offset="0.91819" stop-color="#0000bf"/><stop offset="0.92509" stop-color="#0000bc"/><stop offset="0.95271" stop-color="#0000fe"/><stop offset="0.99413" stop-color="#0056ff"/><stop offset="1.00000" stop-color="#005fff"/></linearGradient><linearGradient id="g31"><stop offset="0.00000" stop-color="#00009b"/><stop offset="0.00345" stop-color="#0000ac"/><stop offset="0.01381" stop-color="#0000ef"/><stop offset="0.01726" stop-color="#0000fc"/><stop offset="0.03107" stop-color="#0010ff"/><stop offset="0.08630" stop-color="#004bff"/><stop offset="0.14498" stop-color="#009cff"/><stop offset="0.14843" stop-color="#00a4ff"/><stop offset="0.15188" stop-color="#00b4ff"/><stop offset="0.15533" stop-color="#00cdff"/><stop offset="0.15878" stop-color="#00f4ff"/><stop offset="0.16224" stop-color="#5cffa3"/><stop offset="0.16569" stop-color="#ff4e00"/><stop offset="0.16914" stop-color="#61ff9e"/><stop offset="0.17259" stop-color="#0afff5"/><stop offset="0.17604" stop-color="#00e7ff"/><stop offset="0.17950" stop-color="#00b0ff"/><stop offset="0.18295" stop-color="#0054ff"/><stop offset="0.18640" stop-color="#0001ff"/><stop offset="0.18985" stop-color="#0000da"/><stop offset="0.19330" stop-color="#0000ca"/><stop offset="0.20021" stop-color="#0000bf"/><stop offset="0.20711" stop-color="#0000bc"/><stop offset="0.23473" stop-color="#0000fc"/><stop offset="0.28305" stop-color="#005eff"/><stop offset="0.31412" stop-color="#008aff"/><stop offset="0.32793" stop-color="#0095ff"/><stop offset="0.33483" stop-color="#00a4ff"/><stop offset="0.33828" stop-color="#00b4ff"/><stop offset="0.34173" stop-color="#00cdff"/><stop offset="0.34518" stop-color="#00f4ff"/><stop offset="0.34864" stop-color="#5cffa3"/><stop offset="0.35209" stop-color="#ff4e00"/><stop offset="0.35554" stop-color="#61ff9e"/><stop offset="0.35899" stop-color="#0afff5"/><stop offset="0.36244" stop-color="#00e7ff"/><stop offset="0.36590" stop-color="#00b0ff"/><stop offset="0.36935" stop-color="#0054ff"/><stop offset="0.37280" stop-color="#0001ff"/><stop offset="0.37625" stop-color="#0000da"/><stop offset="0.37970" stop-color="#0000ca"/><stop offset="0.38661" stop-color="#0000bf"/><stop offset="0.39351" stop-color="#0000bc"/><stop offset="0.42113" stop-color="#0000fc"/><stop offset="0.46945" stop-color="#005eff"/><stop offset="0.50052" stop-color="#008aff"/><stop offset="0.51433" stop-color="#0095ff"/><stop offset="0.52123" stop-color="#00a4ff"/><stop offset="0.52468" stop-color="#00b4ff"/><stop offset="0.52813" stop-color="#00cdff"/><stop offset="0.53158" stop-color="#00f4ff"/><stop offset="0.53504" stop-color="#5cffa3"/><stop offset="0.53849" stop-color="#ff4e00"/><stop offset="0.54194" stop-color="#61ff9e"/><stop offset="0.54539" stop-color="#0afff5"/><stop offset="0.54884" stop-color="#00e7ff"/><stop offset="0.55230" stop-color="#00b0ff"/><stop offset="0.55575" stop-color="#0054ff"/><stop offset="0.55920" stop-color="#0001ff"/><stop offset="0.56265" stop-color="#0000da"/><stop offset="0.56610" stop-color="#0000ca"/><stop offset="0.57301" stop-color="#0000bf"/><stop offset="0.57991" stop-color="#0000bc"/><stop offset="0.61098" stop-color="#0001ff"/><stop offset="0.65240" stop-color="#0051ff"/><stop offset="0.68692" stop-color="#0083ff"/><stop offset="0.70763" stop-color="#0095ff"/><stop offset="0.71453" stop-color="#00a4ff"/><stop offset="0.71798" stop-color="#00b4ff"/><stop offset="0.72144" stop-color="#00cdff"/><stop offset="0.72489" stop-color="#00f4ff"/><stop offset="0.72834" stop-color="#5cffa3"/><stop offset="0.73179" stop-color="#ff4e00"/><stop offset="0.73524" stop-color="#61ff9e"/><stop offset="0.73870" stop-color="#0afff5"/><stop offset="0.74215" stop-color="#00e7ff"/><stop offset="0.74560" stop-color="#00b0ff"/><stop offset="0.74905" stop-color="#0054ff"/><stop offset="0.75250" stop-color="#0001ff"/><stop offset="0.75595" stop-color="#0000da"/><stop offset="0.75941" stop-color="#0000ca"/><stop offset="0.76631" stop-color="#0000bf"/><stop offset="0.77321" stop-color="#0000bc"/><stop offset="0.80083" stop-color="#0001ff"/><stop offset="0.83880" stop-color="#0053ff"/><stop offset="0.86987" stop-color="#0085ff"/><stop offset="0.88712" stop-color="#0095ff"/><stop offset="0.89403" stop-color="#00a4ff"/><stop offset="0.89748" stop-color="#00b4ff"/><stop offset="0.90093" stop-color="#00cdff"/><stop offset="0.90438" stop-color="#00f4ff"/><stop offset="0.90784" stop-color="#5cffa3"/><stop offset="0.91129" stop-color="#ff4e00"/><stop offset="0.91474" stop-color="#61ff9e"/><stop offset="0.91819" stop-color="#0afff5"/><stop offset="0.92164" stop-color="#00e7ff"/><stop offset="0.92509" stop-color="#00b0ff"/><stop offset="0.92855" stop-color="#0054ff"/><stop offset="0.93200" stop-color="#0001ff"/><stop offset="0.93545" stop-color="#0000da"/><stop offset="0.93890" stop-color="#0000ca"/><stop offset="0.94581" stop-color="#0000bf"/><stop offset="0.95271" stop-color="#0000bc"/><stop offset="0.98032" stop-color="#0000fe"/><stop offset="0.99758" stop-color="#0026ff"/><stop offset="1.00000" stop-color="#002aff"/></linearGradient><linearGradient id="g32"><stop offset="0.00000" stop-color="#00009b"/><stop offset="0.00345" stop-color="#0000ac"/><stop offset="0.01381" stop-color="#0000ef"/><stop offset="0.01726" stop-color="#0000fc"/><stop offset="0.03107" stop-color="#0010ff"/><stop offset="0.07939" stop-color="#0044ff"/><stop offset="0.12772" stop-color="#009cff"/><stop offset="0.13117" stop-color="#00a4ff"/><stop offset="0.13462" stop-color="#00b4ff"/><stop offset="0.13807" stop-color="#00cdff"/><stop offset="0.14153" stop-color="#00f4ff"/><stop offset="0.14498" stop-color="#5cffa3"/><stop offset="0.14843" stop-color="#ff4e00"/><stop offset="0.15188" stop-color="#61ff9e"/><stop offset="0.15533" stop-color="#0afff5"/><stop offset="0.15878" stop-color="#00e7ff"/><stop offset="0.16224" stop-color="#00b0ff"/><stop offset="0.16569" stop-color="#0054ff"/><stop offset="0.16914" stop-color="#0001ff"/><stop offset="0.17259" stop-color="#0000da"/><stop offset="0.17604" stop-color="#0000ca"/><stop offset="0.18295" stop-color="#0000bf"/><stop offset="0.18985" stop-color="#0000bc"/><stop offset="0.21401" stop-color="#0000fa"/><stop offset="0.21747" stop-color="#0003ff"/><stop offset="0.25198" stop-color="#0050ff"/><stop offset="0.27960" stop-color="#007fff"/><stop offset="0.30031" stop-color="#0095ff"/><stop offset="0.30721" stop-color="#00a4ff"/><stop offset="0.31067" stop-color="#00b4ff"/><stop offset="0.31412" stop-color="#00cdff"/><stop offset="0.31757" stop-color="#00f4ff"/><stop offset="0.32102" stop-color="#5cffa3"/><stop offset="0.32447" stop-color="#ff4e00"/><stop offset="0.32793" stop-color="#61ff9e"/><stop offset="0.33138" stop-color="#0afff5"/><stop offset="0.33483" stop-color="#00e7ff"/><stop offset="0.33828" stop-color="#00b0ff"/><stop offset="0.34173" stop-color="#0054ff"/><stop offset="0.34518" stop-color="#0001ff"/><stop offset="0.34864" stop-color="#0000da"/><stop offset="0.35209" stop-color="#0000ca"/><stop offset="0.35899" stop-color="#0000bf"/><stop offset="0.36590" stop-color="#0000bc"/><stop offset="0.39696" stop-color="#0001ff"/><stop offset="0.43838" stop-color="#0051ff"/><stop offset="0.47290" stop-color="#0083ff"/><stop offset="0.49361" stop-color="#0095ff"/><stop offset="0.50052" stop-color="#00a4ff"/><stop offset="0.50397" stop-color="#00b4ff"/><stop offset="0.50742" stop-color="#00cdff"/><stop offset="0.51087" stop-color="#00f4ff"/><stop offset="0.51433" stop-color="#5cffa3"/><stop offset="0.51778" stop-color="#ff4e00"/><stop offset="0.52123" stop-color="#61ff9e"/><stop offset="0.52468" stop-color="#0afff5"/><stop offset="0.52813" stop-color="#00e7ff"/><stop offset="0.53158" stop-color="#00b0ff"/><stop offset="0.53504" stop-color="#0054ff"/><stop offset="0.53849" stop-color="#0001ff"/><stop offset="0.54194" stop-color="#0000da"/><stop offset="0.54539" stop-color="#0000ca"/><stop offset="0.55230" stop-color="#0000bf"/><stop offset="0.55920" stop-color="#0000bc"/><stop offset="0.58336" stop-color="#0000fa"/><stop offset="0.58681" stop-color="#0003ff"/><stop offset="0.62133" stop-color="#0050ff"/><stop offset="0.64895" stop-color="#007fff"/><stop offset="0.66966" stop-color="#0095ff"/><stop offset="0.67656" stop-color="#00a4ff"/><stop offset="0.68001" stop-color="#00b4ff"/><stop offset="0.68347" stop-color="#00cdff"/><stop offset="0.68692" stop-color="#00f4ff"/><stop offset="0.69037" stop-color="#5cffa3"/><stop offset="0.69382" stop-color="#ff4e00"/><stop offset="0.69727" stop-color="#61ff9e"/><stop offset="0.70072" stop-color="#0afff5"/><stop offset="0.70418" stop-color="#00e7ff"/><stop offset="0.70763" stop-color="#00b0ff"/><stop offset="0.71108" stop-color="#0054ff"/><stop offset="0.71453" stop-color="#0001ff"/><stop offset="0.71798" stop-color="#0000da"/><stop offset="0.72144" stop-color="#0000ca"/><stop offset="0.72834" stop-color="#0000bf"/><stop offset="0.73524" stop-color="#0000bc"/><stop offset="0.76286" stop-color="#0000fe"/><stop offset="0.80428" stop-color="#0056ff"/><stop offset="0.83535" stop-color="#0085ff"/><stop offset="0.85261" stop-color="#0095ff"/><stop offset="0.85951" stop-color="#00a4ff"/><stop offset="0.86296" stop-color="#00b4ff"/><stop offset="0.86641" stop-color="#00cdff"/><stop offset="0.86987" stop-color="#00f4ff"/><stop offset="0.87332" stop-color="#5cffa3"/><stop offset="0.87677" stop-color="#ff4e00"/><stop offset="0.88022" stop-color="#61ff9e"/><stop offset="0.88367" stop-color="#0afff5"/><stop offset="0.88712" stop-color="#00e7ff"/><stop offset="0.89058" stop-color="#00b0ff"/><stop offset="0.89403" stop-color="#0054ff"/><stop offset="0.89748" stop-color="#0001ff"/><stop offset="0.90093" stop-color="#0000da"/><stop offset="0.90438" stop-color="#0000ca"/><stop offset="0.91129" stop-color="#0000bf"/><stop offset="0.91819" stop-color="#0000bc"/><stop offset="0.94581" stop-color="#0000fe"/><stop offset="0.98723" stop-color="#0056ff"/><stop offset="1.00000" stop-color="#006bff"/></linearGradient><linearGradient id="g33"><stop offset="0.00000" stop-color="#00009b"/><stop offset="0.00345" stop-color="#0000ac"/><stop offset="0.01381" stop-color="#0000ef"/><stop offset="0.01726" stop-color="#0000fc"/><stop offset="0.03107" stop-color="#0010ff"/><stop offset="0.07594" stop-color="#003eff"/><stop offset="0.12772" stop-color="#00a4ff"/><stop offset="0.13117" stop-color="#00b4ff"/><stop offset="0.13462" stop-color="#00cdff"/><stop offset="0.13807" stop-color="#00f4ff"/><stop offset="0.14153" stop-color="#5cffa3"/><stop offset="0.14498" stop-color="#ff4e00"/><stop offset="0.14843" stop-color="#61ff9e"/><stop offset="0.15188" stop-color="#0afff5"/><stop offset="0.15533" stop-color="#00e7ff"/><stop offset="0.15878" stop-color="#00b0ff"/><stop offset="0.16224" stop-color="#0054ff"/><stop offset="0.16569" stop-color="#0001ff"/><stop offset="0.16914" stop-color="#0000da"/><stop offset="0.17259" stop-color="#0000ca"/><stop offset="0.17950" stop-color="#0000bf"/><stop offset="0.18640" stop-color="#0000bc"/><stop offset="0.21056" stop-color="#0000fe"/><stop offset="0.24853" stop-color="#0058ff"/><stop offset="0.27615" stop-color="#0087ff"/><stop offset="0.28996" stop-color="#0095ff"/><stop offset="0.29686" stop-color="#00a4ff"/><stop offset="0.30031" stop-color="#00b4ff"/><stop offset="0.30376" stop-color="#00cdff"/><stop offset="0.30721" stop-color="#00f4ff"/><stop offset="0.31067" stop-color="#5cffa3"/><stop offset="0.31412" stop-color="#ff4e00"/><stop offset="0.31757" stop-color="#61ff9e"/><stop offset="0.32102" stop-color="#0afff5"/><stop offset="0.32447" stop-color="#00e7ff"/><stop offset="0.32793" stop-color="#00b0ff"/><stop offset="0.33138" stop-color="#0054ff"/><stop offset="0.33483" stop-color="#0001ff"/><stop offset="0.33828" stop-color="#0000da"/><stop offset="0.34173" stop-color="#0000ca"/><stop offset="0.34864" stop-color="#0000bf"/><stop offset="0.35554" stop-color="#0000bc"/><stop offset="0.38315" stop-color="#0000fb"/><stop offset="0.39006" stop-color="#000bff"/><stop offset="0.43148" stop-color="#005aff"/><stop offset="0.46255" stop-color="#0086ff"/><stop offset="0.47981" stop-color="#0095ff"/><stop offset="0.48671" stop-color="#00a4ff"/><stop offset="0.49016" stop-color="#00b4ff"/><stop offset="0.49361" stop-color="#00cdff"/><stop offset="0.49707" stop-color="#00f4ff"/><stop offset="0.50052" stop-color="#5cffa3"/><stop offset="0.50397" stop-color="#ff4e00"/><stop offset="0.50742" stop-color="#61ff9e"/><stop offset="0.51087" stop-color="#0afff5"/><stop offset="0.51433" stop-color="#00e7ff"/><stop offset="0.51778" stop-color="#00b0ff"/><stop offset="0.52123" stop-color="#0054ff"/><stop offset="0.52468" stop-color="#0001ff"/><stop offset="0.52813" stop-color="#0000da"/><stop offset="0.53158" stop-color="#0000ca"/><stop offset="0.53849" stop-color="#0000bf"/><stop offset="0.54539" stop-color="#0000bc"/><stop offset="0.57301" stop-color="#0001ff"/><stop offset="0.61098" stop-color="#0053ff"/><stop offset="0.64204" stop-color="#0085ff"/><stop offset="0.65930" stop-color="#0095ff"/><stop offset="0.66621" stop-color="#00a4ff"/><stop offset="0.66966" stop-color="#00b4ff"/><stop offset="0.67311" stop-color="#00cdff"/><stop offset="0.67656" stop-color="#00f4ff"/><stop offset="0.68001" stop-color="#5cffa3"/><stop offset="0.68347" stop-color="#ff4e00"/><stop offset="0.68692" stop-color="#61ff9e"/><stop offset="0.69037" stop-color="#0afff5"/><stop offset="0.69382" stop-color="#00e7ff"/><stop offset="0.69727" stop-color="#00b0ff"/><stop offset="0.70072" stop-color="#0054ff"/><stop offset="0.70418" stop-color="#0001ff"/><stop offset="0.70763" stop-color="#0000da"/><stop offset="0.71108" stop-color="#0000ca"/><stop offset="0.71798" stop-color="#0000bf"/><stop offset="0.72489" stop-color="#0000bc"/><stop offset="0.75250" stop-color="#0000fe"/><stop offset="0.79392" stop-color="#0056ff"/><stop offset="0.82499" stop-color="#0085ff"/><stop offset="0.84225" stop-color="#0095ff"/><stop offset="0.84915" stop-color="#00a4ff"/><stop offset="0.85261" stop-color="#00b4ff"/><stop offset="0.85606" stop-color="#00cdff"/><stop offset="0.85951" stop-color="#00f4ff"/><stop offset="0.86296" stop-color="#5cffa3"/><stop offset="0.86641" stop-color="#ff4e00"/><stop offset="0.86987" stop-color="#61ff9e"/><stop offset="0.87332" stop-color="#0afff5"/><stop offset="0.87677" stop-color="#00e7ff"/><stop offset="0.88022" stop-color="#00b0ff"/><stop offset="0.88367" stop-color="#0054ff"/><stop offset="0.88712" stop-color="#0001ff"/><stop offset="0.89058" stop-color="#0000da"/><stop offset="0.89403" stop-color="#0000ca"/><stop offset="0.90093" stop-color="#0000bf"/><stop offset="0.90784" stop-color="#0000bc"/><stop offset="0.93545" stop-color="#0000fe"/><stop offset="0.97687" stop-color="#0056ff"/><stop offset="1.00000" stop-color="#007bff"/></linearGradient><linearGradient id="g34"><stop offset="0.00000" stop-color="#00009b"/><stop offset="0.00345" stop-color="#0000ac"/><stop offset="0.01381" stop-color="#0000ef"/><stop offset="0.01726" stop-color="#0000fc"/><stop offset="0.03107" stop-color="#0010ff"/><stop offset="0.07939" stop-color="#0044ff"/><stop offset="0.12772" stop-color="#009cff"/><stop offset="0.13117" stop-color="#00a4ff"/><stop offset="0.13462" stop-color="#00b4ff"/><stop offset="0.13807" stop-color="#00cdff"/><stop offset="0.14153" stop-color="#00f4ff"/><stop offset="0.14498" stop-color="#5cffa3"/><stop offset="0.14843" stop-color="#ff4e00"/><stop offset="0.15188" stop-color="#61ff9e"/><stop offset="0.15533" stop-color="#0afff5"/><stop offset="0.15878" stop-color="#00e7ff"/><stop offset="0.16224" stop-color="#00b0ff"/><stop offset="0.16569" stop-color="#0054ff"/><stop offset="0.16914" stop-color="#0001ff"/><stop offset="0.17259" stop-color="#0000da"/><stop offset="0.17604" stop-color="#0000ca"/><stop offset="0.18295" stop-color="#0000bf"/><stop offset="0.18985" stop-color="#0000bc"/><stop offset="0.21401" stop-color="#0000fc"/><stop offset="0.22437" stop-color="#0016ff"/><stop offset="0.25889" stop-color="#0061ff"/><stop offset="0.28305" stop-color="#0088ff"/><stop offset="0.29686" stop-color="#0095ff"/><stop offset="0.30376" stop-color="#00a4ff"/><stop offset="0.30721" stop-color="#00b4ff"/><stop offset="0.31067" stop-color="#00cdff"/><stop offset="0.31412" stop-color="#00f4ff"/><stop offset="0.31757" stop-color="#5cffa3"/><stop offset="0.32102" stop-color="#ff4e00"/><stop offset="0.32447" stop-color="#61ff9e"/><stop offset="0.32793" stop-color="#0afff5"/><stop offset="0.33138" stop-color="#00e7ff"/><stop offset="0.33483" stop-color="#00b0ff"/><stop offset="0.33828" stop-color="#0054ff"/><stop offset="0.34173" stop-color="#0001ff"/><stop offset="0.34518" stop-color="#0000da"/><stop offset="0.34864" stop-color="#0000ca"/><stop offset="0.35554" stop-color="#0000bf"/><stop offset="0.36244" stop-color="#0000bc"/><stop offset="0.38661" stop-color="#0001ff"/><stop offset="0.41767" stop-color="#004eff"/><stop offset="0.44529" stop-color="#0082ff"/><stop offset="0.46600" stop-color="#009cff"/><stop offset="0.46945" stop-color="#00a4ff"/><stop offset="0.47290" stop-color="#00b4ff"/><stop offset="0.47635" stop-color="#00cdff"/><stop offset="0.47981" stop-color="#00f4ff"/><stop offset="0.48326" stop-color="#5cffa3"/><stop offset="0.48671" stop-color="#ff4e00"/><stop offset="0.49016" stop-color="#61ff9e"/><stop offset="0.49361" stop-color="#0afff5"/><stop offset="0.49707" stop-color="#00e7ff"/><stop offset="0.50052" stop-color="#00b0ff"/><stop offset="0.50397" stop-color="#0054ff"/><stop offset="0.50742" stop-color="#0001ff"/><stop offset="0.51087" stop-color="#0000da"/><stop offset="0.51433" stop-color="#0000ca"/><stop offset="0.52123" stop-color="#0000bf"/><stop offset="0.52813" stop-color="#0000bc"/><stop offset="0.55230" stop-color="#0000fc"/><stop offset="0.56265" stop-color="#0016ff"/><stop offset="0.59717" stop-color="#0061ff"/><stop offset="0.62133" stop-color="#0088ff"/><stop offset="0.63514" stop-color="#0095ff"/><stop offset="0.64204" stop-color="#00a4ff"/><stop offset="0.64550" stop-color="#00b4ff"/><stop offset="0.64895" stop-color="#00cdff"/><stop offset="0.65240" stop-color="#00f4ff"/><stop offset="0.65585" stop-color="#5cffa3"/><stop offset="0.65930" stop-color="#ff4e00"/><stop offset="0.66275" stop-color="#61ff9e"/><stop offset="0.66621" stop-color="#0afff5"/><stop offset="0.66966" stop-color="#00e7ff"/><stop offset="0.67311" stop-color="#00b0ff"/><stop offset="0.67656" stop-color="#0054ff"/><stop offset="0.68001" stop-color="#0001ff"/><stop offset="0.68347" stop-color="#0000da"/><stop offset="0.68692" stop-color="#0000ca"/><stop offset="0.69382" stop-color="#0000bf"/><stop offset="0.70072" stop-color="#0000bc"/><stop offset="0.72489" stop-color="#0000fa"/><stop offset="0.72834" stop-color="#0003ff"/><stop offset="0.76286" stop-color="#0050ff"/><stop offset="0.79047" stop-color="#007fff"/><stop offset="0.81118" stop-color="#0095ff"/><stop offset="0.81809" stop-color="#00a4ff"/><stop offset="0.82154" stop-color="#00b4ff"/><stop offset="0.82499" stop-color="#00cdff"/><stop offset="0.82844" stop-color="#00f4ff"/><stop offset="0.83190" stop-color="#5cffa3"/><stop offset="0.83535" stop-color="#ff4e00"/><stop offset="0.83880" stop-color="#61ff9e"/><stop offset="0.84225" stop-color="#0afff5"/><stop offset="0.84570" stop-color="#00e7ff"/><stop offset="0.84915" stop-color="#00b0ff"/><stop offset="0.85261" stop-color="#0054ff"/><stop offset="0.85606" stop-color="#0001ff"/><stop offset="0.85951" stop-color="#0000da"/><stop offset="0.86296" stop-color="#0000ca"/><stop offset="0.86987" stop-color="#0000bf"/><stop offset="0.87677" stop-color="#0000bc"/><stop offset="0.90438" stop-color="#0000fe"/><stop offset="0.94581" stop-color="#0056ff"/><stop offset="0.97687" stop-color="#0085ff"/><stop offset="0.99413" stop-color="#0094ff"/><stop offset="1.00000" stop-color="#0094ff"/></linearGradient><linearGradient id="g35"><stop offset="0.00000" stop-color="#00009b"/><stop offset="0.00345" stop-color="#0000ac"/><stop offset="0.01381" stop-color="#0000ef"/><stop offset="0.01726" stop-color="#0000fc"/><stop offset="0.03107" stop-color="#0010ff"/><stop offset="0.07594" stop-color="#003eff"/><stop offset="0.12427" stop-color="#00a4ff"/><stop offset="0.12772" stop-color="#00b4ff"/><stop offset="0.13117" stop-color="#00cdff"/><stop offset="0.13462" stop-color="#00f4ff"/><stop offset="0.13807" stop-color="#5cffa3"/><stop offset="0.14153" stop-color="#ff4e00"/><stop offset="0.14498" stop-color="#61ff9e"/><stop offset="0.14843" stop-color="#0afff5"/><stop offset="0.15188" stop-color="#00e7ff"/><stop offset="0.15533" stop-color="#00b0ff"/><stop offset="0.15878" stop-color="#0054ff"/><stop offset="0.16224" stop-color="#0001ff"/><stop offset="0.16569" stop-color="#0000da"/><stop offset="0.16914" stop-color="#0000ca"/><stop offset="0.17604" stop-color="#0000bf"/><stop offset="0.18295" stop-color="#0000bc"/><stop offset="0.20711" stop-color="#0000fe"/><stop offset="0.24508" stop-color="#0058ff"/><stop offset="0.27270" stop-color="#0087ff"/><stop offset="0.28650" stop-color="#0095ff"/><stop offset="0.29341" stop-color="#00a4ff"/><stop offset="0.29686" stop-color="#00b4ff"/><stop offset="0.30031" stop-color="#00cdff"/><stop offset="0.30376" stop-color="#00f4ff"/><stop offset="0.30721" stop-color="#5cffa3"/><stop offset="0.31067" stop-color="#ff4e00"/><stop offset="0.31412" stop-color="#61ff9e"/><stop offset="0.31757" stop-color="#0afff5"/><stop offset="0.32102" stop-color="#00e7ff"/><stop offset="0.32447" stop-color="#00b0ff"/><stop offset="0.32793" stop-color="#0054ff"/><stop offset="0.33138" stop-color="#0001ff"/><stop offset="0.33483" stop-color="#0000da"/><stop offset="0.33828" stop-color="#0000ca"/><stop offset="0.34518" stop-color="#0000bf"/><stop offset="0.35209" stop-color="#0000bc"/><stop offset="0.38315" stop-color="#0001ff"/><stop offset="0.42458" stop-color="#0051ff"/><stop offset="0.45910" stop-color="#0083ff"/><stop offset="0.47981" stop-color="#0095ff"/><stop offset="0.48671" stop-color="#00a4ff"/><stop offset="0.49016" stop-color="#00b4ff"/><stop offset="0.49361" stop-color="#00cdff"/><stop offset="0.49707" stop-color="#00f4ff"/><stop offset="0.50052" stop-color="#5cffa3"/><stop offset="0.50397" stop-color="#ff4e00"/><stop offset="0.50742" stop-color="#61ff9e"/><stop offset="0.51087" stop-color="#0afff5"/><stop offset="0.51433" stop-color="#00e7ff"/><stop offset="0.51778" stop-color="#00b0ff"/><stop offset="0.52123" stop-color="#0054ff"/><stop offset="0.52468" stop-color="#0001ff"/><stop offset="0.52813" stop-color="#0000da"/><stop offset="0.53158" stop-color="#0000ca"/><stop offset="0.53849" stop-color="#0000bf"/><stop offset="0.54539" stop-color="#0000bc"/><stop offset="0.57301" stop-color="#0000fb"/><stop offset="0.57991" stop-color="#000bff"/><stop offset="0.62133" stop-color="#005aff"/><stop offset="0.65240" stop-color="#0086ff"/><stop offset="0.66966" stop-color="#0095ff"/><stop offset="0.67656" stop-color="#00a4ff"/><stop offset="0.68001" stop-color="#00b4ff"/><stop offset="0.68347" stop-color="#00cdff"/><stop offset="0.68692" stop-color="#00f4ff"/><stop offset="0.69037" stop-color="#5cffa3"/><stop offset="0.69382" stop-color="#ff4e00"/><stop offset="0.69727" stop-color="#61ff9e"/><stop offset="0.70072" stop-color="#0afff5"/><stop offset="0.70418" stop-color="#00e7ff"/><stop offset="0.70763" stop-color="#00b0ff"/><stop offset="0.71108" stop-color="#0054ff"/><stop offset="0.71453" stop-color="#0001ff"/><stop offset="0.71798" stop-color="#0000da"/><stop offset="0.72144" stop-color="#0000ca"/><stop offset="0.72834" stop-color="#0000bf"/><stop offset="0.73524" stop-color="#0000bc"/><stop offset="0.75941" stop-color="#0000fa"/><stop offset="0.76286" stop-color="#0003ff"/><stop offset="0.79738" stop-color="#0050ff"/><stop offset="0.82499" stop-color="#007fff"/><stop offset="0.84570" stop-color="#0095ff"/><stop offset="0.85261" stop-color="#00a4ff"/><stop offset="0.85606" stop-color="#00b4ff"/><stop offset="0.85951" stop-color="#00cdff"/><stop offset="0.86296" stop-color="#00f4ff"/><stop offset="0.86641" stop-color="#5cffa3"/><stop offset="0.86987" stop-color="#ff4e00"/><stop offset="0.87332" stop-color="#61ff9e"/><stop offset="0.87677" stop-color="#0afff5"/><stop offset="0.88022" stop-color="#00e7ff"/><stop offset="0.88367" stop-color="#00b0ff"/><stop offset="0.88712" stop-color="#0054ff"/><stop offset="0.89058" stop-color="#0001ff"/><stop offset="0.89403" stop-color="#0000da"/><stop offset="0.89748" stop-color="#0000ca"/><stop offset="0.90438" stop-color="#0000bf"/><stop offset="0.91129" stop-color="#0000bc"/><stop offset="0.93890" stop-color="#0000fe"/><stop offset="0.98032" stop-color="#0056ff"/><stop offset="1.00000" stop-color="#0076ff"/></linearGradient><linearGradient id="g36"><stop offset="0.00000" stop-color="#00009b"/><stop offset="0.00345" stop-color="#0000ac"/><stop offset="0.01381" stop-color="#0000ef"/><stop offset="0.01726" stop-color="#0000fc"/><stop offset="0.03107" stop-color="#0010ff"/><stop offset="0.07594" stop-color="#003eff"/><stop offset="0.12772" stop-color="#00a4ff"/><stop offset="0.13117" stop-color="#00b4ff"/><stop offset="0.13462" stop-color="#00cdff"/><stop offset="0.13807" stop-color="#00f4ff"/><stop offset="0.14153" stop-color="#5cffa3"/><stop offset="0.14498" stop-color="#ff4e00"/><stop offset="0.14843" stop-color="#61ff9e"/><stop offset="0.15188" stop-color="#0afff5"/><stop offset="0.15533" stop-color="#00e7ff"/><stop offset="0.15878" stop-color="#00b0ff"/><stop offset="0.16224" stop-color="#0054ff"/><stop offset="0.16569" stop-color="#0001ff"/><stop offset="0.16914" stop-color="#0000da"/><stop offset="0.17259" stop-color="#0000ca"/><stop offset="0.17950" stop-color="#0000bf"/><stop offset="0.18640" stop-color="#0000bc"/><stop offset="0.21747" stop-color="#0001ff"/><stop offset="0.25889" stop-color="#0051ff"/><stop offset="0.29341" stop-color="#0083ff"/><stop offset="0.31412" stop-color="#0095ff"/><stop offset="0.32102" stop-color="#00a4ff"/><stop offset="0.32447" stop-color="#00b4ff"/><stop offset="0.32793" stop-color="#00cdff"/><stop offset="0.33138" stop-color="#00f4ff"/><stop offset="0.33483" stop-color="#5cffa3"/><stop offset="0.33828" stop-color="#ff4e00"/><stop offset="0.34173" stop-color="#61ff9e"/><stop offset="0.34518" stop-color="#0afff5"/><stop offset="0.34864" stop-color="#00e7ff"/><stop offset="0.35209" stop-color="#00b0ff"/><stop offset="0.35554" stop-color="#0054ff"/><stop offset="0.35899" stop-color="#0001ff"/><stop offset="0.36244" stop-color="#0000da"/><stop offset="0.36590" stop-color="#0000ca"/><stop offset="0.37280" stop-color="#0000bf"/><stop offset="0.37970" stop-color="#0000bc"/><stop offset="0.41077" stop-color="#0001ff"/><stop offset="0.45219" stop-color="#0051ff"/><stop offset="0.48671" stop-color="#0083ff"/><stop offset="0.50742" stop-color="#0095ff"/><stop offset="0.51433" stop-color="#00a4ff"/><stop offset="0.51778" stop-color="#00b4ff"/><stop offset="0.52123" stop-color="#00cdff"/><stop offset="0.52468" stop-color="#00f4ff"/><stop offset="0.52813" stop-color="#5cffa3"/><stop offset="0.53158" stop-color="#ff4e00"/><stop offset="0.53504" stop-color="#61ff9e"/><stop offset="0.53849" stop-color="#0afff5"/><stop offset="0.54194" stop-color="#00e7ff"/><stop offset="0.54539" stop-color="#00b0ff"/><stop offset="0.54884" stop-color="#0054ff"/><stop offset="0.55230" stop-color="#0001ff"/><stop offset="0.55575" stop-color="#0000da"/><stop offset="0.55920" stop-color="#0000ca"/><stop offset="0.56610" stop-color="#0000bf"/><stop offset="0.57301" stop-color="#0000bc"/><stop offset="0.60062" stop-color="#0000fc"/><stop offset="0.64895" stop-color="#005eff"/><stop offset="0.68001" stop-color="#008aff"/><stop offset="0.69382" stop-color="#0095ff"/><stop offset="0.70072" stop-color="#00a4ff"/><stop offset="0.70418" stop-color="#00b4ff"/><stop offset="0.70763" stop-color="#00cdff"/><stop offset="0.71108" stop-color="#00f4ff"/><stop offset="0.71453" stop-color="#5cffa3"/><stop offset="0.71798" stop-color="#ff4e00"/><stop offset="0.72144" stop-color="#61ff9e"/><stop offset="0.72489" stop-color="#0afff5"/><stop offset="0.72834" stop-color="#00e7ff"/><stop offset="0.73179" stop-color="#00b0ff"/><stop offset="0.73524" stop-color="#0054ff"/><stop offset="0.73870" stop-color="#0001ff"/><stop offset="0.74215" stop-color="#0000da"/><stop offset="0.74560" stop-color="#0000ca"/><stop offset="0.75250" stop-color="#0000bf"/><stop offset="0.75941" stop-color="#0000bc"/><stop offset="0.78702" stop-color="#0000fc"/><stop offset="0.83535" stop-color="#005eff"/><stop offset="0.86641" stop-color="#008aff"/><stop offset="0.88022" stop-color="#0095ff"/><stop offset="0.88712" stop-color="#00a4ff"/><stop offset="0.89058" stop-color="#00b4ff"/><stop offset="0.89403" stop-color="#00cdff"/><stop offset="0.89748" stop-color="#00f4ff"/><stop offset="0.90093" stop-color="#5cffa3"/><stop offset="0.90438" stop-color="#ff4e00"/><stop offset="0.90784" stop-color="#61ff9e"/><stop offset="0.91129" stop-color="#0afff5"/><stop offset="0.91474" stop-color="#00e7ff"/><stop offset="0.91819" stop-color="#00b0ff"/><stop offset="0.92164" stop-color="#0054ff"/><stop offset="0.92509" stop-color="#0001ff"/><stop offset="0.92855" stop-color="#0000da"/><stop offset="0.93200" stop-color="#0000ca"/><stop offset="0.93890" stop-color="#0000bf"/><stop offset="0.94581" stop-color="#0000bc"/><stop offset="0.97342" stop-color="#0000fe"/><stop offset="0.99758" stop-color="#0034ff"/><stop offset="1.00000" stop-color="#0038ff"/></linearGradient><linearGradient id="g37"><stop offset="0.00000" stop-color="#00009b"/><stop offset="0.00345" stop-color="#0000ac"/><stop offset="0.01381" stop-color="#0000ef"/><stop offset="0.01726" stop-color="#0000fc"/><stop offset="0.03107" stop-color="#0010ff"/><stop offset="0.07939" stop-color="#0044ff"/><stop offset="0.12772" stop-color="#009cff"/><stop offset="0.13117" stop-color="#00a4ff"/><stop offset="0.13462" stop-color="#00b4ff"/><stop offset="0.13807" stop-color="#00cdff"/><stop offset="0.14153" stop-color="#00f4ff"/><stop offset="0.14498" stop-color="#5cffa3"/><stop offset="0.14843" stop-color="#ff4e00"/><stop offset="0.15188" stop-color="#61ff9e"/><stop offset="0.15533" stop-color="#0afff5"/><stop offset="0.15878" stop-color="#00e7ff"/><stop offset="0.16224" stop-color="#00b0ff"/><stop offset="0.16569" stop-color="#0054ff"/><stop offset="0.16914" stop-color="#0001ff"/><stop offset="0.17259" stop-color="#0000da"/><stop offset="0.17604" stop-color="#0000ca"/><stop offset="0.18295" stop-color="#0000bf"/><stop offset="0.18985" stop-color="#0000bc"/><stop offset="0.21747" stop-color="#0000fe"/><stop offset="0.25889" stop-color="#0056ff"/><stop offset="0.28996" stop-color="#0085ff"/><stop offset="0.30721" stop-color="#0095ff"/><stop offset="0.31412" stop-color="#00a4ff"/><stop offset="0.31757" stop-color="#00b4ff"/><stop offset="0.32102" stop-color="#00cdff"/><stop offset="0.32447" stop-color="#00f4ff"/><stop offset="0.32793" stop-color="#5cffa3"/><stop offset="0.33138" stop-color="#ff4e00"/><stop offset="0.33483" stop-color="#61ff9e"/><stop offset="0.33828" stop-color="#0afff5"/><stop offset="0.34173" stop-color="#00e7ff"/><stop offset="0.34518" stop-color="#00b0ff"/><stop offset="0.34864" stop-color="#0054ff"/><stop offset="0.35209" stop-color="#0001ff"/><stop offset="0.35554" stop-color="#0000da"/><stop offset="0.35899" stop-color="#0000ca"/><stop offset="0.36590" stop-color="#0000bf"/><stop offset="0.37280" stop-color="#0000bc"/><stop offset="0.40041" stop-color="#0000fc"/><stop offset="0.44874" stop-color="#005eff"/><stop offset="0.47981" stop-color="#008aff"/><stop offset="0.49361" stop-color="#0095ff"/><stop offset="0.50052" stop-color="#00a4ff"/><stop offset="0.50397" stop-color="#00b4ff"/><stop offset="0.50742" stop-color="#00cdff"/><stop offset="0.51087" stop-color="#00f4ff"/><stop offset="0.51433" stop-color="#5cffa3"/><stop offset="0.51778" stop-color="#ff4e00"/><stop offset="0.52123" stop-color="#61ff9e"/><stop offset="0.52468" stop-color="#0afff5"/><stop offset="0.52813" stop-color="#00e7ff"/><stop offset="0.53158" stop-color="#00b0ff"/><stop offset="0.53504" stop-color="#0054ff"/><stop offset="0.53849" stop-color="#0001ff"/><stop offset="0.54194" stop-color="#0000da"/><stop offset="0.54539" stop-color="#0000ca"/><stop offset="0.55230" stop-color="#0000bf"/><stop offset="0.55920" stop-color="#0000bc"/><stop offset="0.59027" stop-color="#0001ff"/><stop offset="0.63169" stop-color="#0051ff"/><stop offset="0.66621" stop-color="#0083ff"/><stop offset="0.68692" stop-color="#0095ff"/><stop offset="0.69382" stop-color="#00a4ff"/><stop offset="0.69727" stop-color="#00b4ff"/><stop offset="0.70072" stop-color="#00cdff"/><stop offset="0.70418" stop-color="#00f4ff"/><stop offset="0.70763" stop-color="#5cffa3"/><stop offset="0.71108" stop-color="#ff4e00"/><stop offset="0.71453" stop-color="#61ff9e"/><stop offset="0.71798" stop-color="#0afff5"/><stop offset="0.72144" stop-color="#00e7ff"/><stop offset="0.72489" stop-color="#00b0ff"/><stop offset="0.72834" stop-color="#0054ff"/><stop offset="0.73179" stop-color="#0001ff"/><stop offset="0.73524" stop-color="#0000da"/><stop offset="0.73870" stop-color="#0000ca"/><stop offset="0.74560" stop-color="#0000bf"/><stop offset="0.75250" stop-color="#0000bc"/><stop offset="0.78012" stop-color="#0001ff"/><stop offset="0.81809" stop-color="#0053ff"/><stop offset="0.84915" stop-color="#0085ff"/><stop offset="0.86641" stop-color="#0095ff"/><stop offset="0.87332" stop-color="#00a4ff"/><stop offset="0.87677" stop-color="#00b4ff"/><stop offset="0.88022" stop-color="#00cdff"/><stop offset="0.88367" stop-color="#00f4ff"/><stop offset="0.88712" stop-color="#5cffa3"/><stop offset="0.89058" stop-color="#ff4e00"/><stop offset="0.89403" stop-color="#61ff9e"/><stop offset="0.89748" stop-color="#0afff5"/><stop offset="0.90093" stop-color="#00e7ff"/><stop offset="0.90438" stop-color="#00b0ff"/><stop offset="0.90784" stop-color="#0054ff"/><stop offset="0.91129" stop-color="#0001ff"/><stop offset="0.91474" stop-color="#0000da"/><stop offset="0.91819" stop-color="#0000ca"/><stop offset="0.92509" stop-color="#0000bf"/><stop offset="0.93200" stop-color="#0000bc"/><stop offset="0.95961" stop-color="#0000fe"/><stop offset="0.99758" stop-color="#004fff"/><stop offset="1.00000" stop-color="#0053ff"/></linearGradient><linearGradient id="g38"><stop offset="0.00000" stop-color="#00009b"/><stop offset="0.00345" stop-color="#0000ac"/><stop offset="0.01381" stop-color="#0000ef"/><stop offset="0.01726" stop-color="#0000fc"/><stop offset="0.03107" stop-color="#0010ff"/><stop offset="0.07939" stop-color="#0044ff"/><stop offset="0.12772" stop-color="#009cff"/><stop offset="0.13117" stop-color="#00a4ff"/><stop offset="0.13462" stop-color="#00b4ff"/><stop offset="0.13807" stop-color="#00cdff"/><stop offset="0.14153" stop-color="#00f4ff"/><stop offset="0.14498" stop-color="#5cffa3"/><stop offset="0.14843" stop-color="#ff4e00"/><stop offset="0.15188" stop-color="#61ff9e"/><stop offset="0.15533" stop-color="#0afff5"/><stop offset="0.15878" stop-color="#00e7ff"/><stop offset="0.16224" stop-color="#00b0ff"/><stop offset="0.16569" stop-color="#0054ff"/><stop offset="0.16914" stop-color="#0001ff"/><stop offset="0.17259" stop-color="#0000da"/><stop offset="0.17604" stop-color="#0000ca"/><stop offset="0.18295" stop-color="#0000bf"/><stop offset="0.18985" stop-color="#0000bc"/><stop offset="0.21747" stop-color="#0000fe"/><stop offset="0.25889" stop-color="#0056ff"/><stop offset="0.28996" stop-color="#0085ff"/><stop offset="0.30721" stop-color="#0095ff"/><stop offset="0.31412" stop-color="#00a4ff"/><stop offset="0.31757" stop-color="#00b4ff"/><stop offset="0.32102" stop-color="#00cdff"/><stop offset="0.32447" stop-color="#00f4ff"/><stop offset="0.32793" stop-color="#5cffa3"/><stop offset="0.33138" stop-color="#ff4e00"/><stop offset="0.33483" stop-color="#61ff9e"/><stop offset="0.33828" stop-color="#0afff5"/><stop offset="0.34173" stop-color="#00e7ff"/><stop offset="0.34518" stop-color="#00b0ff"/><stop offset="0.34864" stop-color="#0054ff"/><stop offset="0.35209" stop-color="#0001ff"/><stop offset="0.35554" stop-color="#0000da"/><stop offset="0.35899" stop-color="#0000ca"/><stop offset="0.36590" stop-color="#0000bf"/><stop offset="0.37280" stop-color="#0000bc"/><stop offset="0.39696" stop-color="#0000fc"/><stop offset="0.40732" stop-color="#0016ff"/><stop offset="0.44184" stop-color="#0061ff"/><stop offset="0.46600" stop-color="#0088ff"/><stop offset="0.47981" stop-color="#0095ff"/><stop offset="0.48671" stop-color="#00a4ff"/><stop offset="0.49016" stop-color="#00b4ff"/><stop offset="0.49361" stop-color="#00cdff"/><stop offset="0.49707" stop-color="#00f4ff"/><stop offset="0.50052" stop-color="#5cffa3"/><stop offset="0.50397" stop-color="#ff4e00"/><stop offset="0.50742" stop-color="#61ff9e"/><stop offset="0.51087" stop-color="#0afff5"/><stop offset="0.51433" stop-color="#00e7ff"/><stop offset="0.51778" stop-color="#00b0ff"/><stop offset="0.52123" stop-color="#0054ff"/><stop offset="0.52468" stop-color="#0001ff"/><stop offset="0.52813" stop-color="#0000da"/><stop offset="0.53158" stop-color="#0000ca"/><stop offset="0.53849" stop-color="#0000bf"/><stop offset="0.54539" stop-color="#0000bc"/><stop offset="0.57301" stop-color="#0000fe"/><stop offset="0.61443" stop-color="#0056ff"/><stop offset="0.64550" stop-color="#0085ff"/><stop offset="0.66275" stop-color="#0095ff"/><stop offset="0.66966" stop-color="#00a4ff"/><stop offset="0.67311" stop-color="#00b4ff"/><stop offset="0.67656" stop-color="#00cdff"/><stop offset="0.68001" stop-color="#00f4ff"/><stop offset="0.68347" stop-color="#5cffa3"/><stop offset="0.68692" stop-color="#ff4e00"/><stop offset="0.69037" stop-color="#61ff9e"/><stop offset="0.69382" stop-color="#0afff5"/><stop offset="0.69727" stop-color="#00e7ff"/><stop offset="0.70072" stop-color="#00b0ff"/><stop offset="0.70418" stop-color="#0054ff"/><stop offset="0.70763" stop-color="#0001ff"/><stop offset="0.71108" stop-color="#0000da"/><stop offset="0.71453" stop-color="#0000ca"/><stop offset="0.72144" stop-color="#0000bf"/><stop offset="0.72834" stop-color="#0000bc"/><stop offset="0.75941" stop-color="#0001ff"/><stop offset="0.80083" stop-color="#0051ff"/><stop offset="0.83535" stop-color="#0083ff"/><stop offset="0.85606" stop-color="#0095ff"/><stop offset="0.86296" stop-color="#00a4ff"/><stop offset="0.86641" stop-color="#00b4ff"/><stop offset="0.86987" stop-color="#00cdff"/><stop offset="0.87332" stop-color="#00f4ff"/><stop offset="0.87677" stop-color="#5cffa3"/><stop offset="0.88022" stop-color="#ff4e00"/><stop offset="0.88367" stop-color="#61ff9e"/><stop offset="0.88712" stop-color="#0afff5"/><stop offset="0.89058" stop-color="#00e7ff"/><stop offset="0.89403" stop-color="#00b0ff"/><stop offset="0.89748" stop-color="#0054ff"/><stop offset="0.90093" stop-color="#0001ff"/><stop offset="0.90438" stop-color="#0000da"/><stop offset="0.90784" stop-color="#0000ca"/><stop offset="0.91474" stop-color="#0000bf"/><stop offset="0.92164" stop-color="#0000bc"/><stop offset="0.94926" stop-color="#0000fe"/><stop offset="0.99068" stop-color="#0056ff"/><stop offset="1.00000" stop-color="#0065ff"/></linearGradient><linearGradient id="g39"><stop offset="0.00000" stop-color="#00009b"/><stop offset="0.00345" stop-color="#0000ac"/><stop offset="0.01381" stop-color="#0000ef"/><stop offset="0.01726" stop-color="#0000fc"/><stop offset="0.03107" stop-color="#0010ff"/><stop offset="0.07939" stop-color="#0044ff"/><stop offset="0.12772" stop-color="#009cff"/><stop offset="0.13117" stop-color="#00a4ff"/><stop offset="0.13462" stop-color="#00b4ff"/><stop offset="0.13807" stop-color="#00cdff"/><stop offset="0.14153" stop-color="#00f4ff"/><stop offset="0.14498" stop-color="#5cffa3"/><stop offset="0.14843" stop-color="#ff4e00"/><stop offset="0.15188" stop-color="#61ff9e"/><stop offset="0.15533" stop-color="#0afff5"/><stop offset="0.15878" stop-color="#00e7ff"/><stop offset="0.16224" stop-color="#00b0ff"/><stop offset="0.16569" stop-color="#0054ff"/><stop offset="0.16914" stop-color="#0001ff"/><stop offset="0.17259" stop-color="#0000da"/><stop offset="0.17604" stop-color="#0000ca"/><stop offset="0.18295" stop-color="#0000bf"/><stop offset="0.18985" stop-color="#0000bc"/><stop offset="0.21747" stop-color="#0000fc"/><stop offset="0.26579" stop-color="#005eff"/><stop offset="0.29686" stop-color="#008aff"/><stop offset="0.31067" stop-color="#0095ff"/><stop offset="0.31757" stop-color="#00a4ff"/><stop offset="0.32102" stop-color="#00b4ff"/><stop offset="0.32447" stop-color="#00cdff"/><stop offset="0.32793" stop-color="#00f4ff"/><stop offset="0.33138" stop-color="#5cffa3"/><stop offset="0.33483" stop-color="#ff4e00"/><stop offset="0.33828" stop-color="#61ff9e"/><stop offset="0.34173" stop-color="#0afff5"/><stop offset="0.34518" stop-color="#00e7ff"/><stop offset="0.34864" stop-color="#00b0ff"/><stop offset="0.35209" stop-color="#0054ff"/><stop offset="0.35554" stop-color="#0001ff"/><stop offset="0.35899" stop-color="#0000da"/><stop offset="0.36244" stop-color="#0000ca"/><stop offset="0.36935" stop-color="#0000bf"/><stop offset="0.37625" stop-color="#0000bc"/><stop offset="0.40041" stop-color="#0000fa"/><stop offset="0.40387" stop-color="#0003ff"/><stop offset="0.43838" stop-color="#0050ff"/><stop offset="0.46600" stop-color="#007fff"/><stop offset="0.48671" stop-color="#0095ff"/><stop offset="0.49361" stop-color="#00a4ff"/><stop offset="0.49707" stop-color="#00b4ff"/><stop offset="0.50052" stop-color="#00cdff"/><stop offset="0.50397" stop-color="#00f4ff"/><stop offset="0.50742" stop-color="#5cffa3"/><stop offset="0.51087" stop-color="#ff4e00"/><stop offset="0.51433" stop-color="#61ff9e"/><stop offset="0.51778" stop-color="#0afff5"/><stop offset="0.52123" stop-color="#00e7ff"/><stop offset="0.52468" stop-color="#00b0ff"/><stop offset="0.52813" stop-color="#0054ff"/><stop offset="0.53158" stop-color="#0001ff"/><stop offset="0.53504" stop-color="#0000da"/><stop offset="0.53849" stop-color="#0000ca"/><stop offset="0.54539" stop-color="#0000bf"/><stop offset="0.55230" stop-color="#0000bc"/><stop offset="0.57991" stop-color="#0001ff"/><stop offset="0.61788" stop-color="#0053ff"/><stop offset="0.64895" stop-color="#0085ff"/><stop offset="0.66621" stop-color="#0095ff"/><stop offset="0.67311" stop-color="#00a4ff"/><stop offset="0.67656" stop-color="#00b4ff"/><stop offset="0.68001" stop-color="#00cdff"/><stop offset="0.68347" stop-color="#00f4ff"/><stop offset="0.68692" stop-color="#5cffa3"/><stop offset="0.69037" stop-color="#ff4e00"/><stop offset="0.69382" stop-color="#61ff9e"/><stop offset="0.69727" stop-color="#0afff5"/><stop offset="0.70072" stop-color="#00e7ff"/><stop offset="0.70418" stop-color="#00b0ff"/><stop offset="0.70763" stop-color="#0054ff"/><stop offset="0.71108" stop-color="#0001ff"/><stop offset="0.71453" stop-color="#0000da"/><stop offset="0.71798" stop-color="#0000ca"/><stop offset="0.72489" stop-color="#0000bf"/><stop offset="0.73179" stop-color="#0000bc"/><stop offset="0.75595" stop-color="#0000fa"/><stop offset="0.75941" stop-color="#0003ff"/><stop offset="0.79392" stop-color="#0050ff"/><stop offset="0.82154" stop-color="#007fff"/><stop offset="0.84225" stop-color="#0095ff"/><stop offset="0.84915" stop-color="#00a4ff"/><stop offset="0.85261" stop-color="#00b4ff"/><stop offset="0.85606" stop-color="#00cdff"/><stop offset="0.85951" stop-color="#00f4ff"/><stop offset="0.86296" stop-color="#5cffa3"/><stop offset="0.86641" stop-color="#ff4e00"/><stop offset="0.86987" stop-color="#61ff9e"/><stop offset="0.87332" stop-color="#0afff5"/><stop offset="0.87677" stop-color="#00e7ff"/><stop offset="0.88022" stop-color="#00b0ff"/><stop offset="0.88367" stop-color="#0054ff"/><stop offset="0.88712" stop-color="#0001ff"/><stop offset="0.89058" stop-color="#0000da"/><stop offset="0.89403" stop-color="#0000ca"/><stop offset="0.90093" stop-color="#0000bf"/><stop offset="0.90784" stop-color="#0000bc"/><stop offset="0.93545" stop-color="#0000fe"/><stop offset="0.97687" stop-color="#0056ff"/><stop offset="1.00000" stop-color="#007bff"/></linearGradient><linearGradient id="g40"><stop offset="0.00000" stop-color="#00009b"/><stop offset="0.00345" stop-color="#0000ac"/><stop offset="0.01381" stop-color="#0000ef"/><stop offset="0.01726" stop-color="#0000fc"/><stop offset="0.03107" stop-color="#0010ff"/><stop offset="0.07939" stop-color="#0044ff"/><stop offset="0.12772" stop-color="#009cff"/><stop offset="0.13117" stop-color="#00a4ff"/><stop offset="0.13462" stop-color="#00b4ff"/><stop offset="0.13807" stop-color="#00cdff"/><stop offset="0.14153" stop-color="#00f4ff"/><stop offset="0.14498" stop-color="#5cffa3"/><stop offset="0.14843" stop-color="#ff4e00"/><stop offset="0.15188" stop-color="#61ff9e"/><stop offset="0.15533" stop-color="#0afff5"/><stop offset="0.15878" stop-color="#00e7ff"/><stop offset="0.16224" stop-color="#00b0ff"/><stop offset="0.16569" stop-color="#0054ff"/><stop offset="0.16914" stop-color="#0001ff"/><stop offset="0.17259" stop-color="#0000da"/><stop offset="0.17604" stop-color="#0000ca"/><stop offset="0.18295" stop-color="#0000bf"/><stop offset="0.18985" stop-color="#0000bc"/><stop offset="0.21747" stop-color="#0000fc"/><stop offset="0.26579" stop-color="#005eff"/><stop offset="0.29686" stop-color="#008aff"/><stop offset="0.31067" stop-color="#0095ff"/><stop offset="0.31757" stop-color="#00a4ff"/><stop offset="0.32102" stop-color="#00b4ff"/><stop offset="0.32447" stop-color="#00cdff"/><stop offset="0.32793" stop-color="#00f4ff"/><stop offset="0.33138" stop-color="#5cffa3"/><stop offset="0.33483" stop-color="#ff4e00"/><stop offset="0.33828" stop-color="#61ff9e"/><stop offset="0.34173" stop-color="#0afff5"/><stop offset="0.34518" stop-color="#00e7ff"/><stop offset="0.34864" stop-color="#00b0ff"/><stop offset="0.35209" stop-color="#0054ff"/><stop offset="0.35554" stop-color="#0001ff"/><stop offset="0.35899" stop-color="#0000da"/><stop offset="0.36244" stop-color="#0000ca"/><stop offset="0.36935" stop-color="#0000bf"/><stop offset="0.37625" stop-color="#0000bc"/><stop offset="0.40387" stop-color="#0000fe"/><stop offset="0.44529" stop-color="#0056ff"/><stop offset="0.47635" stop-color="#0085ff"/><stop offset="0.49361" stop-color="#0095ff"/><stop offset="0.50052" stop-color="#00a4ff"/><stop offset="0.50397" stop-color="#00b4ff"/><stop offset="0.50742" stop-color="#00cdff"/><stop offset="0.51087" stop-color="#00f4ff"/><stop offset="0.51433" stop-color="#5cffa3"/><stop offset="0.51778" stop-color="#ff4e00"/><stop offset="0.52123" stop-color="#61ff9e"/><stop offset="0.52468" stop-color="#0afff5"/><stop offset="0.52813" stop-color="#00e7ff"/><stop offset="0.53158" stop-color="#00b0ff"/><stop offset="0.53504" stop-color="#0054ff"/><stop offset="0.53849" stop-color="#0001ff"/><stop offset="0.54194" stop-color="#0000da"/><stop offset="0.54539" stop-color="#0000ca"/><stop offset="0.55230" stop-color="#0000bf"/><stop offset="0.55920" stop-color="#0000bc"/><stop offset="0.59027" stop-color="#0000ff"/><stop offset="0.63514" stop-color="#0054ff"/><stop offset="0.66966" stop-color="#0084ff"/><stop offset="0.69037" stop-color="#0095ff"/><stop offset="0.69727" stop-color="#00a4ff"/><stop offset="0.70072" stop-color="#00b4ff"/><stop offset="0.70418" stop-color="#00cdff"/><stop offset="0.70763" stop-color="#00f4ff"/><stop offset="0.71108" stop-color="#5cffa3"/><stop offset="0.71453" stop-color="#ff4e00"/><stop offset="0.71798" stop-color="#61ff9e"/><stop offset="0.72144" stop-color="#0afff5"/><stop offset="0.72489" stop-color="#00e7ff"/><stop offset="0.72834" stop-color="#00b0ff"/><stop offset="0.73179" stop-color="#0054ff"/><stop offset="0.73524" stop-color="#0001ff"/><stop offset="0.73870" stop-color="#0000da"/><stop offset="0.74215" stop-color="#0000ca"/><stop offset="0.74905" stop-color="#0000bf"/><stop offset="0.75595" stop-color="#0000bc"/><stop offset="0.78012" stop-color="#0000fc"/><stop offset="0.79047" stop-color="#0016ff"/><stop offset="0.82499" stop-color="#0061ff"/><stop offset="0.84915" stop-color="#0088ff"/><stop offset="0.86296" stop-color="#0095ff"/><stop offset="0.86987" stop-color="#00a4ff"/><stop offset="0.87332" stop-color="#00b4ff"/><stop offset="0.87677" stop-color="#00cdff"/><stop offset="0.88022" stop-color="#00f4ff"/><stop offset="0.88367" stop-color="#5cffa3"/><stop offset="0.88712" stop-color="#ff4e00"/><stop offset="0.89058" stop-color="#61ff9e"/><stop offset="0.89403" stop-color="#0afff5"/><stop offset="0.89748" stop-color="#00e7ff"/><stop offset="0.90093" stop-color="#00b0ff"/><stop offset="0.90438" stop-color="#0054ff"/><stop offset="0.90784" stop-color="#0001ff"/><stop offset="0.91129" stop-color="#0000da"/><stop offset="0.91474" stop-color="#0000ca"/><stop offset="0.92164" stop-color="#0000bf"/><stop offset="0.92855" stop-color="#0000bc"/><stop offset="0.95616" stop-color="#0000fe"/><stop offset="0.99758" stop-color="#0056ff"/><stop offset="1.00000" stop-color="#0059ff"/></linearGradient><linearGradient id="g41"><stop offset="0.00000" stop-color="#00009b"/><stop offset="0.00345" stop-color="#0000ac"/><stop offset="0.01381" stop-color="#0000ef"/><stop offset="0.01726" stop-color="#0000fc"/><stop offset="0.03107" stop-color="#0010ff"/><stop offset="0.07939" stop-color="#0044ff"/><stop offset="0.13117" stop-color="#009cff"/><stop offset="0.13462" stop-color="#00a4ff"/><stop offset="0.13807" stop-color="#00b4ff"/><stop offset="0.14153" stop-color="#00cdff"/><stop offset="0.14498" stop-color="#00f4ff"/><stop offset="0.14843" stop-color="#5cffa3"/><stop offset="0.15188" stop-color="#ff4e00"/><stop offset="0.15533" stop-color="#61ff9e"/><stop offset="0.15878" stop-color="#0afff5"/><stop offset="0.16224" stop-color="#00e7ff"/><stop offset="0.16569" stop-color="#00b0ff"/><stop offset="0.16914" stop-color="#0054ff"/><stop offset="0.17259" stop-color="#0001ff"/><stop offset="0.17604" stop-color="#0000da"/><stop offset="0.17950" stop-color="#0000ca"/><stop offset="0.18640" stop-color="#0000bf"/><stop offset="0.19330" stop-color="#0000bc"/><stop offset="0.22437" stop-color="#0001ff"/><stop offset="0.26579" stop-color="#0051ff"/><stop offset="0.30031" stop-color="#0083ff"/><stop offset="0.32102" stop-color="#0095ff"/><stop offset="0.32793" stop-color="#00a4ff"/><stop offset="0.33138" stop-color="#00b4ff"/><stop offset="0.33483" stop-color="#00cdff"/><stop offset="0.33828" stop-color="#00f4ff"/><stop offset="0.34173" stop-color="#5cffa3"/><stop offset="0.34518" stop-color="#ff4e00"/><stop offset="0.34864" stop-color="#61ff9e"/><stop offset="0.35209" stop-color="#0afff5"/><stop offset="0.35554" stop-color="#00e7ff"/><stop offset="0.35899" stop-color="#00b0ff"/><stop offset="0.36244" stop-color="#0054ff"/><stop offset="0.36590" stop-color="#0001ff"/><stop offset="0.36935" stop-color="#0000da"/><stop offset="0.37280" stop-color="#0000ca"/><stop offset="0.37970" stop-color="#0000bf"/><stop offset="0.38661" stop-color="#0000bc"/><stop offset="0.41422" stop-color="#0001ff"/><stop offset="0.45219" stop-color="#0053ff"/><stop offset="0.48326" stop-color="#0085ff"/><stop offset="0.50052" stop-color="#0095ff"/><stop offset="0.50742" stop-color="#00a4ff"/><stop offset="0.51087" stop-color="#00b4ff"/><stop offset="0.51433" stop-color="#00cdff"/><stop offset="0.51778" stop-color="#00f4ff"/><stop offset="0.52123" stop-color="#5cffa3"/><stop offset="0.52468" stop-color="#ff4e00"/><stop offset="0.52813" stop-color="#61ff9e"/><stop offset="0.53158" stop-color="#0afff5"/><stop offset="0.53504" stop-color="#00e7ff"/><stop offset="0.53849" stop-color="#00b0ff"/><stop offset="0.54194" stop-color="#0054ff"/><stop offset="0.54539" stop-color="#0001ff"/><stop offset="0.54884" stop-color="#0000da"/><stop offset="0.55230" stop-color="#0000ca"/><stop offset="0.55920" stop-color="#0000bf"/><stop offset="0.56610" stop-color="#0000bc"/><stop offset="0.59372" stop-color="#0000fc"/><stop offset="0.64204" stop-color="#005eff"/><stop offset="0.67311" stop-color="#008aff"/><stop offset="0.68692" stop-color="#0095ff"/><stop offset="0.69382" stop-color="#00a4ff"/><stop offset="0.69727" stop-color="#00b4ff"/><stop offset="0.70072" stop-color="#00cdff"/><stop offset="0.70418" stop-color="#00f4ff"/><stop offset="0.70763" stop-color="#5cffa3"/><stop offset="0.71108" stop-color="#ff4e00"/><stop offset="0.71453" stop-color="#61ff9e"/><stop offset="0.71798" stop-color="#0afff5"/><stop offset="0.72144" stop-color="#00e7ff"/><stop offset="0.72489" stop-color="#00b0ff"/><stop offset="0.72834" stop-color="#0054ff"/><stop offset="0.73179" stop-color="#0001ff"/><stop offset="0.73524" stop-color="#0000da"/><stop offset="0.73870" stop-color="#0000ca"/><stop offset="0.74560" stop-color="#0000bf"/><stop offset="0.75250" stop-color="#0000bc"/><stop offset="0.78012" stop-color="#0000fe"/><stop offset="0.82154" stop-color="#0056ff"/><stop offset="0.85261" stop-color="#0085ff"/><stop offset="0.86987" stop-color="#0095ff"/><stop offset="0.87677" stop-color="#00a4ff"/><stop offset="0.88022" stop-color="#00b4ff"/><stop offset="0.88367" stop-color="#00cdff"/><stop offset="0.88712" stop-color="#00f4ff"/><stop offset="0.89058" stop-color="#5cffa3"/><stop offset="0.89403" stop-color="#ff4e00"/><stop offset="0.89748" stop-color="#61ff9e"/><stop offset="0.90093" stop-color="#0afff5"/><stop offset="0.90438" stop-color="#00e7ff"/><stop offset="0.90784" stop-color="#00b0ff"/><stop offset="0.91129" stop-color="#0054ff"/><stop offset="0.91474" stop-color="#0001ff"/><stop offset="0.91819" stop-color="#0000da"/><stop offset="0.92164" stop-color="#0000ca"/><stop offset="0.92855" stop-color="#0000bf"/><stop offset="0.93545" stop-color="#0000bc"/><stop offset="0.96307" stop-color="#0000fe"/><stop offset="0.99758" stop-color="#0049ff"/><stop offset="1.00000" stop-color="#004dff"/></linearGradient><linearGradient id="g42"><stop offset="0.00000" stop-color="#00009b"/><stop offset="0.00345" stop-color="#0000ac"/><stop offset="0.01381" stop-color="#0000ef"/><stop offset="0.01726" stop-color="#0000fc"/><stop offset="0.03107" stop-color="#0010ff"/><stop offset="0.07939" stop-color="#0043ff"/><stop offset="0.13462" stop-color="#009cff"/><stop offset="0.13807" stop-color="#00a4ff"/><stop offset="0.14153" stop-color="#00b4ff"/><stop offset="0.14498" stop-color="#00cdff"/><stop offset="0.14843" stop-color="#00f4ff"/><stop offset="0.15188" stop-color="#5cffa3"/><stop offset="0.15533" stop-color="#ff4e00"/><stop offset="0.15878" stop-color="#61ff9e"/><stop offset="0.16224" stop-color="#0afff5"/><stop offset="0.16569" stop-color="#00e7ff"/><stop offset="0.16914" stop-color="#00b0ff"/><stop offset="0.17259" stop-color="#0054ff"/><stop offset="0.17604" stop-color="#0001ff"/><stop offset="0.17950" stop-color="#0000da"/><stop offset="0.18295" stop-color="#0000ca"/><stop offset="0.18985" stop-color="#0000bf"/><stop offset="0.19676" stop-color="#0000bc"/><stop offset="0.22437" stop-color="#0000fe"/><stop offset="0.26579" stop-color="#0056ff"/><stop offset="0.29686" stop-color="#0085ff"/><stop offset="0.31412" stop-color="#0095ff"/><stop offset="0.32102" stop-color="#00a4ff"/><stop offset="0.32447" stop-color="#00b4ff"/><stop offset="0.32793" stop-color="#00cdff"/><stop offset="0.33138" stop-color="#00f4ff"/><stop offset="0.33483" stop-color="#5cffa3"/><stop offset="0.33828" stop-color="#ff4e00"/><stop offset="0.34173" stop-color="#61ff9e"/><stop offset="0.34518" stop-color="#0afff5"/><stop offset="0.34864" stop-color="#00e7ff"/><stop offset="0.35209" stop-color="#00b0ff"/><stop offset="0.35554" stop-color="#0054ff"/><stop offset="0.35899" stop-color="#0001ff"/><stop offset="0.36244" stop-color="#0000da"/><stop offset="0.36590" stop-color="#0000ca"/><stop offset="0.37280" stop-color="#0000bf"/><stop offset="0.37970" stop-color="#0000bc"/><stop offset="0.40732" stop-color="#0000fe"/><stop offset="0.44874" stop-color="#0056ff"/><stop offset="0.47981" stop-color="#0085ff"/><stop offset="0.49707" stop-color="#0095ff"/><stop offset="0.50397" stop-color="#00a4ff"/><stop offset="0.50742" stop-color="#00b4ff"/><stop offset="0.51087" stop-color="#00cdff"/><stop offset="0.51433" stop-color="#00f4ff"/><stop offset="0.51778" stop-color="#5cffa3"/><stop offset="0.52123" stop-color="#ff4e00"/><stop offset="0.52468" stop-color="#61ff9e"/><stop offset="0.52813" stop-color="#0afff5"/><stop offset="0.53158" stop-color="#00e7ff"/><stop offset="0.53504" stop-color="#00b0ff"/><stop offset="0.53849" stop-color="#0054ff"/><stop offset="0.54194" stop-color="#0001ff"/><stop offset="0.54539" stop-color="#0000da"/><stop offset="0.54884" stop-color="#0000ca"/><stop offset="0.55575" stop-color="#0000bf"/><stop offset="0.56265" stop-color="#0000bc"/><stop offset="0.59027" stop-color="#0000fc"/><stop offset="0.63859" stop-color="#005eff"/><stop offset="0.66966" stop-color="#008aff"/><stop offset="0.68347" stop-color="#0095ff"/><stop offset="0.69037" stop-color="#00a4ff"/><stop offset="0.69382" stop-color="#00b4ff"/><stop offset="0.69727" stop-color="#00cdff"/><stop offset="0.70072" stop-color="#00f4ff"/><stop offset="0.70418" stop-color="#5cffa3"/><stop offset="0.70763" stop-color="#ff4e00"/><stop offset="0.71108" stop-color="#61ff9e"/><stop offset="0.71453" stop-color="#0afff5"/><stop offset="0.71798" stop-color="#00e7ff"/><stop offset="0.72144" stop-color="#00b0ff"/><stop offset="0.72489" stop-color="#0054ff"/><stop offset="0.72834" stop-color="#0001ff"/><stop offset="0.73179" stop-color="#0000da"/><stop offset="0.73524" stop-color="#0000ca"/><stop offset="0.74215" stop-color="#0000bf"/><stop offset="0.74905" stop-color="#0000bc"/><stop offset="0.77667" stop-color="#0000fb"/><stop offset="0.78357" stop-color="#000bff"/><stop offset="0.82499" stop-color="#005aff"/><stop offset="0.85606" stop-color="#0086ff"/><stop offset="0.87332" stop-color="#0095ff"/><stop offset="0.88022" stop-color="#00a4ff"/><stop offset="0.88367" stop-color="#00b4ff"/><stop offset="0.88712" stop-color="#00cdff"/><stop offset="0.89058" stop-color="#00f4ff"/><stop offset="0.89403" stop-color="#5cffa3"/><stop offset="0.89748" stop-color="#ff4e00"/><stop offset="0.90093" stop-color="#61ff9e"/><stop offset="0.90438" stop-color="#0afff5"/><stop offset="0.90784" stop-color="#00e7ff"/><stop offset="0.91129" stop-color="#00b0ff"/><stop offset="0.91474" stop-color="#0054ff"/><stop offset="0.91819" stop-color="#0001ff"/><stop offset="0.92164" stop-color="#0000da"/><stop offset="0.92509" stop-color="#0000ca"/><stop offset="0.93200" stop-color="#0000bf"/><stop offset="0.93890" stop-color="#0000bc"/><stop offset="0.96652" stop-color="#0000fe"/><stop offset="0.99758" stop-color="#0042ff"/><stop offset="1.00000" stop-color="#0046ff"/></linearGradient><linearGradient id="g43"><stop offset="0.00000" stop-color="#00009b"/><stop offset="0.00345" stop-color="#0000ac"/><stop offset="0.01381" stop-color="#0000ef"/><stop offset="0.01726" stop-color="#0000fc"/><stop offset="0.03107" stop-color="#0010ff"/><stop offset="0.07939" stop-color="#0044ff"/><stop offset="0.12772" stop-color="#009cff"/><stop offset="0.13117" stop-color="#00a4ff"/><stop offset="0.13462" stop-color="#00b4ff"/><stop offset="0.13807" stop-color="#00cdff"/><stop offset="0.14153" stop-color="#00f4ff"/><stop offset="0.14498" stop-color="#5cffa3"/><stop offset="0.14843" stop-color="#ff4e00"/><stop offset="0.15188" stop-color="#61ff9e"/><stop offset="0.15533" stop-color="#0afff5"/><stop offset="0.15878" stop-color="#00e7ff"/><stop offset="0.16224" stop-color="#00b0ff"/><stop offset="0.16569" stop-color="#0054ff"/><stop offset="0.16914" stop-color="#0001ff"/><stop offset="0.17259" stop-color="#0000da"/><stop offset="0.17604" stop-color="#0000ca"/><stop offset="0.18295" stop-color="#0000bf"/><stop offset="0.18985" stop-color="#0000bc"/><stop offset="0.21747" stop-color="#0000fc"/><stop offset="0.26579" stop-color="#005eff"/><stop offset="0.29686" stop-color="#008aff"/><stop offset="0.31067" stop-color="#0095ff"/><stop offset="0.31757" stop-color="#00a4ff"/><stop offset="0.32102" stop-color="#00b4ff"/><stop offset="0.32447" stop-color="#00cdff"/><stop offset="0.32793" stop-color="#00f4ff"/><stop offset="0.33138" stop-color="#5cffa3"/><stop offset="0.33483" stop-color="#ff4e00"/><stop offset="0.33828" stop-color="#61ff9e"/><stop offset="0.34173" stop-color="#0afff5"/><stop offset="0.34518" stop-color="#00e7ff"/><stop offset="0.34864" stop-color="#00b0ff"/><stop offset="0.35209" stop-color="#0054ff"/><stop offset="0.35554" stop-color="#0001ff"/><stop offset="0.35899" stop-color="#0000da"/><stop offset="0.36244" stop-color="#0000ca"/><stop offset="0.36935" stop-color="#0000bf"/><stop offset="0.37625" stop-color="#0000bc"/><stop offset="0.40387" stop-color="#0001ff"/><stop offset="0.44184" stop-color="#0053ff"/><stop offset="0.47290" stop-color="#0085ff"/><stop offset="0.49016" stop-color="#0095ff"/><stop offset="0.49707" stop-color="#00a4ff"/><stop offset="0.50052" stop-color="#00b4ff"/><stop offset="0.50397" stop-color="#00cdff"/><stop offset="0.50742" stop-color="#00f4ff"/><stop offset="0.51087" stop-color="#5cffa3"/><stop offset="0.51433" stop-color="#ff4e00"/><stop offset="0.51778" stop-color="#61ff9e"/><stop offset="0.52123" stop-color="#0afff5"/><stop offset="0.52468" stop-color="#00e7ff"/><stop offset="0.52813" stop-color="#00b0ff"/><stop offset="0.53158" stop-color="#0054ff"/><stop offset="0.53504" stop-color="#0001ff"/><stop offset="0.53849" stop-color="#0000da"/><stop offset="0.54194" stop-color="#0000ca"/><stop offset="0.54884" stop-color="#0000bf"/><stop offset="0.55575" stop-color="#0000bc"/><stop offset="0.58681" stop-color="#0001ff"/><stop offset="0.62824" stop-color="#0051ff"/><stop offset="0.66275" stop-color="#0083ff"/><stop offset="0.68347" stop-color="#0095ff"/><stop offset="0.69037" stop-color="#00a4ff"/><stop offset="0.69382" stop-color="#00b4ff"/><stop offset="0.69727" stop-color="#00cdff"/><stop offset="0.70072" stop-color="#00f4ff"/><stop offset="0.70418" stop-color="#5cffa3"/><stop offset="0.70763" stop-color="#ff4e00"/><stop offset="0.71108" stop-color="#61ff9e"/><stop offset="0.71453" stop-color="#0afff5"/><stop offset="0.71798" stop-color="#00e7ff"/><stop offset="0.72144" stop-color="#00b0ff"/><stop offset="0.72489" stop-color="#0054ff"/><stop offset="0.72834" stop-color="#0001ff"/><stop offset="0.73179" stop-color="#0000da"/><stop offset="0.73524" stop-color="#0000ca"/><stop offset="0.74215" stop-color="#0000bf"/><stop offset="0.74905" stop-color="#0000bc"/><stop offset="0.77667" stop-color="#0000fb"/><stop offset="0.78357" stop-color="#000bff"/><stop offset="0.82499" stop-color="#005aff"/><stop offset="0.85606" stop-color="#0086ff"/><stop offset="0.87332" stop-color="#0095ff"/><stop offset="0.88022" stop-color="#00a4ff"/><stop offset="0.88367" stop-color="#00b4ff"/><stop offset="0.88712" stop-color="#00cdff"/><stop offset="0.89058" stop-color="#00f4ff"/><stop offset="0.89403" stop-color="#5cffa3"/><stop offset="0.89748" stop-color="#ff4e00"/><stop offset="0.90093" stop-color="#61ff9e"/><stop offset="0.90438" stop-color="#0afff5"/><stop offset="0.90784" stop-color="#00e7ff"/><stop offset="0.91129" stop-color="#00b0ff"/><stop offset="0.91474" stop-color="#0054ff"/><stop offset="0.91819" stop-color="#0001ff"/><stop offset="0.92164" stop-color="#0000da"/><stop offset="0.92509" stop-color="#0000ca"/><stop offset="0.93200" stop-color="#0000bf"/><stop offset="0.93890" stop-color="#0000bc"/><stop offset="0.96652" stop-color="#0000fe"/><stop offset="0.99758" stop-color="#0042ff"/><stop offset="1.00000" stop-color="#0046ff"/></linearGradient><linearGradient id="g44"><stop offset="0.00000" stop-color="#00009b"/><stop offset="0.00345" stop-color="#0000ac"/><stop offset="0.01381" stop-color="#0000ef"/><stop offset="0.01726" stop-color="#0000fc"/><stop offset="0.03107" stop-color="#0010ff"/><stop offset="0.07939" stop-color="#0044ff"/><stop offset="0.12772" stop-color="#009cff"/><stop offset="0.13117" stop-color="#00a4ff"/><stop offset="0.13462" stop-color="#00b4ff"/><stop offset="0.13807" stop-color="#00cdff"/><stop offset="0.14153" stop-color="#00f4ff"/><stop offset="0.14498" stop-color="#5cffa3"/><stop offset="0.14843" stop-color="#ff4e00"/><stop offset="0.15188" stop-color="#61ff9e"/><stop offset="0.15533" stop-color="#0afff5"/><stop offset="0.15878" stop-color="#00e7ff"/><stop offset="0.16224" stop-color="#00b0ff"/><stop offset="0.16569" stop-color="#0054ff"/><stop offset="0.16914" stop-color="#0001ff"/><stop offset="0.17259" stop-color="#0000da"/><stop offset="0.17604" stop-color="#0000ca"/><stop offset="0.18295" stop-color="#0000bf"/><stop offset="0.18985" stop-color="#0000bc"/><stop offset="0.21747" stop-color="#0000fb"/><stop offset="0.22437" stop-color="#000bff"/><stop offset="0.26579" stop-color="#005aff"/><stop offset="0.29686" stop-color="#0086ff"/><stop offset="0.31412" stop-color="#0095ff"/><stop offset="0.32102" stop-color="#00a4ff"/><stop offset="0.32447" stop-color="#00b4ff"/><stop offset="0.32793" stop-color="#00cdff"/><stop offset="0.33138" stop-color="#00f4ff"/><stop offset="0.33483" stop-color="#5cffa3"/><stop offset="0.33828" stop-color="#ff4e00"/><stop offset="0.34173" stop-color="#61ff9e"/><stop offset="0.34518" stop-color="#0afff5"/><stop offset="0.34864" stop-color="#00e7ff"/><stop offset="0.35209" stop-color="#00b0ff"/><stop offset="0.35554" stop-color="#0054ff"/><stop offset="0.35899" stop-color="#0001ff"/><stop offset="0.36244" stop-color="#0000da"/><stop offset="0.36590" stop-color="#0000ca"/><stop offset="0.37280" stop-color="#0000bf"/><stop offset="0.37970" stop-color="#0000bc"/><stop offset="0.40732" stop-color="#0000fe"/><stop offset="0.44874" stop-color="#0056ff"/><stop offset="0.47981" stop-color="#0085ff"/><stop offset="0.49707" stop-color="#0095ff"/><stop offset="0.50397" stop-color="#00a4ff"/><stop offset="0.50742" stop-color="#00b4ff"/><stop offset="0.51087" stop-color="#00cdff"/><stop offset="0.51433" stop-color="#00f4ff"/><stop offset="0.51778" stop-color="#5cffa3"/><stop offset="0.52123" stop-color="#ff4e00"/><stop offset="0.52468" stop-color="#61ff9e"/><stop offset="0.52813" stop-color="#0afff5"/><stop offset="0.53158" stop-color="#00e7ff"/><stop offset="0.53504" stop-color="#00b0ff"/><stop offset="0.53849" stop-color="#0054ff"/><stop offset="0.54194" stop-color="#0001ff"/><stop offset="0.54539" stop-color="#0000da"/><stop offset="0.54884" stop-color="#0000ca"/><stop offset="0.55575" stop-color="#0000bf"/><stop offset="0.56265" stop-color="#0000bc"/><stop offset="0.59027" stop-color="#0000fe"/><stop offset="0.63169" stop-color="#0056ff"/><stop offset="0.66275" stop-color="#0085ff"/><stop offset="0.68001" stop-color="#0095ff"/><stop offset="0.68692" stop-color="#00a4ff"/><stop offset="0.69037" stop-color="#00b4ff"/><stop offset="0.69382" stop-color="#00cdff"/><stop offset="0.69727" stop-color="#00f4ff"/><stop offset="0.70072" stop-color="#5cffa3"/><stop offset="0.70418" stop-color="#ff4e00"/><stop offset="0.70763" stop-color="#61ff9e"/><stop offset="0.71108" stop-color="#0afff5"/><stop offset="0.71453" stop-color="#00e7ff"/><stop offset="0.71798" stop-color="#00b0ff"/><stop offset="0.72144" stop-color="#0054ff"/><stop offset="0.72489" stop-color="#0001ff"/><stop offset="0.72834" stop-color="#0000da"/><stop offset="0.73179" stop-color="#0000ca"/><stop offset="0.73870" stop-color="#0000bf"/><stop offset="0.74560" stop-color="#0000bc"/><stop offset="0.77321" stop-color="#0000fb"/><stop offset="0.78012" stop-color="#000bff"/><stop offset="0.82154" stop-color="#005aff"/><stop offset="0.85261" stop-color="#0086ff"/><stop offset="0.86987" stop-color="#0095ff"/><stop offset="0.87677" stop-color="#00a4ff"/><stop offset="0.88022" stop-color="#00b4ff"/><stop offset="0.88367" stop-color="#00cdff"/><stop offset="0.88712" stop-color="#00f4ff"/><stop offset="0.89058" stop-color="#5cffa3"/><stop offset="0.89403" stop-color="#ff4e00"/><stop offset="0.89748" stop-color="#61ff9e"/><stop offset="0.90093" stop-color="#0afff5"/><stop offset="0.90438" stop-color="#00e7ff"/><stop offset="0.90784" stop-color="#00b0ff"/><stop offset="0.91129" stop-color="#0054ff"/><stop offset="0.91474" stop-color="#0001ff"/><stop offset="0.91819" stop-color="#0000da"/><stop offset="0.92164" stop-color="#0000ca"/><stop offset="0.92855" stop-color="#0000bf"/><stop offset="0.93545" stop-color="#0000bc"/><stop offset="0.96307" stop-color="#0000fe"/><stop offset="0.99758" stop-color="#0049ff"/><stop offset="1.00000" stop-color="#004dff"/></linearGradient><linearGradient id="g45"><stop offset="0.00000" stop-color="#00009b"/><stop offset="0.00345" stop-color="#0000ac"/><stop offset="0.01381" stop-color="#0000ef"/><stop offset="0.01726" stop-color="#0000fc"/><stop offset="0.03107" stop-color="#0010ff"/><stop offset="0.07939" stop-color="#0044ff"/><stop offset="0.12772" stop-color="#009cff"/><stop offset="0.13117" stop-color="#00a4ff"/><stop offset="0.13462" stop-color="#00b4ff"/><stop offset="0.13807" stop-color="#00cdff"/><stop offset="0.14153" stop-color="#00f4ff"/><stop offset="0.14498" stop-color="#5cffa3"/><stop offset="0.14843" stop-color="#ff4e00"/><stop offset="0.15188" stop-color="#61ff9e"/><stop offset="0.15533" stop-color="#0afff5"/><stop offset="0.15878" stop-color="#00e7ff"/><stop offset="0.16224" stop-color="#00b0ff"/><stop offset="0.16569" stop-color="#0054ff"/><stop offset="0.16914" stop-color="#0001ff"/><stop offset="0.17259" stop-color="#0000da"/><stop offset="0.17604" stop-color="#0000ca"/><stop offset="0.18295" stop-color="#0000bf"/><stop offset="0.18985" stop-color="#0000bc"/><stop offset="0.21747" stop-color="#0000fc"/><stop offset="0.26579" stop-color="#005eff"/><stop offset="0.29686" stop-color="#008aff"/><stop offset="0.31067" stop-color="#0095ff"/><stop offset="0.31757" stop-color="#00a4ff"/><stop offset="0.32102" stop-color="#00b4ff"/><stop offset="0.32447" stop-color="#00cdff"/><stop offset="0.32793" stop-color="#00f4ff"/><stop offset="0.33138" stop-color="#5cffa3"/><stop offset="0.33483" stop-color="#ff4e00"/><stop offset="0.33828" stop-color="#61ff9e"/><stop offset="0.34173" stop-color="#0afff5"/><stop offset="0.34518" stop-color="#00e7ff"/><stop offset="0.34864" stop-color="#00b0ff"/><stop offset="0.35209" stop-color="#0054ff"/><stop offset="0.35554" stop-color="#0001ff"/><stop offset="0.35899" stop-color="#0000da"/><stop offset="0.36244" stop-color="#0000ca"/><stop offset="0.36935" stop-color="#0000bf"/><stop offset="0.37625" stop-color="#0000bc"/><stop offset="0.40732" stop-color="#0000fd"/><stop offset="0.45910" stop-color="#005bff"/><stop offset="0.49361" stop-color="#0088ff"/><stop offset="0.51087" stop-color="#0095ff"/><stop offset="0.51778" stop-color="#00a4ff"/><stop offset="0.52123" stop-color="#00b4ff"/><stop offset="0.52468" stop-color="#00cdff"/><stop offset="0.52813" stop-color="#00f4ff"/><stop offset="0.53158" stop-color="#5cffa3"/><stop offset="0.53504" stop-color="#ff4e00"/><stop offset="0.53849" stop-color="#61ff9e"/><stop offset="0.54194" stop-color="#0afff5"/><stop offset="0.54539" stop-color="#00e7ff"/><stop offset="0.54884" stop-color="#00b0ff"/><stop offset="0.55230" stop-color="#0054ff"/><stop offset="0.55575" stop-color="#0001ff"/><stop offset="0.55920" stop-color="#0000da"/><stop offset="0.56265" stop-color="#0000ca"/><stop offset="0.56955" stop-color="#0000bf"/><stop offset="0.57646" stop-color="#0000bc"/><stop offset="0.60407" stop-color="#0000fc"/><stop offset="0.65240" stop-color="#005eff"/><stop offset="0.68347" stop-color="#008aff"/><stop offset="0.69727" stop-color="#0095ff"/><stop offset="0.70418" stop-color="#00a4ff"/><stop offset="0.70763" stop-color="#00b4ff"/><stop offset="0.71108" stop-color="#00cdff"/><stop offset="0.71453" stop-color="#00f4ff"/><stop offset="0.71798" stop-color="#5cffa3"/><stop offset="0.72144" stop-color="#ff4e00"/><stop offset="0.72489" stop-color="#61ff9e"/><stop offset="0.72834" stop-color="#0afff5"/><stop offset="0.73179" stop-color="#00e7ff"/><stop offset="0.73524" stop-color="#00b0ff"/><stop offset="0.73870" stop-color="#0054ff"/><stop offset="0.74215" stop-color="#0001ff"/><stop offset="0.74560" stop-color="#0000da"/><stop offset="0.74905" stop-color="#0000ca"/><stop offset="0.75595" stop-color="#0000bf"/><stop offset="0.76286" stop-color="#0000bc"/><stop offset="0.79047" stop-color="#0001ff"/><stop offset="0.82844" stop-color="#0053ff"/><stop offset="0.85951" stop-color="#0085ff"/><stop offset="0.87677" stop-color="#0095ff"/><stop offset="0.88367" stop-color="#00a4ff"/><stop offset="0.88712" stop-color="#00b4ff"/><stop offset="0.89058" stop-color="#00cdff"/><stop offset="0.89403" stop-color="#00f4ff"/><stop offset="0.89748" stop-color="#5cffa3"/><stop offset="0.90093" stop-color="#ff4e00"/><stop offset="0.90438" stop-color="#61ff9e"/><stop offset="0.90784" stop-color="#0afff5"/><stop offset="0.91129" stop-color="#00e7ff"/><stop offset="0.91474" stop-color="#00b0ff"/><stop offset="0.91819" stop-color="#0054ff"/><stop offset="0.92164" stop-color="#0001ff"/><stop offset="0.92509" stop-color="#0000da"/><stop offset="0.92855" stop-color="#0000ca"/><stop offset="0.93545" stop-color="#0000bf"/><stop offset="0.94235" stop-color="#0000bc"/><stop offset="0.96997" stop-color="#0000fe"/><stop offset="0.99758" stop-color="#003bff"/><stop offset="1.00000" stop-color="#003fff"/></linearGradient><linearGradient id="g46"><stop offset="0.00000" stop-color="#00009b"/><stop offset="0.00345" stop-color="#0000ac"/><stop offset="0.01381" stop-color="#0000ef"/><stop offset="0.01726" stop-color="#0000fc"/><stop offset="0.03107" stop-color="#0010ff"/><stop offset="0.07939" stop-color="#0043ff"/><stop offset="0.13807" stop-color="#009cff"/><stop offset="0.14153" stop-color="#00a4ff"/><stop offset="0.14498" stop-color="#00b4ff"/><stop offset="0.14843" stop-color="#00cdff"/><stop offset="0.15188" stop-color="#00f4ff"/><stop offset="0.15533" stop-color="#5cffa3"/><stop offset="0.15878" stop-color="#ff4e00"/><stop offset="0.16224" stop-color="#61ff9e"/><stop offset="0.16569" stop-color="#0afff5"/><stop offset="0.16914" stop-color="#00e7ff"/><stop offset="0.17259" stop-color="#00b0ff"/><stop offset="0.17604" stop-color="#0054ff"/><stop offset="0.17950" stop-color="#0001ff"/><stop offset="0.18295" stop-color="#0000da"/><stop offset="0.18640" stop-color="#0000ca"/><stop offset="0.19330" stop-color="#0000bf"/><stop offset="0.20021" stop-color="#0000bc"/><stop offset="0.22782" stop-color="#0000fc"/><stop offset="0.27615" stop-color="#005eff"/><stop offset="0.30721" stop-color="#008aff"/><stop offset="0.32102" stop-color="#0095ff"/><stop offset="0.32793" stop-color="#00a4ff"/><stop offset="0.33138" stop-color="#00b4ff"/><stop offset="0.33483" stop-color="#00cdff"/><stop offset="0.33828" stop-color="#00f4ff"/><stop offset="0.34173" stop-color="#5cffa3"/><stop offset="0.34518" stop-color="#ff4e00"/><stop offset="0.34864" stop-color="#61ff9e"/><stop offset="0.35209" stop-color="#0afff5"/><stop offset="0.35554" stop-color="#00e7ff"/><stop offset="0.35899" stop-color="#00b0ff"/><stop offset="0.36244" stop-color="#0054ff"/><stop offset="0.36590" stop-color="#0001ff"/><stop offset="0.36935" stop-color="#0000da"/><stop offset="0.37280" stop-color="#0000ca"/><stop offset="0.37970" stop-color="#0000bf"/><stop offset="0.38661" stop-color="#0000bc"/><stop offset="0.41767" stop-color="#0001ff"/><stop offset="0.45910" stop-color="#0051ff"/><stop offset="0.49361" stop-color="#0083ff"/><stop offset="0.51433" stop-color="#0095ff"/><stop offset="0.52123" stop-color="#00a4ff"/><stop offset="0.52468" stop-color="#00b4ff"/><stop offset="0.52813" stop-color="#00cdff"/><stop offset="0.53158" stop-color="#00f4ff"/><stop offset="0.53504" stop-color="#5cffa3"/><stop offset="0.53849" stop-color="#ff4e00"/><stop offset="0.54194" stop-color="#61ff9e"/><stop offset="0.54539" stop-color="#0afff5"/><stop offset="0.54884" stop-color="#00e7ff"/><stop offset="0.55230" stop-color="#00b0ff"/><stop offset="0.55575" stop-color="#0054ff"/><stop offset="0.55920" stop-color="#0001ff"/><stop offset="0.56265" stop-color="#0000da"/><stop offset="0.56610" stop-color="#0000ca"/><stop offset="0.57301" stop-color="#0000bf"/><stop offset="0.57991" stop-color="#0000bc"/><stop offset="0.60753" stop-color="#0000fe"/><stop offset="0.64895" stop-color="#0056ff"/><stop offset="0.68001" stop-color="#0085ff"/><stop offset="0.69727" stop-color="#0095ff"/><stop offset="0.70418" stop-color="#00a4ff"/><stop offset="0.70763" stop-color="#00b4ff"/><stop offset="0.71108" stop-color="#00cdff"/><stop offset="0.71453" stop-color="#00f4ff"/><stop offset="0.71798" stop-color="#5cffa3"/><stop offset="0.72144" stop-color="#ff4e00"/><stop offset="0.72489" stop-color="#61ff9e"/><stop offset="0.72834" stop-color="#0afff5"/><stop offset="0.73179" stop-color="#00e7ff"/><stop offset="0.73524" stop-color="#00b0ff"/><stop offset="0.73870" stop-color="#0054ff"/><stop offset="0.74215" stop-color="#0001ff"/><stop offset="0.74560" stop-color="#0000da"/><stop offset="0.74905" stop-color="#0000ca"/><stop offset="0.75595" stop-color="#0000bf"/><stop offset="0.76286" stop-color="#0000bc"/><stop offset="0.79047" stop-color="#0000fe"/><stop offset="0.83190" stop-color="#0056ff"/><stop offset="0.86296" stop-color="#0085ff"/><stop offset="0.88022" stop-color="#0095ff"/><stop offset="0.88712" stop-color="#00a4ff"/><stop offset="0.89058" stop-color="#00b4ff"/><stop offset="0.89403" stop-color="#00cdff"/><stop offset="0.89748" stop-color="#00f4ff"/><stop offset="0.90093" stop-color="#5cffa3"/><stop offset="0.90438" stop-color="#ff4e00"/><stop offset="0.90784" stop-color="#61ff9e"/><stop offset="0.91129" stop-color="#0afff5"/><stop offset="0.91474" stop-color="#00e7ff"/><stop offset="0.91819" stop-color="#00b0ff"/><stop offset="0.92164" stop-color="#0054ff"/><stop offset="0.92509" stop-color="#0001ff"/><stop offset="0.92855" stop-color="#0000da"/><stop offset="0.93200" stop-color="#0000ca"/><stop offset="0.93890" stop-color="#0000bf"/><stop offset="0.94581" stop-color="#0000bc"/><stop offset="0.97342" stop-color="#0000fe"/><stop offset="0.99758" stop-color="#0034ff"/><stop offset="1.00000" stop-color="#0038ff"/></linearGradient><linearGradient id="g47"><stop offset="0.00000" stop-color="#00009b"/><stop offset="0.00345" stop-color="#0000ac"/><stop offset="0.01381" stop-color="#0000ef"/><stop offset="0.01726" stop-color="#0000fc"/><stop offset="0.03107" stop-color="#0010ff"/><stop offset="0.07939" stop-color="#0044ff"/><stop offset="0.12772" stop-color="#009cff"/><stop offset="0.13117" stop-color="#00a4ff"/><stop offset="0.13462" stop-color="#00b4ff"/><stop offset="0.13807" stop-color="#00cdff"/><stop offset="0.14153" stop-color="#00f4ff"/><stop offset="0.14498" stop-color="#5cffa3"/><stop offset="0.14843" stop-color="#ff4e00"/><stop offset="0.15188" stop-color="#61ff9e"/><stop offset="0.15533" stop-color="#0afff5"/><stop offset="0.15878" stop-color="#00e7ff"/><stop offset="0.16224" stop-color="#00b0ff"/><stop offset="0.16569" stop-color="#0054ff"/><stop offset="0.16914" stop-color="#0001ff"/><stop offset="0.17259" stop-color="#0000da"/><stop offset="0.17604" stop-color="#0000ca"/><stop offset="0.18295" stop-color="#0000bf"/><stop offset="0.18985" stop-color="#0000bc"/><stop offset="0.21747" stop-color="#0000fe"/><stop offset="0.25889" stop-color="#0056ff"/><stop offset="0.28996" stop-color="#0085ff"/><stop offset="0.30721" stop-color="#0095ff"/><stop offset="0.31412" stop-color="#00a4ff"/><stop offset="0.31757" stop-color="#00b4ff"/><stop offset="0.32102" stop-color="#00cdff"/><stop offset="0.32447" stop-color="#00f4ff"/><stop offset="0.32793" stop-color="#5cffa3"/><stop offset="0.33138" stop-color="#ff4e00"/><stop offset="0.33483" stop-color="#61ff9e"/><stop offset="0.33828" stop-color="#0afff5"/><stop offset="0.34173" stop-color="#00e7ff"/><stop offset="0.34518" stop-color="#00b0ff"/><stop offset="0.34864" stop-color="#0054ff"/><stop offset="0.35209" stop-color="#0001ff"/><stop offset="0.35554" stop-color="#0000da"/><stop offset="0.35899" stop-color="#0000ca"/><stop offset="0.36590" stop-color="#0000bf"/><stop offset="0.37280" stop-color="#0000bc"/><stop offset="0.40041" stop-color="#0000fc"/><stop offset="0.44874" stop-color="#005eff"/><stop offset="0.47981" stop-color="#008aff"/><stop offset="0.49361" stop-color="#0095ff"/><stop offset="0.50052" stop-color="#00a4ff"/><stop offset="0.50397" stop-color="#00b4ff"/><stop offset="0.50742" stop-color="#00cdff"/><stop offset="0.51087" stop-color="#00f4ff"/><stop offset="0.51433" stop-color="#5cffa3"/><stop offset="0.51778" stop-color="#ff4e00"/><stop offset="0.52123" stop-color="#61ff9e"/><stop offset="0.52468" stop-color="#0afff5"/><stop offset="0.52813" stop-color="#00e7ff"/><stop offset="0.53158" stop-color="#00b0ff"/><stop offset="0.53504" stop-color="#0054ff"/><stop offset="0.53849" stop-color="#0001ff"/><stop offset="0.54194" stop-color="#0000da"/><stop offset="0.54539" stop-color="#0000ca"/><stop offset="0.55230" stop-color="#0000bf"/><stop offset="0.55920" stop-color="#0000bc"/><stop offset="0.58336" stop-color="#0000fa"/><stop offset="0.58681" stop-color="#0003ff"/><stop offset="0.62133" stop-color="#0050ff"/><stop offset="0.64895" stop-color="#007fff"/><stop offset="0.66966" stop-color="#0095ff"/><stop offset="0.67656" stop-color="#00a4ff"/><stop offset="0.68001" stop-color="#00b4ff"/><stop offset="0.68347" stop-color="#00cdff"/><stop offset="0.68692" stop-color="#00f4ff"/><stop offset="0.69037" stop-color="#5cffa3"/><stop offset="0.69382" stop-color="#ff4e00"/><stop offset="0.69727" stop-color="#61ff9e"/><stop offset="0.70072" stop-color="#0afff5"/><stop offset="0.70418" stop-color="#00e7ff"/><stop offset="0.70763" stop-color="#00b0ff"/><stop offset="0.71108" stop-color="#0054ff"/><stop offset="0.71453" stop-color="#0001ff"/><stop offset="0.71798" stop-color="#0000da"/><stop offset="0.72144" stop-color="#0000ca"/><stop offset="0.72834" stop-color="#0000bf"/><stop offset="0.73524" stop-color="#0000bc"/><stop offset="0.76286" stop-color="#0000fe"/><stop offset="0.80428" stop-color="#0056ff"/><stop offset="0.83535" stop-color="#0085ff"/><stop offset="0.85261" stop-color="#0095ff"/><stop offset="0.85951" stop-color="#00a4ff"/><stop offset="0.86296" stop-color="#00b4ff"/><stop offset="0.86641" stop-color="#00cdff"/><stop offset="0.86987" stop-color="#00f4ff"/><stop offset="0.87332" stop-color="#5cffa3"/><stop offset="0.87677" stop-color="#ff4e00"/><stop offset="0.88022" stop-color="#61ff9e"/><stop offset="0.88367" stop-color="#0afff5"/><stop offset="0.88712" stop-color="#00e7ff"/><stop offset="0.89058" stop-color="#00b0ff"/><stop offset="0.89403" stop-color="#0054ff"/><stop offset="0.89748" stop-color="#0001ff"/><stop offset="0.90093" stop-color="#0000da"/><stop offset="0.90438" stop-color="#0000ca"/><stop offset="0.91129" stop-color="#0000bf"/><stop offset="0.91819" stop-color="#0000bc"/><stop offset="0.94581" stop-color="#0000fe"/><stop offset="0.98723" stop-color="#0056ff"/><stop offset="1.00000" stop-color="#006bff"/></linearGradient><linearGradient id="g48"><stop offset="0.00000" stop-color="#00009b"/><stop offset="0.00345" stop-color="#0000ac"/><stop offset="0.01381" stop-color="#0000ef"/><stop offset="0.01726" stop-color="#0000fc"/><stop offset="0.03107" stop-color="#0010ff"/><stop offset="0.07594" stop-color="#003eff"/><stop offset="0.12772" stop-color="#00a4ff"/><stop offset="0.13117" stop-color="#00b4ff"/><stop offset="0.13462" stop-color="#00cdff"/><stop offset="0.13807" stop-color="#00f4ff"/><stop offset="0.14153" stop-color="#5cffa3"/><stop offset="0.14498" stop-color="#ff4e00"/><stop offset="0.14843" stop-color="#61ff9e"/><stop offset="0.15188" stop-color="#0afff5"/><stop offset="0.15533" stop-color="#00e7ff"/><stop offset="0.15878" stop-color="#00b0ff"/><stop offset="0.16224" stop-color="#0054ff"/><stop offset="0.16569" stop-color="#0001ff"/><stop offset="0.16914" stop-color="#0000da"/><stop offset="0.17259" stop-color="#0000ca"/><stop offset="0.17950" stop-color="#0000bf"/><stop offset="0.18640" stop-color="#0000bc"/><stop offset="0.21401" stop-color="#0000fb"/><stop offset="0.22092" stop-color="#000bff"/><stop offset="0.26234" stop-color="#005aff"/><stop offset="0.29341" stop-color="#0086ff"/><stop offset="0.31067" stop-color="#0095ff"/><stop offset="0.31757" stop-color="#00a4ff"/><stop offset="0.32102" stop-color="#00b4ff"/><stop offset="0.32447" stop-color="#00cdff"/><stop offset="0.32793" stop-color="#00f4ff"/><stop offset="0.33138" stop-color="#5cffa3"/><stop offset="0.33483" stop-color="#ff4e00"/><stop offset="0.33828" stop-color="#61ff9e"/><stop offset="0.34173" stop-color="#0afff5"/><stop offset="0.34518" stop-color="#00e7ff"/><stop offset="0.34864" stop-color="#00b0ff"/><stop offset="0.35209" stop-color="#0054ff"/><stop offset="0.35554" stop-color="#0001ff"/><stop offset="0.35899" stop-color="#0000da"/><stop offset="0.36244" stop-color="#0000ca"/><stop offset="0.36935" stop-color="#0000bf"/><stop offset="0.37625" stop-color="#0000bc"/><stop offset="0.39696" stop-color="#0000f8"/><stop offset="0.40041" stop-color="#0003ff"/><stop offset="0.43148" stop-color="#0052ff"/><stop offset="0.45564" stop-color="#0081ff"/><stop offset="0.47635" stop-color="#009cff"/><stop offset="0.47981" stop-color="#00a4ff"/><stop offset="0.48326" stop-color="#00b4ff"/><stop offset="0.48671" stop-color="#00cdff"/><stop offset="0.49016" stop-color="#00f4ff"/><stop offset="0.49361" stop-color="#5cffa3"/><stop offset="0.49707" stop-color="#ff4e00"/><stop offset="0.50052" stop-color="#61ff9e"/><stop offset="0.50397" stop-color="#0afff5"/><stop offset="0.50742" stop-color="#00e7ff"/><stop offset="0.51087" stop-color="#00b0ff"/><stop offset="0.51433" stop-color="#0054ff"/><stop offset="0.51778" stop-color="#0001ff"/><stop offset="0.52123" stop-color="#0000da"/><stop offset="0.52468" stop-color="#0000ca"/><stop offset="0.53158" stop-color="#0000bf"/><stop offset="0.53849" stop-color="#0000bc"/><stop offset="0.57301" stop-color="#0002ff"/><stop offset="0.62133" stop-color="#0055ff"/><stop offset="0.65930" stop-color="#0085ff"/><stop offset="0.68001" stop-color="#0095ff"/><stop offset="0.68692" stop-color="#00a4ff"/><stop offset="0.69037" stop-color="#00b4ff"/><stop offset="0.69382" stop-color="#00cdff"/><stop offset="0.69727" stop-color="#00f4ff"/><stop offset="0.70072" stop-color="#5cffa3"/><stop offset="0.70418" stop-color="#ff4e00"/><stop offset="0.70763" stop-color="#61ff9e"/><stop offset="0.71108" stop-color="#0afff5"/><stop offset="0.71453" stop-color="#00e7ff"/><stop offset="0.71798" stop-color="#00b0ff"/><stop offset="0.72144" stop-color="#0054ff"/><stop offset="0.72489" stop-color="#0001ff"/><stop offset="0.72834" stop-color="#0000da"/><stop offset="0.73179" stop-color="#0000ca"/><stop offset="0.73870" stop-color="#0000bf"/><stop offset="0.74560" stop-color="#0000bc"/><stop offset="0.77321" stop-color="#0000fc"/><stop offset="0.82154" stop-color="#005eff"/><stop offset="0.85261" stop-color="#008aff"/><stop offset="0.86641" stop-color="#0095ff"/><stop offset="0.87332" stop-color="#00a4ff"/><stop offset="0.87677" stop-color="#00b4ff"/><stop offset="0.88022" stop-color="#00cdff"/><stop offset="0.88367" stop-color="#00f4ff"/><stop offset="0.88712" stop-color="#5cffa3"/><stop offset="0.89058" stop-color="#ff4e00"/><stop offset="0.89403" stop-color="#61ff9e"/><stop offset="0.89748" stop-color="#0afff5"/><stop offset="0.90093" stop-color="#00e7ff"/><stop offset="0.90438" stop-color="#00b0ff"/><stop offset="0.90784" stop-color="#0054ff"/><stop offset="0.91129" stop-color="#0001ff"/><stop offset="0.91474" stop-color="#0000da"/><stop offset="0.91819" stop-color="#0000ca"/><stop offset="0.92509" stop-color="#0000bf"/><stop offset="0.93200" stop-color="#0000bc"/><stop offset="0.95961" stop-color="#0000fe"/><stop offset="0.99758" stop-color="#004fff"/><stop offset="1.00000" stop-color="#0053ff"/></linearGradient><linearGradient id="cb" x1="0" y1="0" x2="0" y2="1"><stop offset="0.0000" stop-color="#800000"/><stop offset="0.0156" stop-color="#8f0000"/><stop offset="0.0312" stop-color="#9f0000"/><stop offset="0.0469" stop-color="#af0000"/><stop offset="0.0625" stop-color="#bf0000"/><stop offset="0.0781" stop-color="#cf0000"/><stop offset="0.0938" stop-color="#df0000"/><stop offset="0.1094" stop-color="#ef0000"/><stop offset="0.1250" stop-color="#ff0000"/><stop offset="0.1406" stop-color="#ff1000"/><stop offset="0.1562" stop-color="#ff2000"/><stop offset="0.1719" stop-color="#ff3000"/><stop offset="0.1875" stop-color="#ff4000"/><stop offset="0.2031" stop-color="#ff5000"/><stop offset="0.2188" stop-color="#ff6000"/><stop offset="0.2344" stop-color="#ff7000"/><stop offset="0.2500" stop-color="#ff8000"/><stop offset="0.2656" stop-color="#ff8f00"/><stop offset="0.2812" stop-color="#ff9f00"/><stop offset="0.2969" stop-color="#ffaf00"/><stop offset="0.3125" stop-color="#ffbf00"/><stop offset="0.3281" stop-color="#ffcf00"/><stop offset="0.3438" stop-color="#ffdf00"/><stop offset="0.3594" stop-color="#ffef00"/><stop offset="0.3750" stop-color="#ffff00"/><stop offset="0.3906" stop-color="#efff10"/><stop offset="0.4062" stop-color="#dfff20"/><stop offset="0.4219" stop-color="#cfff30"/><stop offset="0.4375" stop-color="#bfff40"/><stop offset="0.4531" stop-color="#afff50"/><stop offset="0.4688" stop-color="#9fff60"/><stop offset="0.4844" stop-color="#8fff70"/><stop offset="0.5000" stop-color="#80ff80"/><stop offset="0.5156" stop-color="#70ff8f"/><stop offset="0.5312" stop-color="#60ff9f"/><stop offset="0.5469" stop-color="#50ffaf"/><stop offset="0.5625" stop-color="#40ffbf"/><stop offset="0.5781" stop-color="#30ffcf"/><stop offset="0.5938" stop-color="#20ffdf"/><stop offset="0.6094" stop-color="#10ffef"/><stop offset="0.6250" stop-color="#00ffff"/><stop offset="0.6406" stop-color="#00efff"/><stop offset="0.6562" stop-color="#00dfff"/><stop offset="0.6719" stop-color="#00cfff"/><stop offset="0.6875" stop-color="#00bfff"/><stop offset="0.7031" stop-color="#00afff"/><stop offset="0.7188" stop-color="#009fff"/><stop offset="0.7344" stop-color="#008fff"/><stop offset="0.7500" stop-color="#0080ff"/><stop offset="0.7656" stop-color="#0070ff"/><stop offset="0.7812" stop-color="#0060ff"/><stop offset="0.7969" stop-color="#0050ff"/><stop offset="0.8125" stop-color="#0040ff"/><stop offset="0.8281" stop-color="#0030ff"/><stop offset="0.8438" stop-color="#0020ff"/><stop offset="0.8594" stop-color="#0010ff"/><stop offset="0.8750" stop-color="#0000ff"/><stop offset="0.8906" stop-color="#0000ef"/><stop offset="0.9062" stop-color="#0000df"/><stop offset="0.9219" stop-color="#0000cf"/><stop offset="0.9375" stop-color="#0000bf"/><stop offset="0.9531" stop-color="#0000af"/><stop offset="0.9688" stop-color="#00009f"/><stop offset="0.9844" stop-color="#00008f"/><stop offset="1.0000" stop-color="#000080"/></linearGradient></defs><rect x="35.50" y="5.200" width="289.70" height="6.163" fill="url(#g0)"/><rect x="35.50" y="10.563" width="289.70" height="6.163" fill="url(#g1)"/><rect x="35.50" y="15.927" width="289.70" height="6.163" fill="url(#g2)"/><rect x="35.50" y="21.290" width="289.70" height="6.163" fill="url(#g3)"/><rect x="35.50" y="26.653" width="289.70" height="6.163" fill="url(#g4)"/><rect x="35.50" y="32.016" width="289.70" height="6.163" fill="url(#g5)"/><rect x="35.50" y="37.380" width="289.70" height="6.163" fill="url(#g6)"/><rect x="35.50" y="42.743" width="289.70" height="6.163" fill="url(#g7)"/><rect x="35.50" y="48.106" width="289.70" height="6.163" fill="url(#g8)"/><rect x="35.50" y="53.469" width="289.70" height="6.163" fill="url(#g9)"/><rect x="35.50" y="58.833" width="289.70" height="6.163" fill="url(#g10)"/><rect x="35.50" y="64.196" width="289.70" height="6.163" fill="url(#g11)"/><rect x="35.50" y="69.559" width="289.70" height="6.163" fill="url(#g12)"/><rect x="35.50" y="74.922" width="289.70" height="6.163" fill="url(#g13)"/><rect x="35.50" y="80.286" width="289.70" height="6.163" fill="url(#g14)"/><rect x="35.50" y="85.649" width="289.70" height="6.163" fill="url(#g15)"/><rect x="35.50" y="91.012" width="289.70" height="6.163" fill="url(#g16)"/><rect x="35.50" y="96.376" width="289.70" height="6.163" fill="url(#g17)"/><rect x="35.50" y="101.739" width="289.70" height="6.163" fill="url(#g18)"/><rect x="35.50" y="107.102" width="289.70" height="6.163" fill="url(#g19)"/><rect x="35.50" y="112.465" width="289.70" height="6.163" fill="url(#g20)"/><rect x="35.50" y="117.829" width="289.70" height="6.163" fill="url(#g21)"/><rect x="35.50" y="123.192" width="289.70" height="6.163" fill="url(#g22)"/><rect x="35.50" y="128.555" width="289.70" height="6.163" fill="url(#g23)"/><rect x="35.50" y="133.918" width="289.70" height="6.163" fill="url(#g24)"/><rect x="35.50" y="139.282" width="289.70" height="6.163" fill="url(#g25)"/><rect x="35.50" y="144.645" width="289.70" height="6.163" fill="url(#g26)"/><rect x="35.50" y="150.008" width="289.70" height="6.163" fill="url(#g27)"/><rect x="35.50" y="155.371" width="289.70" height="6.163" fill="url(#g28)"/><rect x="35.50" y="160.735" width="289.70" height="6.163" fill="url(#g29)"/><rect x="35.50" y="166.098" width="289.70" height="6.163" fill="url(#g30)"/><rect x="35.50" y="171.461" width="289.70" height="6.163" fill="url(#g31)"/><rect x="35.50" y="176.824" width="289.70" height="6.163" fill="url(#g32)"/><rect x="35.50" y="182.188" width="289.70" height="6.163" fill="url(#g33)"/><rect x="35.50" y="187.551" width="289.70" height="6.163" fill="url(#g34)"/><rect x="35.50" y="192.914" width="289.70" height="6.163" fill="url(#g35)"/><rect x="35.50" y="198.278" width="289.70" height="6.163" fill="url(#g36)"/><rect x="35.50" y="203.641" width="289.70" height="6.163" fill="url(#g37)"/><rect x="35.50" y="209.004" width="289.70" height="6.163" fill="url(#g38)"/><rect x="35.50" y="214.367" width="289.70" height="6.163" fill="url(#g39)"/><rect x="35.50" y="219.731" width="289.70" height="6.163" fill="url(#g40)"/><rect x="35.50" y="225.094" width="289.70" height="6.163" fill="url(#g41)"/><rect x="35.50" y="230.457" width="289.70" height="6.163" fill="url(#g42)"/><rect x="35.50" y="235.820" width="289.70" height="6.163" fill="url(#g43)"/><rect x="35.50" y="241.184" width="289.70" height="6.163" fill="url(#g44)"/><rect x="35.50" y="246.547" width="289.70" height="6.163" fill="url(#g45)"/><rect x="35.50" y="251.910" width="289.70" height="6.163" fill="url(#g46)"/><rect x="35.50" y="257.273" width="289.70" height="6.163" fill="url(#g47)"/><rect x="35.50" y="262.637" width="289.70" height="5.363" fill="url(#g48)"/><line x1="35.55" y1="5.20" x2="35.55" y2="268.00" stroke="#5a5a66" stroke-width="0.9"/></svg>
<svg class="b" width="725" height="334" viewBox="0 0 725 334"><rect x="333.90" y="6.30" width="7.30" height="266.50" fill="url(#cb)" stroke="#333" stroke-width="0.7"/><line x1="339.60" y1="272.20" x2="341.20" y2="272.20" stroke="#333" stroke-width="0.8"/><line x1="339.60" y1="224.26" x2="341.20" y2="224.26" stroke="#333" stroke-width="0.8"/><line x1="339.60" y1="176.32" x2="341.20" y2="176.32" stroke="#333" stroke-width="0.8"/><line x1="339.60" y1="128.38" x2="341.20" y2="128.38" stroke="#333" stroke-width="0.8"/><line x1="339.60" y1="80.44" x2="341.20" y2="80.44" stroke="#333" stroke-width="0.8"/><line x1="339.60" y1="32.50" x2="341.20" y2="32.50" stroke="#333" stroke-width="0.8"/><rect x="417.40" y="5.90" width="295.20" height="267.30" fill="none" stroke="#4d4d4d" stroke-width="1"/><line x1="417.40" y1="273.20" x2="420.40" y2="273.20" stroke="#4d4d4d" stroke-width="1"/><line x1="712.60" y1="273.20" x2="709.60" y2="273.20" stroke="#4d4d4d" stroke-width="1"/><line x1="417.40" y1="235.01" x2="420.40" y2="235.01" stroke="#4d4d4d" stroke-width="1"/><line x1="712.60" y1="235.01" x2="709.60" y2="235.01" stroke="#4d4d4d" stroke-width="1"/><line x1="417.40" y1="196.83" x2="420.40" y2="196.83" stroke="#4d4d4d" stroke-width="1"/><line x1="712.60" y1="196.83" x2="709.60" y2="196.83" stroke="#4d4d4d" stroke-width="1"/><line x1="417.40" y1="158.64" x2="420.40" y2="158.64" stroke="#4d4d4d" stroke-width="1"/><line x1="712.60" y1="158.64" x2="709.60" y2="158.64" stroke="#4d4d4d" stroke-width="1"/><line x1="417.40" y1="120.46" x2="420.40" y2="120.46" stroke="#4d4d4d" stroke-width="1"/><line x1="712.60" y1="120.46" x2="709.60" y2="120.46" stroke="#4d4d4d" stroke-width="1"/><line x1="417.40" y1="82.27" x2="420.40" y2="82.27" stroke="#4d4d4d" stroke-width="1"/><line x1="712.60" y1="82.27" x2="709.60" y2="82.27" stroke="#4d4d4d" stroke-width="1"/><line x1="417.40" y1="44.09" x2="420.40" y2="44.09" stroke="#4d4d4d" stroke-width="1"/><line x1="712.60" y1="44.09" x2="709.60" y2="44.09" stroke="#4d4d4d" stroke-width="1"/><line x1="417.40" y1="5.90" x2="420.40" y2="5.90" stroke="#4d4d4d" stroke-width="1"/><line x1="712.60" y1="5.90" x2="709.60" y2="5.90" stroke="#4d4d4d" stroke-width="1"/><line x1="417.40" y1="273.20" x2="417.40" y2="270.20" stroke="#4d4d4d" stroke-width="1"/><line x1="417.40" y1="5.90" x2="417.40" y2="8.90" stroke="#4d4d4d" stroke-width="1"/><line x1="491.20" y1="273.20" x2="491.20" y2="270.20" stroke="#4d4d4d" stroke-width="1"/><line x1="491.20" y1="5.90" x2="491.20" y2="8.90" stroke="#4d4d4d" stroke-width="1"/><line x1="565.00" y1="273.20" x2="565.00" y2="270.20" stroke="#4d4d4d" stroke-width="1"/><line x1="565.00" y1="5.90" x2="565.00" y2="8.90" stroke="#4d4d4d" stroke-width="1"/><line x1="638.80" y1="273.20" x2="638.80" y2="270.20" stroke="#4d4d4d" stroke-width="1"/><line x1="638.80" y1="5.90" x2="638.80" y2="8.90" stroke="#4d4d4d" stroke-width="1"/><line x1="712.60" y1="273.20" x2="712.60" y2="270.20" stroke="#4d4d4d" stroke-width="1"/><line x1="712.60" y1="5.90" x2="712.60" y2="8.90" stroke="#4d4d4d" stroke-width="1"/><polyline points="417.40,273.20 417.63,269.92 417.85,266.63 418.07,263.34 418.30,260.06 418.54,256.81 418.80,253.60 419.06,250.52 419.33,247.42 419.61,244.33 419.91,241.33 420.24,238.47 420.60,235.80 420.89,233.91 421.19,232.12 421.50,230.41 421.84,228.77 422.20,227.17 422.60,225.60 422.98,224.24 423.39,222.91 423.83,221.62 424.27,220.36 424.73,219.16 425.20,218.00 425.59,217.08 425.98,216.22 426.38,215.39 426.79,214.57 427.23,213.75 427.70,212.90 428.28,211.94 428.91,210.97 429.57,209.99 430.24,209.00 430.89,208.01 431.50,207.00 432.05,206.00 432.56,205.00 433.06,204.00 433.56,202.97 434.10,201.87 434.70,200.70 435.68,198.87 436.77,196.87 437.94,194.75 439.14,192.58 440.34,190.41 441.50,188.30 442.65,186.22 443.84,184.10 445.02,181.99 446.17,179.91 447.24,177.91 448.20,176.00 448.87,174.60 449.50,173.26 450.07,171.97 450.61,170.69 451.12,169.41 451.60,168.10 452.04,166.80 452.44,165.50 452.81,164.20 453.16,162.89 453.48,161.55 453.80,160.20 454.11,158.72 454.40,157.20 454.67,155.66 454.92,154.13 455.16,152.63 455.40,151.20 455.60,150.04 455.80,148.92 455.98,147.84 456.16,146.76 456.34,145.65 456.50,144.50 456.67,143.19 456.83,141.88 456.98,140.55 457.13,139.15 457.27,137.65 457.40,136.00 457.60,133.04 457.77,129.67 457.94,126.05 458.09,122.31 458.24,118.58 458.40,115.00 458.56,111.69 458.71,108.45 458.86,105.22 459.01,101.95 459.16,98.56 459.30,95.00 459.48,90.30 459.65,85.29 459.82,80.11 459.99,74.90 460.15,69.82 460.30,65.00 460.43,61.08 460.54,57.29 460.66,53.60 460.77,49.95 460.89,46.30 461.00,42.60 461.27,51.42 461.54,60.36 461.81,69.29 462.07,78.12 462.34,86.72 462.60,95.00 462.80,101.94 462.98,108.80 463.16,115.49 463.36,121.95 463.60,128.08 463.90,133.80 464.18,137.67 464.50,141.25 464.84,144.64 465.19,147.98 465.51,151.39 465.80,155.00 466.07,159.31 466.30,163.76 466.50,168.29 466.69,172.88 466.89,177.46 467.10,182.00 467.33,186.56 467.55,191.18 467.78,195.81 468.02,200.36 468.26,204.78 468.50,209.00 468.69,212.39 468.87,215.72 469.06,218.95 469.26,222.06 469.50,225.02 469.80,227.80 470.05,230.00 470.31,232.37 470.59,234.65 470.90,236.60 471.27,237.96 471.70,238.50 472.20,238.03 472.76,236.72 473.37,234.85 474.03,232.67 474.70,230.46 475.40,228.50 476.22,226.45 477.08,224.32 477.98,222.15 478.91,219.99 479.85,217.89 480.80,215.90 481.65,214.23 482.52,212.63 483.40,211.07 484.30,209.54 485.20,208.02 486.10,206.50 486.99,205.02 487.88,203.57 488.79,202.13 489.69,200.69 490.60,199.25 491.50,197.80 492.41,196.35 493.32,194.91 494.23,193.48 495.13,192.02 496.02,190.53 496.90,189.00 497.86,187.26 498.83,185.45 499.78,183.60 500.70,181.75 501.55,179.94 502.30,178.20 502.85,176.80 503.35,175.43 503.80,174.09 504.20,172.77 504.57,171.47 504.90,170.20 505.15,169.13 505.35,168.08 505.52,167.06 505.67,166.04 505.83,165.03 506.00,164.00 506.33,163.71 506.66,163.46 507.00,163.20 507.32,162.92 507.63,162.56 507.90,162.10 508.37,160.70 508.70,158.86 508.94,156.70 509.12,154.34 509.29,151.90 509.50,149.50 509.78,146.49 510.04,143.31 510.29,140.00 510.53,136.64 510.76,133.29 511.00,130.00 511.24,126.81 511.48,123.63 511.72,120.45 511.96,117.29 512.18,114.13 512.40,111.00 512.60,107.91 512.78,104.77 512.96,101.64 513.13,98.59 513.31,95.68 513.50,93.00 513.65,91.18 513.79,89.48 513.95,87.87 514.10,86.29 514.25,84.72 514.40,83.10 514.72,84.13 515.05,85.13 515.38,86.13 515.70,87.16 515.98,88.24 516.20,89.40 516.38,91.08 516.45,92.95 516.46,94.90 516.46,96.84 516.49,98.64 516.60,100.20 516.73,101.03 516.88,101.75 517.05,102.40 517.21,103.07 517.37,103.81 517.50,104.70 517.67,106.72 517.77,109.13 517.83,111.79 517.87,114.57 517.92,117.35 518.00,120.00 518.11,122.47 518.23,124.88 518.35,127.29 518.48,129.74 518.60,132.29 518.70,135.00 518.80,138.73 518.87,142.74 518.94,146.91 519.00,151.12 519.08,155.26 519.20,159.20 519.33,162.58 519.48,165.89 519.64,169.14 519.82,172.33 520.00,175.49 520.20,178.60 520.40,181.39 520.61,184.08 520.83,186.74 521.05,189.41 521.28,192.14 521.50,195.00 521.71,198.52 521.88,202.22 522.05,206.01 522.26,209.80 522.56,213.49 523.00,217.00 523.51,220.28 524.12,223.89 524.79,227.43 525.51,230.49 526.26,232.65 527.00,233.50 527.53,233.12 528.06,232.05 528.60,230.52 529.17,228.73 529.76,226.92 530.40,225.30 531.21,223.57 532.08,221.77 532.99,219.93 533.93,218.08 534.87,216.26 535.80,214.50 536.67,212.89 537.55,211.31 538.43,209.75 539.32,208.20 540.21,206.66 541.10,205.10 542.01,203.53 542.93,201.94 543.86,200.36 544.78,198.79 545.66,197.23 546.50,195.70 547.25,194.32 547.99,192.97 548.72,191.63 549.39,190.29 549.99,188.95 550.50,187.60 550.86,186.34 551.13,185.07 551.34,183.81 551.52,182.54 551.69,181.27 551.90,180.00 552.90,182.00 553.40,181.15 553.91,180.31 554.42,179.47 554.92,178.62 555.42,177.76 555.90,176.90 556.39,176.03 556.88,175.17 557.36,174.30 557.82,173.42 558.24,172.49 558.60,171.50 558.92,170.21 559.13,168.77 559.29,167.28 559.44,165.82 559.63,164.50 559.90,163.40 560.11,162.90 560.34,162.50 560.59,162.15 560.84,161.79 561.08,161.36 561.30,160.80 561.74,158.71 562.11,155.78 562.43,152.47 562.73,149.21 563.04,146.47 563.40,144.70 563.52,144.43 563.64,144.24 563.76,144.10 563.88,143.96 563.99,143.77 564.10,143.50 564.38,141.90 564.57,139.46 564.72,136.59 564.86,133.66 565.04,131.07 565.30,129.20 565.44,128.70 565.60,128.32 565.76,128.00 565.92,127.68 566.07,127.30 566.20,126.80 566.42,124.92 566.52,122.31 566.58,119.36 566.64,116.46 566.76,114.01 567.00,112.40 567.11,112.12 567.22,111.93 567.34,111.78 567.47,111.63 567.59,111.45 567.70,111.20 567.94,110.38 568.15,109.33 568.35,108.10 568.54,106.77 568.72,105.38 568.90,104.00 569.12,102.18 569.33,100.23 569.52,98.19 569.71,96.11 569.90,94.04 570.10,92.00 570.28,95.35 570.44,98.88 570.60,102.41 570.79,105.76 571.01,108.75 571.30,111.20 571.48,112.14 571.69,112.88 571.90,113.53 572.12,114.19 572.32,114.98 572.50,116.00 572.85,119.92 573.06,125.18 573.19,131.31 573.29,137.81 573.41,144.21 573.60,150.00 573.83,154.67 574.08,159.20 574.34,163.65 574.62,168.05 574.91,172.45 575.20,176.90 575.49,181.44 575.80,186.04 576.11,190.65 576.43,195.19 576.76,199.59 577.10,203.80 577.37,207.24 577.63,210.66 577.89,213.98 578.19,217.14 578.55,220.07 579.00,222.70 579.34,224.41 579.71,226.17 580.11,227.84 580.54,229.24 581.00,230.21 581.50,230.60 582.06,230.25 582.65,229.26 583.28,227.80 583.94,226.08 584.65,224.28 585.40,222.60 586.57,220.21 587.86,217.55 589.24,214.74 590.65,211.89 592.05,209.10 593.40,206.50 594.56,204.37 595.73,202.31 596.89,200.30 598.03,198.32 599.14,196.36 600.20,194.40 601.19,192.53 602.18,190.64 603.15,188.76 604.06,186.93 604.85,185.20 605.50,183.60 605.84,182.62 606.12,181.73 606.35,180.87 606.55,180.03 606.73,179.15 606.90,178.20 607.09,176.96 607.24,175.66 607.36,174.30 607.47,172.93 607.58,171.55 607.70,170.20 609.00,176.90 610.90,170.20 611.70,171.50 613.60,166.70 614.40,168.30 616.30,162.90 616.44,163.00 616.57,163.13 616.71,163.25 616.85,163.35 616.98,163.41 617.10,163.40 617.35,163.06 617.57,162.36 617.75,161.40 617.91,160.29 618.05,159.16 618.20,158.10 618.37,156.89 618.51,155.66 618.64,154.38 618.76,153.02 618.88,151.57 619.00,150.00 619.18,147.30 619.35,144.27 619.52,141.01 619.69,137.63 619.88,134.23 620.10,130.90 620.37,127.44 620.68,123.94 621.00,120.41 621.34,116.87 621.67,113.33 622.00,109.80 623.50,121.30 624.90,109.80 625.10,111.27 625.30,112.67 625.50,114.08 625.70,115.54 625.90,117.13 626.10,118.90 626.42,122.23 626.74,126.02 627.07,130.14 627.38,134.41 627.70,138.68 628.00,142.80 628.29,146.84 628.58,150.94 628.86,155.05 629.14,159.09 629.41,163.03 629.70,166.80 629.95,169.79 630.21,172.61 630.46,175.35 630.72,178.10 630.96,180.95 631.20,184.00 631.46,188.19 631.68,192.76 631.90,197.49 632.13,202.16 632.38,206.53 632.70,210.40 632.92,212.73 633.14,214.92 633.36,216.98 633.63,218.91 633.97,220.72 634.40,222.40 634.77,223.66 635.19,224.97 635.63,226.21 636.12,227.26 636.64,228.00 637.20,228.30 637.92,227.99 638.72,227.09 639.57,225.77 640.44,224.23 641.29,222.64 642.10,221.20 642.96,219.66 643.78,218.04 644.59,216.37 645.38,214.67 646.18,212.97 647.00,211.30 647.83,209.66 648.66,208.03 649.50,206.40 650.34,204.77 651.17,203.13 652.00,201.50 652.85,199.85 653.72,198.19 654.59,196.53 655.43,194.88 656.21,193.27 656.90,191.70 657.41,190.42 657.88,189.14 658.30,187.89 658.68,186.67 659.02,185.51 659.30,184.40 659.47,183.61 659.61,182.86 659.71,182.14 659.80,181.43 659.89,180.72 660.00,180.00 661.30,181.90 661.59,181.11 661.88,180.35 662.17,179.59 662.46,178.80 662.73,177.95 663.00,177.00 663.37,175.34 663.72,173.46 664.04,171.43 664.36,169.33 664.67,167.23 665.00,165.20 666.20,170.90 666.49,169.66 666.78,168.41 667.07,167.16 667.36,165.92 667.64,164.69 667.90,163.50 668.12,162.45 668.32,161.42 668.52,160.41 668.71,159.41 668.90,158.41 669.10,157.40 670.40,162.30 672.80,154.90 672.84,153.62 672.83,152.18 672.83,150.73 672.87,149.46 672.98,148.52 673.20,148.10 673.37,148.16 673.56,148.39 673.78,148.70 674.00,149.02 674.21,149.25 674.40,149.30 674.83,148.38 675.11,146.26 675.29,143.33 675.44,140.00 675.59,136.65 675.80,133.70 676.07,131.00 676.35,128.29 676.63,125.57 676.92,122.85 677.21,120.12 677.50,117.40 679.20,131.30 680.60,117.40 680.88,120.56 681.15,123.79 681.42,127.01 681.70,130.18 681.99,133.22 682.30,136.10 682.57,138.18 682.87,140.05 683.18,141.85 683.48,143.71 683.76,145.75 684.00,148.10 684.32,153.44 684.53,160.06 684.67,167.25 684.80,174.28 684.96,180.43 685.20,185.00 685.32,186.26 685.45,187.27 685.58,188.13 685.72,188.97 685.86,189.88 686.00,191.00 686.23,193.32 686.47,196.01 686.71,198.93 686.96,201.95 687.22,204.92 687.50,207.70 687.74,210.13 687.96,212.57 688.19,214.98 688.46,217.29 688.79,219.45 689.20,221.40 689.55,222.75 689.92,224.15 690.33,225.48 690.77,226.60 691.23,227.39 691.70,227.70 692.18,227.48 692.68,226.83 693.21,225.87 693.74,224.73 694.28,223.53 694.80,222.40 695.48,220.87 696.13,219.17 696.79,217.36 697.47,215.51 698.19,213.67 699.00,211.90 699.94,210.14 700.96,208.43 702.04,206.72 703.15,205.00 704.24,203.24 705.30,201.40 706.44,199.25 707.56,197.02 708.67,194.73 709.78,192.41 710.89,190.09 712.00,187.80" fill="none" stroke="#ff0000" stroke-width="1.5" stroke-linejoin="round"/><g font-family="Liberation Serif, serif" fill="#262626" stroke="#262626" stroke-width="0.2" text-rendering="geometricPrecision"><text transform="translate(31.20 251.35) scale(0.95 1)" text-anchor="end" font-size="13.5">5</text><text transform="translate(31.20 224.53) scale(0.95 1)" text-anchor="end" font-size="13.5">10</text><text transform="translate(31.20 197.71) scale(0.95 1)" text-anchor="end" font-size="13.5">15</text><text transform="translate(31.20 170.90) scale(0.95 1)" text-anchor="end" font-size="13.5">20</text><text transform="translate(31.20 144.08) scale(0.95 1)" text-anchor="end" font-size="13.5">25</text><text transform="translate(31.20 117.27) scale(0.95 1)" text-anchor="end" font-size="13.5">30</text><text transform="translate(31.20 90.45) scale(0.95 1)" text-anchor="end" font-size="13.5">35</text><text transform="translate(31.20 63.63) scale(0.95 1)" text-anchor="end" font-size="13.5">40</text><text transform="translate(31.20 36.82) scale(0.95 1)" text-anchor="end" font-size="13.5">45</text><text transform="translate(31.20 10.00) scale(0.95 1)" text-anchor="end" font-size="13.5">50</text><text transform="translate(35.50 284.80) scale(0.95 1)" text-anchor="middle" font-size="13.5">0</text><text transform="translate(93.44 284.80) scale(0.95 1)" text-anchor="middle" font-size="13.5">400</text><text transform="translate(151.38 284.80) scale(0.95 1)" text-anchor="middle" font-size="13.5">800</text><text transform="translate(209.32 284.80) scale(0.95 1)" text-anchor="middle" font-size="13.5">1200</text><text transform="translate(267.26 284.80) scale(0.95 1)" text-anchor="middle" font-size="13.5">1600</text><text transform="translate(325.20 284.80) scale(0.95 1)" text-anchor="middle" font-size="13.5">2000</text><text x="181.00" y="302.60" text-anchor="middle" font-size="14">Time/min</text><text x="182.50" y="330.80" text-anchor="middle" font-size="18">(a)</text><text x="0" y="0" transform="translate(11.30 136.80) rotate(-90)" text-anchor="middle" font-size="14">Cells</text><text transform="translate(346.20 278.00) scale(0.95 1)" text-anchor="start" font-size="13.5">0</text><text transform="translate(346.20 230.06) scale(0.95 1)" text-anchor="start" font-size="13.5">1</text><text transform="translate(346.20 182.12) scale(0.95 1)" text-anchor="start" font-size="13.5">2</text><text transform="translate(346.20 134.18) scale(0.95 1)" text-anchor="start" font-size="13.5">3</text><text transform="translate(346.20 86.24) scale(0.95 1)" text-anchor="start" font-size="13.5">4</text><text transform="translate(346.20 38.30) scale(0.95 1)" text-anchor="start" font-size="13.5">5</text><text transform="translate(412.20 278.40) scale(0.95 1)" text-anchor="end" font-size="13.5">0</text><text transform="translate(412.20 240.21) scale(0.95 1)" text-anchor="end" font-size="13.5">0.5</text><text transform="translate(412.20 202.03) scale(0.95 1)" text-anchor="end" font-size="13.5">1</text><text transform="translate(412.20 163.84) scale(0.95 1)" text-anchor="end" font-size="13.5">1.5</text><text transform="translate(412.20 125.66) scale(0.95 1)" text-anchor="end" font-size="13.5">2</text><text transform="translate(412.20 87.47) scale(0.95 1)" text-anchor="end" font-size="13.5">2.5</text><text transform="translate(412.20 49.29) scale(0.95 1)" text-anchor="end" font-size="13.5">3</text><text transform="translate(412.20 11.10) scale(0.95 1)" text-anchor="end" font-size="13.5">3.5</text><text transform="translate(417.40 291.60) scale(0.95 1)" text-anchor="middle" font-size="13.5">0</text><text transform="translate(491.20 291.60) scale(0.95 1)" text-anchor="middle" font-size="13.5">500</text><text transform="translate(565.00 291.60) scale(0.95 1)" text-anchor="middle" font-size="13.5">1000</text><text transform="translate(638.80 291.60) scale(0.95 1)" text-anchor="middle" font-size="13.5">1500</text><text transform="translate(712.60 291.60) scale(0.95 1)" text-anchor="middle" font-size="13.5">2000</text><text x="565.00" y="309.70" text-anchor="middle" font-size="14">Time/min</text><text x="566.70" y="330.80" text-anchor="middle" font-size="18">(b)</text><text x="0" y="0" transform="translate(388.50 139.30) rotate(-90)" text-anchor="middle" font-size="14.5">[p53]</text></g></svg>
</body></html>
